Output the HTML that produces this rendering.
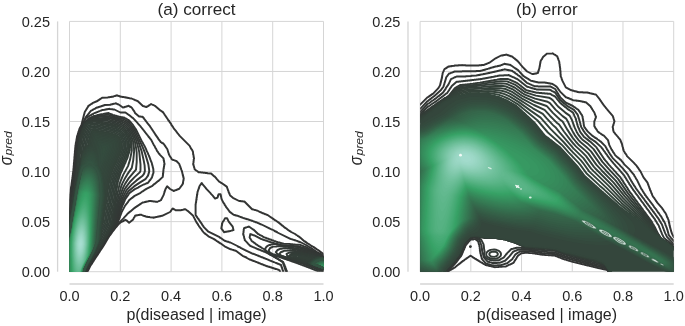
<!DOCTYPE html>
<html><head><meta charset="utf-8"><style>
html,body{margin:0;padding:0;background:#fff;width:685px;height:326px;overflow:hidden}
svg{display:block;will-change:transform}
</style></head><body>
<svg width="685" height="326" viewBox="0 0 685 326" font-family='"Liberation Sans", sans-serif' font-size="14.5" fill="#262626">
<defs><clipPath id="clipL"><rect x="69.5" y="21.4" width="254.0" height="250.29999999999998"/></clipPath><clipPath id="clipR"><rect x="420.1" y="21.4" width="253.60000000000002" height="250.29999999999998"/></clipPath></defs>
<rect width="685" height="326" fill="#fff"/>
<line x1="69.50" y1="21.40" x2="69.50" y2="271.70" stroke="#d5d5d5" stroke-width="1"/>
<line x1="120.30" y1="21.40" x2="120.30" y2="271.70" stroke="#d5d5d5" stroke-width="1"/>
<line x1="171.10" y1="21.40" x2="171.10" y2="271.70" stroke="#d5d5d5" stroke-width="1"/>
<line x1="221.90" y1="21.40" x2="221.90" y2="271.70" stroke="#d5d5d5" stroke-width="1"/>
<line x1="272.70" y1="21.40" x2="272.70" y2="271.70" stroke="#d5d5d5" stroke-width="1"/>
<line x1="323.50" y1="21.40" x2="323.50" y2="271.70" stroke="#d5d5d5" stroke-width="1"/>
<line x1="69.50" y1="271.70" x2="323.50" y2="271.70" stroke="#d5d5d5" stroke-width="1"/>
<line x1="69.50" y1="221.64" x2="323.50" y2="221.64" stroke="#d5d5d5" stroke-width="1"/>
<line x1="69.50" y1="171.58" x2="323.50" y2="171.58" stroke="#d5d5d5" stroke-width="1"/>
<line x1="69.50" y1="121.52" x2="323.50" y2="121.52" stroke="#d5d5d5" stroke-width="1"/>
<line x1="69.50" y1="71.46" x2="323.50" y2="71.46" stroke="#d5d5d5" stroke-width="1"/>
<line x1="69.50" y1="21.40" x2="323.50" y2="21.40" stroke="#d5d5d5" stroke-width="1"/>
<line x1="420.10" y1="21.40" x2="420.10" y2="271.70" stroke="#d5d5d5" stroke-width="1"/>
<line x1="470.82" y1="21.40" x2="470.82" y2="271.70" stroke="#d5d5d5" stroke-width="1"/>
<line x1="521.54" y1="21.40" x2="521.54" y2="271.70" stroke="#d5d5d5" stroke-width="1"/>
<line x1="572.26" y1="21.40" x2="572.26" y2="271.70" stroke="#d5d5d5" stroke-width="1"/>
<line x1="622.98" y1="21.40" x2="622.98" y2="271.70" stroke="#d5d5d5" stroke-width="1"/>
<line x1="673.70" y1="21.40" x2="673.70" y2="271.70" stroke="#d5d5d5" stroke-width="1"/>
<line x1="420.10" y1="271.70" x2="673.70" y2="271.70" stroke="#d5d5d5" stroke-width="1"/>
<line x1="420.10" y1="221.64" x2="673.70" y2="221.64" stroke="#d5d5d5" stroke-width="1"/>
<line x1="420.10" y1="171.58" x2="673.70" y2="171.58" stroke="#d5d5d5" stroke-width="1"/>
<line x1="420.10" y1="121.52" x2="673.70" y2="121.52" stroke="#d5d5d5" stroke-width="1"/>
<line x1="420.10" y1="71.46" x2="673.70" y2="71.46" stroke="#d5d5d5" stroke-width="1"/>
<line x1="420.10" y1="21.40" x2="673.70" y2="21.40" stroke="#d5d5d5" stroke-width="1"/>
<g clip-path="url(#clipL)"><g fill="none" stroke-width="1.95" stroke-linejoin="round"><path d="M335.1,285.3L285.1,285.3 284.7,284.6 284.7,284.1 284.2,283.4 283.7,281.4 283.2,280.6 282.9,279.4 282.4,278.6 281.9,276.6 281.4,275.9 280.9,273.9 280.4,273.1 280.2,271.9 279.7,271.1 279.7,270.6 279.4,270.1 278.9,270.0 278.6,269.8 278.1,269.8 277.9,269.5 277.4,269.5 276.4,269.0 275.6,269.0 275.4,268.8 274.9,268.8 274.6,268.5 273.4,268.3 273.1,268.0 271.9,267.8 271.6,267.5 271.1,267.5 270.9,267.3 269.6,267.0 269.4,266.8 268.6,266.8 267.6,266.3 267.1,266.3 266.1,265.8 265.6,265.8 264.9,265.3 264.4,265.3 263.6,264.8 263.1,264.8 262.4,264.3 261.9,264.3 259.9,263.3 259.4,263.3 258.6,262.8 257.4,262.5 256.6,262.0 256.1,262.0 255.4,261.5 254.9,261.5 254.1,261.0 253.6,261.0 252.1,260.3 251.6,260.3 250.9,259.8 250.4,259.8 246.9,258.0 246.4,257.5 242.6,255.8 235.9,250.8 235.4,250.8 235.1,250.5 233.9,250.3 233.6,250.0 232.9,250.0 231.9,249.5 231.4,249.5 231.1,249.3 230.6,249.3 224.6,246.3 220.4,243.3 220.1,243.3 219.6,242.8 219.4,242.8 218.9,242.3 218.6,242.3 218.1,241.8 217.9,241.8 217.4,241.3 216.4,240.8 215.1,239.8 214.9,239.8 214.4,239.3 214.1,239.3 213.6,238.8 208.4,236.3 205.6,234.0 205.4,234.0 204.4,233.0 204.1,233.0 202.0,230.4 201.5,229.4 200.0,227.6 200.0,227.4 199.2,226.6 198.7,225.6 198.2,225.1 198.0,224.4 196.5,222.4 192.9,215.4 187.6,210.7 187.4,210.7 185.4,209.2 184.4,209.2 184.1,209.5 183.4,209.5 183.1,209.7 181.4,210.0 181.1,210.2 175.6,210.2 174.6,209.5 173.4,209.0 172.9,208.5 172.5,208.6 172.5,208.9 171.7,209.6 171.2,210.6 170.1,212.0 162.6,215.7 161.6,215.7 161.4,216.0 160.6,216.0 160.4,216.2 159.4,216.2 159.1,216.5 158.1,216.5 157.9,216.7 157.1,216.7 156.9,217.0 155.9,217.0 155.6,217.2 154.9,217.2 154.6,217.5 153.6,217.5 153.4,217.7 153.1,217.5 149.9,217.2 149.6,217.0 147.9,217.0 147.6,216.7 146.1,216.7 144.6,216.0 143.4,215.7 143.1,215.5 142.6,215.5 141.1,214.7 139.4,214.7 139.1,215.0 138.1,215.0 137.9,215.3 136.6,215.3 136.4,215.5 135.4,215.5 135.0,215.9 134.5,217.1 134.0,217.6 133.2,219.4 129.1,222.8 126.4,220.3 125.4,219.8 123.9,220.6 123.4,221.1 121.6,221.8 119.6,223.3 119.4,223.4 116.9,226.1 116.9,226.4 115.4,227.9 115.4,228.1 114.4,229.1 114.4,229.4 112.1,232.1 111.6,233.1 110.9,233.9 110.9,234.1 109.4,235.9 108.6,237.4 108.1,237.9 107.8,238.6 107.4,239.1 107.1,239.9 106.6,240.4 106.1,241.6 105.6,242.1 105.3,242.9 104.9,243.4 104.6,244.1 104.1,244.6 103.8,245.4 103.4,245.9 103.3,246.1 102.9,246.6 102.8,246.9 100.4,250.4 100.3,250.6 99.9,251.1 99.6,251.9 99.1,252.4 99.1,252.6 98.6,253.1 98.6,253.4 98.1,253.9 98.1,254.1 95.6,257.6 95.6,257.9 95.1,258.4 94.8,259.1 94.4,259.6 93.8,260.6 92.4,262.6 92.1,263.4 90.6,265.4 87.6,271.6 87.6,272.4 87.4,272.6 87.3,273.4 87.1,273.6 87.1,274.4 86.9,274.6 86.8,275.4 86.6,275.6 86.6,276.4 86.4,276.6 86.3,277.4 86.1,277.6 86.1,278.4 85.9,278.6 85.8,279.4 85.6,279.6 85.6,280.4 85.4,280.6 85.3,281.4 85.1,281.6 85.1,282.4 84.9,282.6 84.8,283.4 84.6,283.6 84.6,284.4 84.4,284.6 84.3,285.1 83.9,285.4 60.1,285.4 59.9,285.1 59.9,283.1 59.6,282.9 59.6,278.6 59.4,278.4 59.4,274.4 59.1,274.1 59.1,269.9 58.9,269.6 58.9,265.6 58.6,265.4 58.6,261.1 58.4,260.9 58.4,256.9 58.2,256.6 58.1,252.4 57.9,252.1 57.9,249.9 58.4,248.9 58.4,248.1 58.6,247.9 58.9,246.6 59.1,246.4 59.2,245.6 59.4,245.4 59.4,244.9 59.9,243.9 59.9,243.1 60.1,242.9 60.2,242.4 60.6,241.4 60.7,240.6 60.9,240.4 61.2,239.1 61.4,238.9 61.4,238.1 61.6,237.9 61.9,236.6 62.1,236.4 62.2,235.6 62.4,235.4 62.7,234.1 62.9,233.9 62.9,233.1 63.1,232.9 63.2,232.4 63.6,231.4 63.7,230.6 63.9,230.4 63.9,229.6 64.1,229.4 64.4,226.6 64.6,226.4 64.7,225.4 64.9,225.1 64.9,223.9 65.1,223.6 65.2,222.4 65.4,222.1 65.4,220.9 65.6,220.6 65.7,219.6 65.9,219.4 65.9,218.1 66.1,217.9 66.2,216.6 66.4,216.4 66.4,215.4 66.6,215.1 66.7,213.9 66.9,213.6 66.9,212.4 67.1,212.1 67.2,210.9 67.4,210.6 67.4,209.6 67.6,209.4 67.7,208.1 67.9,207.9 67.9,206.6 68.1,206.4 68.2,205.1 68.4,204.9 68.4,203.6 68.6,203.4 68.7,202.1 68.9,201.9 68.9,200.6 69.1,200.4 69.2,199.1 69.4,198.9 69.7,196.1 69.9,195.9 69.9,194.4 70.1,194.1 70.2,192.9 70.4,192.6 70.7,189.4 70.9,189.1 70.9,187.9 71.1,187.6 71.2,186.1 71.4,185.9 71.7,182.6 71.9,182.4 71.9,180.9 72.1,180.6 72.2,179.1 72.4,178.9 72.4,177.4 72.6,177.1 72.7,175.4 72.9,175.1 72.9,173.4 73.1,173.1 73.2,171.4 73.4,171.1 73.4,168.9 73.6,168.6 73.7,165.9 73.9,165.6 73.9,162.9 74.1,162.6 74.2,159.9 74.4,159.6 74.4,156.9 74.6,156.6 74.7,153.9 74.9,153.6 74.9,150.9 75.1,150.6 75.2,147.9 75.4,147.6 75.4,145.6 75.6,145.4 75.9,142.6 76.1,142.4 76.2,141.4 76.4,141.1 76.4,139.9 76.6,139.6 76.7,138.4 76.9,138.1 76.9,136.9 77.1,136.6 77.2,135.9 77.4,135.6 77.4,135.1 77.6,134.9 78.2,132.9 78.4,132.6 78.4,131.9 78.6,131.6 78.7,131.1 78.9,130.9 79.4,128.9 81.6,124.6 81.7,123.9 81.9,123.6 81.9,122.9 82.2,122.6 82.2,121.9 82.4,121.6 82.4,120.9 82.7,120.6 82.7,119.9 82.9,119.6 82.9,118.9 83.2,118.6 83.2,117.9 83.4,117.6 83.4,116.9 83.7,116.6 83.7,115.9 83.9,115.6 83.9,114.9 84.2,114.6 84.2,113.9 84.5,113.6 84.5,112.9 84.7,112.6 84.7,112.1 85.2,111.1 85.7,110.6 86.0,109.9 86.5,109.4 86.7,108.6 87.2,108.1 87.5,107.4 88.0,106.9 88.2,106.1 91.6,103.7 91.9,103.7 92.4,103.2 97.4,101.0 97.9,100.5 98.1,100.5 98.6,100.0 98.9,100.0 99.4,99.5 99.6,99.5 100.1,99.0 100.4,99.0 102.1,97.7 107.9,97.5 108.1,97.2 109.6,97.2 109.9,97.0 111.1,97.0 111.4,96.7 112.9,96.7 113.1,96.5 113.6,96.5 114.6,96.0 115.1,96.0 115.4,95.7 115.9,95.7 116.1,95.5 116.6,95.5 116.9,95.3 117.1,95.5 117.6,95.5 117.9,95.8 119.1,96.0 119.4,96.3 119.9,96.3 120.1,96.5 120.6,96.5 120.9,96.8 122.1,96.8 122.4,97.0 123.9,97.0 124.1,97.3 125.4,97.3 125.6,97.5 126.6,97.5 126.9,97.8 127.9,97.8 128.1,98.0 129.1,98.0 129.4,98.2 131.6,98.5 133.6,99.5 134.1,99.5 135.4,100.3 135.9,100.3 136.6,100.8 137.1,100.8 137.6,101.0 142.9,106.0 144.1,106.3 144.4,106.5 144.9,106.5 145.1,106.8 145.6,106.8 145.9,107.0 146.6,107.0 147.1,106.5 148.6,105.8 149.1,105.3 149.4,105.3 151.1,104.0 152.9,105.0 153.4,105.0 154.9,105.8 160.4,110.5 160.6,110.5 163.2,112.4 163.2,112.6 163.7,113.1 163.7,113.4 164.2,113.9 164.7,114.9 165.4,115.6 165.4,115.9 165.9,116.4 165.9,116.6 166.4,117.1 166.4,117.4 166.9,117.9 166.9,118.1 167.4,118.6 167.9,119.6 168.4,120.1 168.4,120.4 169.2,121.1 169.2,121.4 171.2,124.1 171.4,124.9 172.9,126.9 173.7,128.4 176.5,131.6 176.5,131.9 177.2,132.6 177.2,132.9 178.2,133.9 178.2,134.1 179.2,135.1 179.2,135.4 189.7,145.9 190.9,148.4 192.2,150.1 192.7,151.1 192.7,151.6 193.0,151.9 193.2,154.6 193.5,154.9 193.5,156.1 193.7,156.4 193.7,157.6 194.0,157.9 194.0,159.1 193.7,159.4 193.7,161.1 193.5,161.4 193.5,163.1 193.2,163.4 193.2,164.4 193.5,164.6 193.5,165.4 193.7,165.6 193.7,166.1 194.0,166.4 194.0,167.1 194.5,168.1 194.5,168.9 195.1,169.8 195.4,169.8 196.1,170.5 197.1,171.0 198.6,172.3 200.6,172.3 200.9,172.5 202.9,172.5 203.1,172.8 205.1,172.8 205.4,173.0 207.1,173.0 207.4,173.3 211.1,173.5 214.1,176.3 214.4,176.3 216.2,178.1 216.2,178.4 219.4,181.8 219.6,181.8 220.9,182.8 221.6,183.0 226.7,186.6 227.0,187.1 227.0,187.6 227.5,188.4 227.5,188.9 228.0,189.9 228.0,190.4 228.5,191.1 228.7,192.4 229.5,193.6 229.5,194.1 230.2,195.6 232.9,197.8 239.1,201.0 240.6,201.0 240.9,201.3 242.6,201.3 242.9,201.5 244.4,201.5 252.1,209.3 252.6,209.3 252.9,209.5 253.6,209.5 254.6,210.0 255.4,210.0 256.4,210.5 257.1,210.5 260.6,212.3 261.1,212.3 262.9,213.3 263.4,213.3 264.1,213.8 264.6,213.8 265.4,214.3 265.9,214.3 266.6,214.8 267.1,214.8 267.6,215.0 271.1,217.5 271.4,217.5 272.6,218.5 272.9,218.5 273.6,219.3 273.9,219.3 275.1,220.3 275.4,220.3 278.1,222.3 278.4,222.3 279.4,223.3 279.6,223.3 280.6,224.3 280.9,224.3 282.1,225.5 282.4,225.5 284.6,227.5 284.9,227.5 285.6,228.2 286.6,228.7 288.4,230.2 288.6,230.2 289.9,231.2 290.6,231.5 291.1,232.0 295.1,234.0 296.4,235.0 297.4,235.5 298.1,236.2 299.1,236.7 299.6,237.2 299.9,237.2 304.6,241.4 304.9,241.4 306.9,242.9 307.1,242.9 308.4,243.9 309.1,244.2 311.9,246.2 312.6,246.4 313.1,246.9 313.4,246.9 316.9,249.4 317.9,249.9 318.4,250.4 319.4,250.9 319.9,251.4 320.1,251.4 320.9,252.2 321.1,252.2 323.6,254.2 324.1,254.2 325.1,254.7 325.6,254.7 325.9,254.9 326.4,254.9 326.6,255.2 328.6,255.7 329.4,256.2 329.9,256.2 330.1,256.4 330.6,256.4 330.9,256.7 331.4,256.7 331.6,256.9 332.1,256.9 332.4,257.2 332.9,257.2 333.1,257.4 333.6,257.4 334.6,257.9 335.1,257.9 335.3,258.1 335.3,259.1 335.3,284.1 335.3,285.1 335.1,285.3Z" stroke="#333433"/><path d="M60.1,285.3L59.9,285.1 59.7,274.6 59.5,274.1 59.5,267.6 59.3,267.4 59.2,260.9 59.0,260.4 59.0,253.6 58.8,253.4 58.8,249.9 59.2,248.9 59.3,248.1 60.0,246.4 60.0,245.6 60.7,243.9 60.8,243.1 61.5,241.4 61.5,240.6 62.2,238.9 62.3,238.1 63.0,236.4 63.0,235.6 63.7,233.9 63.8,233.1 64.5,231.4 64.5,230.6 64.7,230.4 64.8,229.6 65.0,229.4 65.3,226.6 65.5,226.4 65.5,225.4 65.7,225.1 65.8,223.9 66.0,223.6 66.0,222.4 66.2,222.1 66.3,220.9 66.5,220.6 66.5,219.6 66.7,219.4 67.0,216.6 67.2,216.4 67.3,215.4 67.5,215.1 67.5,213.9 67.7,213.6 68.0,210.9 68.2,210.6 68.3,209.6 68.5,209.4 68.5,208.1 68.7,207.9 68.8,206.6 69.0,206.4 69.0,205.1 69.2,204.9 69.3,203.6 69.5,203.4 69.5,202.1 69.7,201.9 69.8,200.6 70.0,200.4 70.0,199.1 70.2,198.9 70.3,197.6 70.5,197.4 70.5,196.1 70.7,195.9 70.8,194.4 71.0,194.1 71.0,192.9 71.2,192.6 71.5,189.4 71.7,189.1 71.8,187.9 72.0,187.6 72.3,184.4 72.5,184.1 72.5,182.6 72.7,182.4 72.8,180.9 73.0,180.6 73.0,179.1 73.2,178.9 73.3,177.4 73.5,177.1 73.5,175.4 73.7,175.1 74.0,171.4 74.2,171.1 74.3,168.9 74.5,168.6 74.5,165.9 74.7,165.6 74.8,162.9 75.0,162.6 75.0,159.9 75.2,159.6 75.3,156.9 75.5,156.6 75.5,153.9 75.7,153.6 75.8,150.9 76.0,150.6 76.0,147.9 76.2,147.6 76.3,145.6 76.5,145.4 76.8,142.6 77.0,142.4 77.0,141.4 77.2,141.1 77.5,138.4 77.7,138.1 77.8,136.9 78.0,136.6 78.0,135.9 78.2,135.6 78.3,135.1 79.2,132.6 79.3,131.9 79.5,131.6 80.3,128.9 82.5,124.4 82.9,124.2 83.2,123.6 83.2,123.1 84.4,120.6 84.4,120.1 85.1,118.9 85.2,118.4 86.0,116.9 86.7,116.1 86.7,115.9 88.0,114.6 88.0,114.4 89.2,113.1 89.2,112.9 91.1,110.7 92.4,110.2 92.9,109.7 95.1,108.7 95.6,108.2 97.1,107.5 97.6,107.5 97.9,107.2 98.4,107.2 98.6,107.0 99.9,106.7 100.1,106.5 101.4,106.2 101.6,106.0 102.1,106.0 102.4,105.7 102.9,105.7 103.1,105.5 103.6,105.5 103.9,105.2 104.4,105.2 104.6,105.0 110.4,104.7 110.6,104.5 111.4,104.5 111.6,104.2 112.4,104.2 112.6,104.0 113.4,104.0 113.6,103.7 115.4,103.5 115.6,103.2 117.4,104.2 117.9,104.2 119.4,105.0 122.9,107.5 123.4,107.5 123.6,107.2 124.4,107.2 124.6,107.0 126.6,106.5 126.9,106.2 127.6,106.2 128.6,105.7 129.6,106.5 130.9,107.0 132.0,107.9 132.8,109.4 134.3,111.4 135.0,112.9 139.1,116.5 140.6,116.5 140.9,116.7 142.6,116.7 143.0,117.1 143.0,117.4 143.8,118.1 143.8,118.4 146.0,121.1 146.0,121.4 147.0,122.4 147.0,122.6 150.1,126.4 150.1,126.6 150.6,127.1 150.6,127.4 151.1,127.9 151.1,128.1 151.6,128.6 151.6,128.9 152.1,129.4 152.1,129.6 152.6,130.1 152.6,130.4 153.1,130.9 153.1,131.1 153.6,131.6 153.6,131.9 154.1,132.4 154.1,132.6 154.6,133.1 154.6,133.4 155.1,133.9 155.1,134.1 158.1,138.4 158.1,138.6 160.3,141.4 160.3,141.6 160.9,142.2 161.6,142.5 162.1,143.0 163.4,143.5 165.3,146.1 165.3,146.4 166.0,147.1 166.0,147.4 166.5,147.9 166.5,148.1 167.0,148.6 167.5,149.6 167.8,150.9 168.0,151.1 168.1,151.9 168.3,152.1 168.3,152.6 168.8,153.6 168.8,154.1 169.8,156.1 170.3,156.6 170.6,157.4 171.1,157.9 171.6,159.1 171.9,159.4 172.4,159.4 173.1,160.0 173.6,160.0 174.6,160.5 175.1,160.5 175.9,161.0 176.4,161.0 179.2,163.9 179.5,164.4 179.5,164.9 180.2,166.4 180.2,166.9 180.5,167.1 180.5,167.6 181.0,168.4 181.2,169.6 182.0,171.1 182.0,171.9 182.2,172.1 182.5,173.9 182.7,174.1 182.7,174.9 183.0,175.1 183.0,175.9 183.2,176.1 183.2,176.9 183.5,177.1 183.5,177.9 183.7,178.1 183.7,179.1 183.5,179.4 183.5,180.6 183.2,180.9 183.2,181.9 183.0,182.1 183.0,183.4 182.7,183.6 182.7,184.1 179.1,189.0 178.6,189.0 177.1,189.7 176.6,189.8 176.4,190.0 175.1,190.3 173.6,191.0 172.6,190.3 170.1,189.0 167.1,186.3 165.3,189.4 165.3,189.9 164.8,190.9 164.8,191.4 164.5,191.6 164.5,192.4 164.3,192.6 164.0,193.9 163.8,194.1 163.8,194.6 160.9,200.2 159.4,201.0 158.9,201.0 157.1,202.0 156.9,201.7 155.4,201.7 155.1,201.5 153.4,201.5 153.1,201.3 151.6,201.3 151.4,201.0 148.9,201.0 148.6,201.3 146.9,201.5 146.6,201.8 145.6,201.8 145.4,202.0 144.6,202.0 144.4,202.3 142.6,202.5 140.9,203.8 140.6,203.8 140.1,204.3 139.9,204.3 139.4,204.8 139.1,204.8 138.6,205.2 138.4,205.2 137.9,205.7 137.6,205.7 137.1,206.2 136.9,206.2 136.4,206.7 136.1,206.7 135.6,207.2 135.4,207.2 134.6,208.0 134.4,208.0 130.4,211.5 130.1,211.5 129.1,212.5 128.9,212.5 126.7,214.6 126.7,214.9 124.0,217.6 124.0,217.9 118.0,223.9 118.0,224.1 116.2,225.9 116.2,226.1 113.8,228.9 113.8,229.1 111.5,231.9 111.0,232.9 108.8,235.6 108.0,237.1 106.3,239.6 106.0,240.4 105.5,240.9 105.3,241.6 103.5,244.1 103.3,244.9 99.3,250.6 99.0,251.4 94.5,257.9 94.2,258.6 93.8,259.1 93.7,259.4 91.8,262.1 91.5,262.9 90.0,264.9 87.0,271.1 87.0,271.9 86.8,272.1 86.7,272.9 86.5,273.1 86.5,273.9 86.3,274.1 86.2,274.9 86.0,275.1 86.0,275.9 85.8,276.1 85.7,276.9 85.5,277.1 85.5,277.9 85.3,278.1 85.2,278.9 85.0,279.1 85.0,279.9 84.8,280.1 84.7,280.9 84.5,281.1 84.5,281.9 84.3,282.1 84.2,282.9 84.0,283.1 84.0,283.9 83.6,284.7 60.4,285.1 60.1,285.3ZM333.1,283.2L287.1,283.2 286.8,282.6 286.2,280.6 285.8,279.6 285.7,279.1 285.5,278.9 285.5,278.4 285.3,278.1 284.7,276.1 284.5,275.9 284.5,275.4 284.2,275.1 284.2,274.6 284.0,274.4 284.0,273.6 283.7,273.4 283.7,272.9 283.2,271.9 283.0,270.6 282.7,270.4 282.5,269.1 282.2,268.9 282.2,268.4 282.0,268.1 282.0,267.6 281.7,267.4 281.7,266.9 281.5,266.6 281.5,266.1 281.2,265.9 281.2,265.4 280.9,264.8 280.4,264.8 279.6,264.3 279.1,264.3 278.4,263.8 277.9,263.8 277.1,263.3 275.9,263.0 273.9,262.0 273.4,262.0 272.6,261.5 272.1,261.5 271.4,261.0 270.9,261.0 269.6,260.3 269.1,260.3 267.9,259.5 267.4,259.5 266.6,259.0 266.1,259.0 264.9,258.3 264.4,258.3 263.6,257.8 263.1,257.8 262.4,257.3 261.9,257.3 259.9,256.3 259.4,256.3 258.6,255.8 257.4,255.5 256.6,255.0 256.1,255.0 255.4,254.5 254.9,254.5 254.1,254.0 252.9,253.8 250.9,252.8 250.4,252.7 246.6,250.8 246.1,250.7 241.1,248.2 240.6,247.7 237.9,246.5 237.4,246.0 230.4,242.5 229.1,242.2 228.1,241.7 227.4,241.7 227.1,241.5 226.6,241.5 226.4,241.2 225.9,241.2 225.6,241.0 224.6,240.7 220.4,237.7 220.1,237.7 219.6,237.2 208.4,231.7 203.6,226.9 203.6,226.6 202.1,224.6 201.8,223.9 199.8,221.1 199.8,220.9 199.1,220.1 198.6,219.1 197.8,218.4 197.8,218.1 197.1,217.4 197.1,217.1 195.6,215.1 195.6,204.4 195.8,204.1 195.8,202.9 196.1,202.6 196.1,201.1 196.3,200.9 196.3,199.6 196.6,199.4 196.5,197.9 196.8,197.6 196.8,196.4 197.0,196.1 197.0,194.6 197.3,194.4 197.3,193.1 197.5,192.9 197.5,191.9 198.0,190.9 198.0,190.4 198.3,190.1 198.3,189.6 198.5,189.4 198.6,188.9 198.8,188.6 198.8,188.1 199.1,187.9 199.1,187.4 199.3,187.1 199.3,186.6 199.8,185.6 200.8,184.4 200.8,184.1 201.3,183.6 201.3,183.4 201.6,183.1 202.2,183.6 202.2,183.9 205.9,188.1 205.9,188.4 210.7,193.4 210.7,193.6 213.0,195.9 213.0,196.1 215.1,198.5 215.6,198.5 216.4,198.0 216.9,198.0 217.5,197.6 217.8,197.1 217.8,196.6 218.0,196.4 218.0,195.6 218.3,195.4 218.3,194.9 218.6,194.3 220.6,194.3 220.7,195.1 220.9,195.4 220.9,196.6 221.2,196.9 221.2,198.1 221.5,198.4 221.5,198.9 223.2,202.4 224.5,204.1 224.7,204.9 225.7,206.1 226.0,206.9 228.0,209.4 228.0,209.6 228.8,210.4 228.8,210.6 229.5,211.4 229.5,211.6 233.6,214.7 234.9,215.0 235.1,215.2 235.6,215.2 235.9,215.5 236.6,215.5 236.9,215.7 237.4,215.7 238.4,216.2 238.9,216.2 239.1,216.5 239.6,216.5 240.4,217.0 241.6,217.2 241.9,217.5 242.4,217.5 243.1,218.0 244.4,218.2 244.6,218.5 245.1,218.5 245.4,218.7 246.1,218.7 246.4,219.0 246.9,219.0 247.1,219.2 247.6,219.2 248.6,219.7 249.4,219.7 249.6,220.0 250.9,220.2 251.6,220.7 252.1,220.7 253.6,221.5 254.9,221.7 255.6,222.2 256.1,222.2 258.1,223.2 258.6,223.2 259.9,224.0 260.4,224.0 261.1,224.5 261.6,224.5 268.9,228.2 269.4,228.3 271.6,229.5 272.1,229.5 274.1,230.5 274.6,231.0 276.9,232.0 277.4,232.5 289.9,238.7 290.4,238.7 290.6,239.0 291.1,239.0 292.1,239.5 292.9,239.5 293.9,240.0 295.9,240.5 296.9,241.0 297.4,241.0 298.1,241.5 300.1,242.0 306.1,245.0 306.6,245.5 307.4,245.7 309.1,247.0 309.9,247.2 310.4,247.7 311.1,248.0 317.6,252.5 318.9,253.0 319.4,253.5 321.6,254.5 322.1,255.0 323.6,255.7 324.9,256.0 325.6,256.5 327.6,257.0 328.4,257.5 330.4,258.0 330.6,258.2 331.1,258.3 332.6,259.0 333.1,259.0 333.2,260.1 333.1,283.2Z" stroke="#333534"/><path d="M60.1,285.3L59.9,285.1 59.5,249.9 60.0,248.9 60.0,248.1 60.7,246.4 60.8,245.6 61.5,243.9 61.5,243.1 62.2,241.4 62.3,240.6 63.0,238.9 63.0,238.1 63.7,236.4 63.8,235.6 64.5,233.9 64.5,233.1 65.2,231.4 65.3,230.6 65.5,230.4 65.5,229.6 65.7,229.4 66.0,226.6 66.2,226.4 66.3,225.4 66.5,225.1 66.5,223.9 66.7,223.6 67.0,220.9 67.2,220.6 67.3,219.6 67.5,219.4 67.8,216.6 68.0,216.4 68.0,215.4 68.2,215.1 68.3,213.9 68.5,213.6 68.8,210.9 69.0,210.6 69.0,209.6 69.2,209.4 69.3,208.1 69.5,207.9 69.8,205.1 70.0,204.9 70.0,203.6 70.2,203.4 70.3,202.1 70.5,201.9 70.5,200.6 70.7,200.4 70.8,199.1 71.0,198.9 71.0,197.6 71.2,197.4 71.3,196.1 71.5,195.9 71.5,194.4 71.7,194.1 71.8,192.9 72.0,192.6 72.3,189.4 72.5,189.1 72.5,187.9 72.7,187.6 73.0,184.4 73.2,184.1 73.3,182.6 73.5,182.4 73.5,180.9 73.7,180.6 73.8,179.1 74.0,178.9 74.0,177.4 74.2,177.1 74.3,175.4 74.5,175.1 74.5,173.4 74.7,173.1 74.8,171.4 75.0,171.1 75.0,168.9 75.2,168.6 75.3,165.9 75.5,165.6 75.5,162.9 75.7,162.6 75.8,159.9 76.0,159.6 76.0,156.9 76.2,156.6 76.3,153.9 76.5,153.6 76.5,150.9 76.7,150.6 76.8,147.9 77.0,147.6 77.0,145.6 77.2,145.4 77.5,142.6 77.7,142.4 77.8,141.4 78.0,141.1 78.0,139.9 78.2,139.6 78.5,136.9 78.7,136.6 78.8,135.9 79.0,135.6 79.0,135.1 80.0,132.6 80.0,131.9 80.2,131.6 81.0,128.9 83.3,124.6 83.1,123.9 83.8,122.6 83.8,122.1 84.3,121.4 84.3,120.9 85.1,119.6 85.1,119.1 85.6,118.1 86.4,117.8 86.9,117.3 88.6,116.5 89.1,116.0 90.9,115.2 91.4,114.7 93.1,114.0 93.6,113.5 94.6,113.0 95.1,113.0 95.9,112.5 96.4,112.5 97.1,112.0 97.6,112.0 98.4,111.5 98.9,111.5 100.9,110.5 101.4,110.5 102.1,110.0 104.9,109.7 105.1,109.5 106.1,109.5 106.4,109.2 107.6,109.2 107.9,109.0 109.1,109.0 109.4,108.8 109.6,109.0 112.6,109.3 112.9,109.5 114.4,109.5 120.4,112.5 125.4,112.5 128.9,115.0 129.1,115.0 132.4,117.7 132.6,117.7 137.5,122.9 137.5,123.1 140.8,126.6 140.8,126.9 141.8,127.9 141.8,128.1 142.8,129.1 142.8,129.4 143.8,130.4 143.8,130.6 144.8,131.6 144.8,131.9 145.7,132.9 145.7,133.1 146.7,134.1 146.7,134.4 147.7,135.4 147.7,135.6 148.7,136.6 148.7,136.9 149.5,137.6 149.5,137.9 151.2,139.9 154.0,145.4 154.5,145.9 155.5,148.1 156.0,148.6 157.0,150.9 158.2,152.4 158.7,153.4 159.5,154.1 159.5,154.4 163.5,158.4 163.5,158.9 163.7,159.1 163.7,160.4 164.0,160.6 164.0,161.6 164.2,161.9 164.2,163.1 164.5,163.4 164.5,164.4 164.2,164.6 164.2,165.9 164.0,166.1 164.0,167.1 163.8,167.4 163.8,168.6 163.5,168.9 163.5,170.4 163.3,170.6 163.3,172.9 163.0,173.1 163.0,175.4 162.8,175.6 162.8,176.9 158.4,181.0 158.1,181.0 154.9,183.8 154.6,183.8 152.4,185.8 146.4,188.8 145.9,189.3 145.6,189.3 144.4,190.3 144.1,190.3 142.9,191.3 142.6,191.3 140.6,192.8 134.6,195.8 133.6,196.8 133.4,196.8 132.4,197.8 132.1,197.8 128.8,200.6 128.8,200.9 128.1,201.6 128.1,201.9 125.1,205.6 121.3,212.9 121.3,213.4 120.8,214.1 120.8,214.6 120.1,216.1 119.8,217.4 119.3,218.1 119.0,219.4 118.6,220.1 118.3,221.4 117.5,222.9 117.0,223.4 117.0,223.6 116.0,224.9 116.0,225.1 113.5,228.6 113.5,228.9 112.7,229.6 112.0,230.9 111.2,231.6 110.7,232.6 108.5,235.4 107.7,236.9 106.0,239.4 105.7,240.1 105.2,240.6 105.0,241.4 103.2,243.9 103.0,244.6 102.0,245.9 101.5,246.9 100.8,247.6 97.7,252.4 97.0,253.1 97.0,253.4 94.0,257.6 93.8,258.4 91.3,261.9 91.0,262.6 89.5,264.6 86.5,270.9 86.5,271.6 86.3,271.9 86.3,272.6 86.0,272.9 86.0,273.6 85.8,273.9 85.8,274.6 85.5,274.9 85.5,275.6 85.3,275.9 85.3,276.6 85.0,276.9 85.0,277.6 84.8,277.9 84.8,278.6 84.5,278.9 84.5,279.6 84.3,279.9 84.3,280.6 84.0,280.9 84.0,281.6 83.8,281.9 83.8,282.6 83.5,282.9 83.3,284.4 68.1,284.8 65.9,285.1 60.4,285.1 60.1,285.3ZM224.1,232.2L221.3,228.4 221.3,227.9 221.6,227.6 221.6,226.4 221.8,226.1 221.8,225.1 222.1,224.9 222.0,223.6 222.3,223.4 222.3,222.9 222.8,221.9 223.8,220.6 224.8,218.6 225.1,218.3 227.1,218.3 228.7,221.6 232.7,226.6 233.5,230.1 232.6,230.2 232.4,230.5 231.6,230.5 230.6,231.0 229.9,231.0 229.6,231.2 228.4,231.2 228.1,231.5 227.1,231.4 226.9,231.7 225.6,231.7 225.4,231.9 224.4,231.9 224.1,232.2ZM331.1,281.3L289.1,281.3 288.7,280.6 288.5,279.4 288.2,279.1 288.2,278.4 288.0,278.1 288.0,277.6 287.7,277.4 287.2,275.4 286.7,274.4 286.7,273.6 286.4,273.4 285.9,271.4 285.7,271.1 285.4,269.9 285.2,269.6 285.2,268.9 284.9,268.6 284.9,268.1 284.7,267.9 284.7,267.4 284.4,267.1 283.9,265.1 283.7,264.9 283.7,264.1 283.4,263.9 283.4,263.4 283.1,263.1 283.1,262.6 282.9,262.1 281.9,261.6 281.4,261.1 280.6,260.9 280.1,260.4 279.4,260.1 278.1,259.1 277.4,258.9 276.9,258.4 276.1,258.1 275.6,257.6 274.1,256.9 273.6,256.4 269.9,254.6 269.4,254.1 264.9,251.8 264.4,251.8 263.6,251.3 263.1,251.3 262.4,250.8 261.9,250.8 261.1,250.3 260.6,250.3 259.9,249.8 259.4,249.8 258.6,249.3 258.1,249.3 256.1,248.3 255.6,248.3 254.4,247.5 253.9,247.5 252.6,246.8 252.1,246.8 251.4,246.3 250.4,246.0 247.7,243.4 247.7,243.1 245.0,240.4 244.7,239.9 244.7,239.1 244.2,238.1 244.0,236.4 243.5,235.4 243.5,234.6 243.2,234.4 243.2,233.4 243.5,233.1 243.5,231.4 243.7,231.1 243.7,229.4 244.0,229.1 244.0,228.1 244.6,228.0 244.9,227.7 245.4,227.7 245.6,227.5 246.4,227.5 247.4,227.0 247.9,227.0 248.1,226.8 248.6,226.8 248.9,226.5 253.1,229.5 253.4,229.5 258.4,234.2 259.6,234.7 260.1,235.2 262.4,236.2 262.9,236.7 264.4,237.4 265.6,237.7 266.4,238.2 268.4,238.7 269.1,239.2 271.1,239.7 271.9,240.2 273.1,240.4 273.9,240.9 275.1,241.2 276.6,241.9 277.4,241.9 277.6,242.2 279.4,242.4 280.4,242.9 281.1,242.9 281.4,243.2 282.1,243.2 282.4,243.4 283.1,243.4 283.4,243.7 290.1,243.9 290.4,244.2 292.6,244.2 292.9,244.4 295.1,244.5 295.4,244.7 300.1,244.7 300.9,245.2 301.4,245.2 302.1,245.7 302.6,245.7 303.4,246.2 303.9,246.2 304.6,246.7 305.1,246.7 308.6,248.5 309.1,249.0 312.4,250.5 312.9,250.9 314.1,251.5 314.6,251.9 317.1,253.2 317.6,253.6 324.6,257.1 325.1,257.2 327.4,258.4 327.9,258.4 329.6,259.4 330.1,259.4 330.4,259.7 331.1,260.0 331.3,260.6 331.3,280.4 331.1,281.3Z" stroke="#333634"/><path d="M60.1,285.3L59.9,285.1 59.9,272.9 59.9,267.9 60.2,267.4 60.2,249.9 60.7,248.9 60.7,248.1 61.2,247.1 61.2,246.6 61.4,246.4 61.4,245.6 61.9,244.6 61.9,244.1 62.2,243.9 62.2,243.1 62.7,242.1 62.7,241.6 62.9,241.4 62.9,240.6 63.4,239.6 63.4,239.1 63.7,238.9 63.7,238.1 64.2,237.1 64.2,236.6 64.4,236.4 64.4,235.6 64.9,234.6 64.9,234.1 65.2,233.9 65.2,233.1 65.7,232.1 65.7,231.6 65.9,231.4 65.9,230.6 66.2,230.4 66.2,229.6 66.4,229.4 66.7,226.6 66.9,226.4 66.9,225.4 67.2,225.1 67.2,223.9 67.4,223.6 67.4,222.4 67.7,222.1 67.7,220.9 67.9,220.6 67.9,219.6 68.2,219.4 68.4,216.6 68.7,216.4 68.7,215.4 68.9,215.1 68.9,213.9 69.2,213.6 69.4,210.9 69.7,210.6 69.7,209.6 69.9,209.4 69.9,208.1 70.2,207.9 70.2,206.6 70.4,206.4 70.4,205.1 70.7,204.9 70.7,203.6 70.9,203.4 70.9,202.1 71.2,201.9 71.2,200.6 71.4,200.4 71.4,199.1 71.7,198.9 71.7,197.6 71.9,197.4 71.9,196.1 72.2,195.9 72.2,194.4 72.4,194.1 72.4,192.9 72.7,192.6 72.9,189.4 73.2,189.1 73.2,187.9 73.4,187.6 73.4,186.1 73.7,185.9 73.7,184.4 73.9,184.1 73.9,182.6 74.2,182.4 74.2,180.9 74.4,180.6 74.7,177.4 74.9,177.1 74.9,175.4 75.2,175.1 75.2,173.4 75.4,173.1 75.4,171.4 75.7,171.1 75.7,168.9 75.9,168.6 75.9,165.9 76.2,165.6 76.2,162.9 76.4,162.6 76.4,159.9 76.7,159.6 76.7,156.9 76.9,156.6 76.9,153.9 77.2,153.6 77.2,150.9 77.4,150.6 77.4,147.9 77.7,147.6 77.7,145.6 77.9,145.4 77.9,144.1 78.2,143.9 78.2,142.6 78.4,142.4 78.4,141.4 78.7,141.1 78.7,139.9 78.9,139.6 78.9,138.4 79.2,138.1 79.2,136.9 79.4,136.6 79.4,135.9 79.9,134.9 79.9,134.4 80.2,134.1 80.2,133.6 80.4,133.4 80.4,132.9 80.7,132.6 80.7,131.9 81.2,130.9 81.2,130.4 81.4,130.1 81.4,129.6 81.7,129.4 81.7,128.9 83.9,124.6 83.9,124.3 83.4,124.1 88.1,118.9 94.1,115.9 95.9,115.7 96.1,115.4 96.9,115.4 97.9,114.9 98.6,114.9 98.9,114.7 99.6,114.7 99.9,114.4 100.6,114.4 100.9,114.2 103.6,113.9 103.9,113.7 104.9,113.7 105.1,113.4 106.4,113.4 106.6,113.2 107.9,113.2 108.1,112.9 110.1,113.9 110.6,113.9 111.4,114.4 111.9,114.4 112.6,114.9 113.1,114.9 113.4,115.2 114.1,115.2 115.1,115.7 115.9,115.7 116.9,116.2 117.6,116.2 118.6,116.7 119.4,116.7 119.6,116.9 120.9,116.9 121.1,117.2 122.6,117.2 122.9,117.4 124.1,117.4 125.1,118.2 125.9,118.4 126.4,118.9 127.1,119.2 127.6,119.7 128.4,119.9 128.9,120.4 129.1,120.4 133.3,125.4 133.8,126.4 134.3,126.9 134.6,127.6 136.1,129.6 142.1,141.9 142.6,142.4 143.6,144.6 144.1,145.1 146.3,149.6 146.3,150.1 148.1,153.6 148.1,154.1 149.1,155.9 149.1,156.4 149.6,157.1 149.6,157.6 150.1,158.4 150.3,159.6 150.8,160.4 150.8,160.9 151.3,161.6 151.3,162.1 151.8,162.9 152.1,164.6 152.3,164.9 152.3,165.6 152.6,165.9 152.6,166.6 152.8,166.9 152.8,167.6 153.1,167.9 153.1,168.6 153.3,168.9 153.5,172.6 153.3,172.9 153.3,173.4 152.8,174.4 152.8,174.9 152.5,175.1 152.5,175.9 152.3,176.1 152.0,177.4 151.3,178.4 151.3,178.6 150.3,179.6 150.3,179.9 149.5,180.6 149.5,180.9 147.9,182.8 146.9,183.3 146.4,183.3 144.1,184.5 143.6,184.5 139.1,186.8 138.6,187.3 135.4,188.8 134.1,189.8 133.9,189.8 133.1,190.5 132.9,190.6 131.6,191.6 131.4,191.6 130.6,192.3 129.6,192.8 129.1,193.4 129.1,193.6 128.6,194.1 128.6,194.4 125.6,198.6 124.6,200.6 124.6,201.1 123.8,202.4 123.8,202.9 123.0,204.1 123.0,204.6 122.3,205.9 122.0,207.1 121.5,207.9 121.5,208.4 121.3,208.6 120.8,210.6 120.3,211.4 119.8,213.4 119.5,213.6 119.5,214.1 119.3,214.4 119.3,214.9 119.0,215.1 119.0,215.9 118.8,216.1 118.5,217.4 118.3,217.6 118.0,218.9 117.8,219.1 117.8,219.9 117.5,220.1 117.3,221.4 116.5,222.9 115.3,224.6 115.0,225.4 114.5,225.9 114.3,226.6 113.8,227.1 113.5,227.9 109.8,232.6 109.8,232.9 109.1,233.6 109.1,233.9 108.3,234.6 108.3,234.9 107.6,235.6 107.3,236.4 106.8,236.9 106.6,237.6 105.3,239.4 104.8,240.6 103.6,242.4 103.3,243.1 102.8,243.6 102.6,244.4 102.1,244.9 101.1,246.6 98.6,250.1 98.3,250.9 93.8,257.4 93.6,258.1 93.1,258.6 93.1,258.9 91.1,261.6 90.8,262.4 89.3,264.4 86.6,269.9 83.1,284.1 82.9,284.3 77.4,284.3 77.1,284.5 71.6,284.6 71.4,284.8 66.1,284.9 65.9,285.0 60.4,285.1 60.1,285.3ZM330.1,280.2L290.1,280.1 289.9,279.6 289.9,279.1 289.4,278.4 289.1,277.1 288.6,276.4 288.4,275.1 287.9,274.4 287.6,273.1 287.1,272.4 286.9,271.1 286.4,270.4 286.1,269.1 285.6,268.4 285.4,267.1 284.9,266.4 284.6,265.1 284.1,264.1 283.6,263.9 283.6,263.4 283.4,263.1 283.4,262.6 283.1,262.1 281.4,260.9 280.6,260.6 280.1,260.1 279.4,259.9 278.1,258.9 276.1,257.9 274.9,256.9 274.1,256.7 273.6,256.2 269.9,254.4 267.9,252.8 263.9,249.0 261.9,248.0 261.4,247.5 260.6,247.2 260.1,246.7 258.9,246.2 257.6,245.2 256.6,244.7 254.9,243.2 253.9,242.7 253.1,241.9 252.1,241.4 251.6,240.9 251.3,240.1 250.8,239.6 250.6,238.9 250.1,238.4 249.6,237.4 250.3,234.1 251.1,234.3 251.4,234.6 251.9,234.6 252.1,234.8 252.6,234.8 252.9,235.1 253.4,235.1 253.6,235.3 254.1,235.3 254.4,235.6 254.9,235.6 261.4,239.1 261.9,239.1 263.4,239.8 263.9,239.8 264.1,240.1 264.6,240.1 265.6,240.5 266.1,240.5 266.9,241.0 267.4,241.0 267.6,241.3 268.1,241.3 268.4,241.5 268.9,241.5 269.1,241.8 269.6,241.8 269.9,242.0 270.4,242.0 271.4,242.5 272.1,242.5 272.4,242.7 272.9,242.7 273.1,243.0 273.6,243.0 273.9,243.2 274.4,243.2 275.4,243.7 277.1,243.9 277.4,244.1 278.1,244.1 278.4,244.4 279.1,244.4 279.4,244.6 280.1,244.6 280.4,244.9 282.1,245.1 282.4,245.4 286.1,245.4 286.4,245.6 290.1,245.7 290.4,245.9 294.1,245.9 294.4,246.2 298.1,246.2 298.4,246.5 299.9,246.7 300.1,247.0 300.9,247.0 301.9,247.5 302.6,247.5 303.6,248.0 304.4,248.0 305.4,248.5 306.1,248.5 306.9,249.0 307.4,249.0 308.1,249.5 308.6,249.5 309.9,250.2 310.4,250.3 311.1,250.8 311.6,250.8 324.4,257.2 326.6,258.0 327.4,258.5 327.9,258.5 329.6,259.5 330.1,259.5 330.4,260.6 330.4,267.9 330.3,276.6 330.1,280.2Z" stroke="#333735"/><path d="M60.1,285.3L60.0,285.1 60.0,267.9 60.3,267.6 60.3,267.1 60.4,249.9 60.8,248.9 60.9,248.1 61.6,246.4 61.6,245.6 62.3,243.9 62.4,243.1 63.1,241.4 63.1,240.6 63.8,238.9 63.9,238.1 64.6,236.4 64.6,235.6 65.3,233.9 65.4,233.1 66.1,231.4 66.1,230.6 66.3,230.4 66.4,229.6 66.6,229.4 66.9,226.6 67.1,226.4 67.1,225.4 67.3,225.1 67.4,223.9 67.6,223.6 67.6,222.4 67.8,222.1 67.9,220.9 68.1,220.6 68.1,219.6 68.3,219.4 68.6,216.6 68.8,216.4 68.9,215.4 69.1,215.1 69.1,213.9 69.3,213.6 69.6,210.9 69.8,210.6 69.9,209.6 70.1,209.4 70.1,208.1 70.3,207.9 70.4,206.6 70.6,206.4 70.6,205.1 70.8,204.9 70.9,203.6 71.1,203.4 71.1,202.1 71.3,201.9 71.4,200.6 71.6,200.4 71.9,197.6 72.1,197.4 72.1,196.1 72.3,195.9 72.4,194.4 72.6,194.1 72.6,192.9 72.8,192.6 73.1,189.4 73.3,189.1 73.4,187.9 73.6,187.6 73.6,186.1 73.8,185.9 73.9,184.4 74.1,184.1 74.4,180.9 74.6,180.6 74.6,179.1 74.8,178.9 74.9,177.4 75.1,177.1 75.1,175.4 75.3,175.1 75.6,171.4 75.8,171.1 75.9,168.9 76.1,168.6 76.1,165.9 76.3,165.6 76.4,162.9 76.6,162.6 76.6,159.9 76.8,159.6 76.9,156.9 77.1,156.6 77.1,153.9 77.3,153.6 77.4,150.9 77.6,150.6 77.6,147.9 77.8,147.6 77.9,145.6 78.1,145.4 78.1,144.1 78.3,143.9 78.4,142.6 78.6,142.4 78.6,141.4 78.8,141.1 78.9,139.9 79.1,139.6 79.1,138.4 79.3,138.1 79.4,136.9 79.6,136.6 79.6,135.9 80.3,134.1 80.4,133.6 80.6,133.4 80.6,132.9 80.8,132.6 80.9,131.9 81.6,130.1 81.6,129.6 81.8,129.4 81.9,128.9 83.3,126.1 83.7,124.9 84.0,124.6 83.9,124.2 83.6,124.1 87.5,120.1 88.4,119.4 94.4,116.8 101.4,115.4 107.9,114.7 112.1,116.2 118.4,118.0 123.6,119.0 128.4,121.8 132.5,126.9 135.0,130.6 142.2,146.1 143.9,150.1 145.4,154.4 148.3,164.1 149.2,170.1 149.2,171.6 148.0,175.6 145.4,179.2 140.9,181.9 134.1,186.4 128.4,191.3 127.5,192.4 124.4,197.9 123.4,200.1 121.3,205.4 119.4,211.1 116.6,221.1 114.6,225.1 113.0,227.9 108.9,233.6 108.9,233.9 107.5,235.6 107.2,236.4 106.7,236.9 106.4,237.6 105.2,239.4 104.7,240.6 103.5,242.4 103.2,243.1 102.7,243.6 102.4,244.4 98.4,250.1 98.2,250.9 93.7,257.4 93.4,258.1 90.9,261.6 90.7,262.4 90.2,262.9 89.7,263.9 89.2,264.4 86.4,269.9 82.9,284.1 77.4,284.3 77.1,284.5 71.6,284.5 71.1,284.7 66.1,284.8 65.9,285.0 60.4,285.0 60.1,285.3ZM330.1,276.7L328.9,276.3 328.4,275.8 327.1,275.3 326.6,274.8 324.9,274.1 324.4,273.6 323.4,273.1 322.9,273.1 322.1,272.6 320.1,272.1 318.6,271.3 318.1,271.3 316.1,270.3 315.6,270.3 314.4,269.6 313.9,269.6 313.1,269.1 312.6,269.1 311.9,268.6 311.4,268.6 310.6,268.1 309.4,267.8 307.9,267.1 307.4,267.1 306.6,266.6 305.4,266.3 304.6,265.9 303.4,265.6 302.6,265.1 301.4,264.9 300.6,264.4 299.4,264.1 298.6,263.6 297.4,263.3 296.6,262.9 296.1,262.8 295.9,262.6 295.4,262.6 295.1,262.3 294.6,262.3 293.6,261.8 293.1,261.8 292.9,261.6 292.4,261.6 291.6,261.1 291.1,261.1 290.9,260.8 290.4,260.8 290.1,260.6 289.6,260.6 289.4,260.3 288.9,260.3 288.6,260.1 288.1,260.1 287.9,259.8 287.4,259.8 286.4,259.3 284.4,258.8 283.6,258.3 283.1,258.3 282.9,258.1 282.4,258.1 282.1,257.8 281.6,257.8 281.4,257.6 280.9,257.6 280.6,257.3 280.1,257.3 279.1,256.8 278.4,256.8 277.4,256.3 276.6,256.3 275.6,255.8 274.9,255.8 273.9,255.3 273.1,255.2 272.4,254.7 271.9,254.7 270.1,253.7 269.6,253.7 267.9,252.6 265.9,250.6 265.1,249.1 265.5,248.1 266.0,247.6 266.3,246.9 266.6,246.5 266.9,246.5 267.4,246.0 268.1,245.7 269.1,245.0 269.9,245.0 270.1,244.8 270.9,244.8 271.1,244.5 272.9,244.3 273.1,244.0 277.1,244.1 277.4,244.4 278.1,244.4 278.4,244.6 279.1,244.6 279.4,244.8 280.1,244.8 280.4,245.1 282.1,245.3 282.4,245.6 290.1,245.8 290.4,246.1 292.6,246.1 292.9,246.3 293.9,246.3 294.1,246.6 294.9,246.6 295.1,246.8 297.1,247.0 298.1,247.5 298.9,247.5 299.9,248.0 300.6,248.0 301.6,248.5 302.4,248.5 303.4,249.0 304.1,249.0 304.4,249.3 305.6,249.5 306.6,250.0 307.1,250.0 308.6,250.7 309.1,250.8 309.4,251.0 309.9,251.0 310.1,251.3 312.1,251.8 312.9,252.3 313.4,252.3 314.1,252.8 314.6,252.8 317.1,254.0 317.6,254.0 324.4,257.3 324.9,257.3 327.4,258.6 327.9,258.6 329.6,259.6 330.2,259.6 330.4,261.6 330.4,272.1 330.1,276.7Z" stroke="#333735"/><path d="M60.1,285.3L60.0,282.9 60.2,268.1 60.4,267.1 60.6,250.1 66.8,229.4 72.6,195.9 75.3,177.1 75.9,171.6 76.1,170.6 76.1,169.1 76.4,168.1 76.4,166.1 76.6,165.1 76.6,163.1 76.9,162.1 76.9,160.1 77.1,159.1 77.1,157.1 77.4,156.1 77.4,154.1 77.6,153.1 77.6,151.1 77.9,150.1 78.1,145.9 79.1,141.1 79.6,137.1 82.1,129.1 83.6,126.1 83.6,125.4 84.1,124.6 84.2,123.9 85.4,122.7 87.9,120.4 88.6,119.9 94.6,117.6 101.6,116.6 107.6,116.2 117.9,119.3 123.1,120.5 127.2,122.9 130.8,126.9 133.8,131.4 138.0,140.6 141.6,151.1 143.8,160.9 144.6,165.4 144.9,170.6 144.8,171.4 144.1,173.6 142.6,175.8 136.5,180.4 132.4,183.9 127.1,189.5 126.0,191.1 123.2,196.9 122.2,199.4 119.6,207.1 117.4,214.6 115.8,220.9 114.1,224.9 112.6,227.6 107.4,235.5 102.2,244.4 93.6,257.1 93.1,258.1 89.1,264.1 86.0,270.6 82.8,283.9 82.1,284.1 78.6,284.2 77.4,284.2 77.1,284.4 71.6,284.5 70.9,284.7 67.6,284.7 65.9,284.9 60.4,285.0 60.1,285.3ZM330.1,275.4L329.4,275.2 328.9,274.8 328.1,274.5 327.6,274.0 326.9,273.7 326.4,273.3 325.6,273.0 325.1,272.5 324.4,272.3 323.4,271.5 322.9,271.5 322.1,271.0 320.1,270.5 319.4,270.0 318.1,269.7 316.1,268.8 315.6,268.8 314.4,268.0 313.9,268.0 311.9,267.0 311.4,267.0 310.6,266.5 309.4,266.3 308.6,265.8 307.4,265.5 306.6,265.0 305.4,264.8 304.6,264.3 304.1,264.3 303.1,263.8 302.6,263.8 302.4,263.5 300.4,263.0 299.6,262.5 297.6,262.0 297.4,261.8 296.1,261.5 294.4,260.8 293.6,260.7 293.4,260.5 292.9,260.5 292.6,260.3 290.6,259.7 290.4,259.5 289.6,259.5 287.9,258.8 287.4,258.7 287.1,258.5 286.6,258.5 286.4,258.3 285.6,258.2 285.4,258.0 284.1,257.7 283.9,257.5 283.4,257.5 283.1,257.3 282.6,257.2 282.4,257.0 281.6,257.0 281.4,256.7 279.4,256.2 279.1,256.0 278.6,256.0 278.4,255.7 277.9,255.7 277.6,255.5 277.1,255.5 276.9,255.2 276.1,255.2 275.9,255.0 275.4,254.9 274.4,254.4 273.1,254.2 272.4,253.7 271.9,253.7 271.1,253.2 270.1,252.9 268.6,250.6 270.1,248.0 273.1,246.6 276.4,246.5 276.6,246.3 279.9,246.3 280.1,246.1 280.4,246.3 282.9,246.3 283.1,246.5 288.1,246.8 288.4,247.0 289.4,247.0 289.6,247.2 290.9,247.3 291.1,247.5 293.4,247.7 293.6,248.0 296.1,248.2 296.4,248.5 297.1,248.5 297.4,248.7 298.1,248.8 298.4,249.0 299.1,249.0 299.4,249.2 300.1,249.2 300.4,249.5 302.1,249.7 302.4,250.0 304.1,250.3 304.4,250.5 304.9,250.5 305.9,251.0 306.6,251.0 306.9,251.2 307.4,251.3 307.6,251.5 308.1,251.5 309.9,252.2 310.6,252.3 310.9,252.5 311.4,252.5 312.4,253.0 312.9,253.0 313.9,253.5 314.4,253.5 314.6,253.7 318.1,254.8 322.1,256.8 322.6,256.8 324.4,257.7 324.9,257.8 325.6,258.2 326.1,258.3 327.4,259.0 327.9,259.0 329.1,259.7 330.1,260.0 330.4,261.6 330.4,267.9 330.4,272.1 330.1,275.4Z" stroke="#333835"/><path d="M60.1,285.2L60.0,282.9 60.2,272.9 60.3,268.1 60.6,267.4 60.9,250.1 66.5,231.6 67.1,229.1 72.9,195.4 75.6,176.6 76.6,168.1 76.6,166.4 76.9,165.1 76.9,163.4 77.1,162.1 77.1,160.4 77.4,159.1 77.4,157.4 77.6,156.1 77.6,154.4 77.9,153.1 77.9,151.4 78.1,150.1 78.4,145.9 80.1,136.4 82.4,129.1 83.9,125.9 83.9,124.9 84.2,124.6 84.5,123.9 85.6,122.9 88.9,120.4 94.6,118.4 98.9,118.1 107.6,117.8 122.6,122.0 126.1,123.9 127.2,124.9 129.5,127.6 132.5,131.9 136.3,140.6 138.5,148.6 139.3,152.4 140.5,164.4 140.5,169.1 140.4,170.9 140.2,171.6 139.7,172.4 134.3,177.4 130.6,181.2 127.3,185.4 125.5,187.9 124.5,189.6 121.6,196.6 121.0,198.6 118.5,206.9 116.5,214.4 115.1,220.6 113.7,224.6 112.2,227.4 107.3,235.4 102.1,244.2 93.4,257.1 93.1,257.9 88.9,264.1 85.9,270.4 82.5,283.9 81.9,284.1 78.6,284.1 76.9,284.3 71.6,284.4 70.9,284.6 60.4,285.0 60.1,285.2ZM330.1,274.4L329.1,273.8 328.4,273.5 327.1,272.5 326.4,272.2 325.9,271.8 325.1,271.5 323.9,270.5 322.9,270.3 322.1,269.8 320.1,269.3 319.4,268.8 317.4,268.3 316.6,267.8 315.4,267.5 314.6,267.0 314.1,267.0 312.6,266.3 311.4,266.0 310.6,265.5 309.4,265.3 308.6,264.8 307.4,264.5 306.4,264.0 305.9,264.0 304.9,263.5 304.4,263.5 303.6,263.0 300.9,262.3 299.9,261.8 299.4,261.8 299.1,261.5 298.6,261.5 298.4,261.3 297.9,261.3 297.6,261.0 297.1,261.0 296.9,260.8 296.4,260.8 295.6,260.3 291.1,258.8 288.6,258.3 287.6,257.8 286.9,257.8 285.9,257.3 285.1,257.3 282.9,256.5 282.1,256.1 280.1,255.5 277.6,254.2 275.8,252.1 277.6,250.0 280.1,248.8 281.6,248.8 281.9,248.5 283.1,248.5 283.4,248.3 284.9,248.3 285.1,248.0 285.4,248.3 287.4,248.3 287.6,248.5 289.9,248.5 290.1,248.8 292.1,248.8 292.4,249.0 293.4,249.0 293.6,249.3 294.9,249.3 295.1,249.5 296.1,249.5 296.4,249.8 297.4,249.8 297.6,250.0 300.1,250.3 300.4,250.5 301.9,250.8 302.1,251.0 302.9,251.0 303.9,251.5 304.6,251.5 305.6,252.0 306.4,252.0 307.4,252.5 308.1,252.5 309.9,253.2 310.6,253.3 310.9,253.5 312.9,254.0 313.9,254.5 314.6,254.5 315.6,255.0 316.9,255.3 317.6,255.7 319.6,256.3 320.4,256.7 322.4,257.3 324.4,258.2 324.9,258.3 325.6,258.7 326.1,258.8 327.4,259.5 327.9,259.5 329.1,260.2 330.1,260.5 330.4,261.6 330.4,267.9 330.4,272.1 330.1,274.4Z" stroke="#333936"/><path d="M60.1,285.2L60.2,277.9 60.3,277.4 60.4,268.1 60.7,267.4 61.1,250.4 67.3,229.1 73.1,195.6 75.8,176.9 76.9,168.1 76.9,166.4 77.1,165.1 77.1,163.4 77.4,162.1 77.4,160.4 77.6,159.1 77.6,157.4 77.9,156.1 77.9,154.4 78.1,153.1 78.1,151.4 78.4,150.1 78.6,146.1 80.5,135.6 82.5,129.4 84.2,125.9 83.9,125.1 84.6,124.1 87.9,121.5 89.4,120.8 94.6,119.3 102.1,119.2 107.5,119.4 119.4,122.6 122.1,123.5 125.1,125.1 126.1,125.9 130.4,131.3 131.8,133.6 134.8,141.1 136.1,148.1 136.7,152.4 136.7,162.1 136.0,169.6 128.6,178.4 125.2,183.6 123.1,187.6 120.7,194.4 119.5,198.4 115.9,212.9 114.3,220.6 113.1,224.6 108.2,233.6 102.0,244.1 93.2,257.1 92.9,257.9 88.7,264.1 85.7,270.4 82.4,283.7 81.9,283.9 78.6,283.9 74.6,284.3 71.6,284.3 70.9,284.6 60.4,285.0 60.1,285.2ZM330.1,273.5L328.4,272.5 327.1,271.5 326.4,271.3 325.9,270.8 325.1,270.5 323.4,269.3 321.4,268.8 321.1,268.5 320.6,268.5 319.6,268.0 319.1,268.0 318.4,267.5 316.4,267.0 316.1,266.8 315.6,266.8 315.4,266.5 313.4,266.0 313.1,265.8 311.1,265.2 310.9,265.0 310.4,265.0 309.6,264.5 307.6,264.0 307.4,263.8 306.9,263.7 306.6,263.5 306.1,263.5 305.9,263.3 305.4,263.2 305.1,263.0 304.6,263.0 304.4,262.8 303.6,262.7 300.4,261.5 299.6,261.5 299.4,261.2 298.1,261.0 297.9,260.7 297.4,260.7 296.4,260.2 295.6,260.2 289.1,258.0 288.4,257.9 287.4,257.4 286.6,257.4 285.6,256.9 284.9,256.9 283.1,256.2 282.6,256.1 282.4,255.9 281.9,255.9 281.6,255.7 281.1,255.6 279.3,253.9 281.1,252.0 282.1,251.8 282.9,251.3 283.4,251.3 284.1,250.8 289.9,250.5 290.1,250.3 290.4,250.5 292.1,250.5 292.4,250.7 294.1,250.7 294.4,251.0 296.1,251.0 296.4,251.2 298.1,251.2 298.4,251.5 299.4,251.5 299.6,251.7 300.4,251.7 300.6,252.0 301.6,252.0 301.9,252.2 302.6,252.2 302.9,252.5 304.9,252.7 305.1,253.0 306.1,253.0 307.1,253.5 308.6,253.7 308.9,254.0 310.1,254.2 311.1,254.7 311.6,254.7 311.9,254.9 312.6,255.0 312.9,255.2 314.1,255.4 315.1,255.9 315.9,256.0 316.9,256.4 317.6,256.5 318.6,256.9 319.4,256.9 320.4,257.4 321.1,257.5 322.1,257.9 323.6,258.2 324.4,258.7 324.9,258.7 325.6,259.2 326.1,259.2 327.4,259.9 327.9,260.0 329.1,260.7 330.1,261.0 330.4,261.6 330.4,267.9 330.4,272.1 330.2,272.4 330.1,273.5Z" stroke="#333a36"/><path d="M60.1,285.2L60.4,272.9 60.6,272.4 60.6,268.1 60.8,267.4 60.8,262.9 61.0,262.4 61.0,257.9 61.2,257.4 61.2,252.9 61.4,252.4 61.4,249.9 67.6,229.1 73.4,195.6 76.1,176.9 76.1,175.9 76.9,170.9 76.9,169.4 77.1,168.4 77.1,166.4 77.4,165.4 77.4,163.4 77.6,162.4 77.6,160.4 77.9,159.4 77.9,157.4 78.1,156.4 78.1,154.4 78.4,153.4 78.4,151.4 78.6,150.4 78.6,148.4 78.9,147.4 78.9,145.6 80.8,135.6 82.9,128.9 84.7,125.4 84.1,125.4 84.0,125.1 84.1,124.9 84.4,125.0 84.7,124.4 85.4,123.7 87.9,121.9 89.4,121.3 94.4,120.1 100.6,120.4 107.4,120.9 111.9,121.9 119.4,124.1 121.6,124.9 124.9,126.8 127.2,129.4 130.1,133.4 133.2,141.6 134.0,148.1 134.1,151.6 133.2,160.6 131.8,167.9 127.3,174.4 125.5,177.4 122.5,183.1 120.9,187.4 118.6,196.1 114.1,217.1 113.6,220.6 112.6,224.6 107.9,233.6 101.9,244.0 93.1,256.9 88.5,264.1 85.5,270.4 82.2,283.6 81.9,283.8 78.4,283.8 78.1,284.0 74.9,284.1 74.6,284.3 71.6,284.3 70.9,284.5 67.6,284.5 67.4,284.7 63.9,284.8 63.6,284.9 60.4,284.9 60.1,285.2ZM329.9,272.6L329.1,272.3 323.6,268.8 318.6,266.9 304.6,262.1 292.6,258.5 291.1,258.2 288.1,256.6 287.2,255.6 286.7,254.6 286.6,253.9 288.1,253.1 289.9,252.5 291.4,252.2 295.1,252.0 299.9,252.6 309.1,254.5 318.6,257.3 319.1,257.3 320.4,257.8 323.6,258.5 329.6,261.0 330.3,261.6 330.4,272.1 329.9,272.6Z" stroke="#333b37"/><path d="M60.1,285.2L60.3,277.9 60.5,277.6 60.5,272.9 60.7,272.6 60.7,267.9 61.0,267.6 61.0,262.9 61.2,262.6 61.2,257.9 61.4,257.6 61.4,252.9 61.6,252.6 61.7,249.9 62.1,248.9 62.2,248.1 62.9,246.4 62.9,245.6 63.6,243.9 63.7,243.1 64.4,241.4 64.4,240.6 65.1,238.9 65.2,238.1 65.9,236.4 65.9,235.6 66.6,233.9 66.7,233.1 67.4,231.4 67.4,230.6 67.9,229.4 68.2,226.6 68.4,226.4 68.4,225.4 68.6,225.1 68.7,223.9 68.9,223.6 68.9,222.4 69.1,222.1 69.2,220.9 69.4,220.6 69.4,219.6 69.6,219.4 69.9,216.6 70.1,216.4 70.2,215.4 70.4,215.1 70.4,213.9 70.6,213.6 70.9,210.9 71.1,210.6 71.2,209.6 71.4,209.4 71.4,208.1 71.6,207.9 71.7,206.6 71.9,206.4 71.9,205.1 72.1,204.9 72.2,203.6 72.4,203.4 72.4,202.1 72.6,201.9 72.7,200.6 72.9,200.4 72.9,199.1 73.1,198.9 73.2,197.6 73.4,197.4 73.4,196.1 73.6,195.9 73.7,194.4 73.9,194.1 73.9,192.9 74.1,192.6 74.4,189.4 74.6,189.1 74.7,187.9 74.9,187.6 74.9,186.1 75.1,185.9 75.2,184.4 75.4,184.1 75.4,182.6 75.6,182.4 75.7,180.9 75.9,180.6 76.2,177.4 76.4,177.1 76.4,175.4 76.6,175.1 76.7,173.4 76.9,173.1 76.9,171.4 77.1,171.1 77.2,168.9 77.4,168.6 77.4,165.9 77.6,165.6 77.7,162.9 77.9,162.6 77.9,159.9 78.1,159.6 78.2,156.9 78.4,156.6 78.4,153.9 78.6,153.6 78.7,150.9 78.9,150.6 78.9,147.9 79.1,147.6 79.2,145.6 79.4,145.4 79.7,142.6 79.9,142.4 79.9,141.4 80.1,141.1 80.2,139.9 80.4,139.6 80.7,136.9 80.9,136.6 80.9,135.9 81.1,135.6 81.2,135.1 81.4,134.9 81.4,134.4 82.1,132.6 82.2,131.9 82.4,131.6 83.2,128.9 85.4,124.6 85.2,124.4 85.6,123.9 88.1,122.3 94.1,120.9 107.1,122.4 111.4,123.3 118.6,125.3 121.4,126.5 124.1,128.1 128.9,134.0 131.6,141.6 131.8,143.9 131.7,144.9 131.8,150.6 130.1,159.4 128.0,166.1 123.2,174.9 120.7,180.9 119.6,183.9 117.5,193.9 116.7,199.1 116.1,201.1 115.1,207.4 113.2,216.9 112.9,220.4 112.6,221.1 112.4,222.9 112.0,224.6 106.5,235.9 105.3,237.6 105.0,238.4 104.5,238.9 104.0,240.1 103.5,240.6 103.3,241.4 102.8,241.9 101.8,243.9 100.3,245.9 100.3,246.1 99.6,246.9 96.5,251.6 95.8,252.4 95.8,252.6 93.3,256.1 93.3,256.4 92.8,256.9 92.6,257.6 90.1,261.1 89.8,261.9 88.3,263.9 85.3,270.1 85.3,270.9 85.1,271.1 85.1,271.9 84.8,272.1 84.8,272.9 84.6,273.1 84.6,273.9 84.3,274.1 84.3,274.9 84.1,275.1 84.1,275.9 83.8,276.1 83.8,276.9 83.6,277.1 83.6,277.9 83.3,278.1 83.3,278.9 83.1,279.1 83.1,279.9 82.8,280.1 82.8,280.9 82.6,281.1 82.6,281.9 82.3,282.1 82.3,282.9 82.1,283.1 82.0,283.6 78.4,283.7 78.1,284.0 74.9,284.0 74.6,284.2 71.4,284.2 70.9,284.5 67.6,284.5 67.4,284.7 63.9,284.7 63.6,284.9 60.4,284.9 60.1,285.2ZM85.1,124.8L84.7,124.6 84.9,124.4 85.4,124.6 85.1,124.8ZM84.6,125.0L84.5,124.9 84.6,124.7 84.8,124.9 84.6,125.0ZM84.1,125.3L84.1,125.0 84.3,125.1 84.1,125.3ZM330.1,272.4L329.4,272.1 326.6,270.1 325.9,269.9 323.9,268.4 322.9,267.9 322.4,267.9 321.6,267.4 321.1,267.4 319.1,266.4 318.6,266.4 317.9,265.9 317.4,265.9 317.1,265.6 316.6,265.6 316.4,265.4 315.9,265.4 315.6,265.1 314.4,264.9 313.6,264.4 313.1,264.4 312.9,264.1 312.4,264.1 312.1,263.9 311.6,263.9 311.4,263.6 310.1,263.4 309.9,263.1 308.6,262.9 308.4,262.6 307.6,262.5 307.4,262.2 306.9,262.2 306.6,262.0 306.1,262.0 305.9,261.7 305.4,261.7 304.4,261.2 303.6,261.2 303.4,261.0 302.9,261.0 302.6,260.7 301.4,260.5 301.1,260.2 300.4,260.2 299.4,259.7 298.6,259.7 298.4,259.5 296.9,259.2 295.9,258.7 295.1,258.7 294.9,258.5 293.1,258.2 292.9,258.0 291.1,257.7 289.0,255.9 291.1,254.0 291.9,254.0 292.1,253.7 293.9,253.5 294.1,253.2 294.9,253.2 295.1,253.0 295.4,253.2 297.4,253.2 297.6,253.5 299.9,253.5 300.1,253.7 302.1,253.8 302.4,254.0 303.4,254.0 303.6,254.3 304.9,254.3 305.1,254.5 307.4,254.8 307.6,255.0 308.9,255.0 309.1,255.3 310.1,255.3 310.4,255.5 312.1,255.8 312.4,256.0 313.1,256.0 313.4,256.3 314.1,256.3 314.4,256.5 315.1,256.6 315.4,256.8 317.1,256.9 317.4,257.2 318.1,257.2 318.4,257.4 319.1,257.4 320.1,257.9 321.9,258.1 322.9,258.6 323.6,258.6 325.6,259.6 326.1,259.6 327.4,260.4 327.9,260.4 330.3,261.6 330.4,272.1 330.1,272.4Z" stroke="#333c37"/><path d="M60.1,285.1L60.1,282.9 60.4,282.6 60.4,277.9 60.6,277.6 60.6,272.9 60.9,272.6 60.9,267.9 61.1,267.6 61.1,262.9 61.3,262.6 61.3,257.9 61.6,257.6 61.6,252.9 61.8,252.6 61.8,249.9 62.3,248.9 62.3,248.1 62.6,247.9 62.6,247.4 63.1,246.4 63.1,245.6 63.3,245.4 63.3,244.9 63.8,243.9 63.8,243.1 64.1,242.9 64.1,242.4 64.6,241.4 64.6,240.6 64.8,240.4 64.8,239.9 65.3,238.9 65.3,238.1 65.6,237.9 65.6,237.4 66.1,236.4 66.1,235.6 66.3,235.4 66.3,234.9 66.8,233.9 66.8,233.1 67.1,232.9 67.1,232.4 67.6,231.4 67.6,230.6 67.8,230.4 67.8,229.6 68.1,229.4 68.3,226.6 68.6,226.4 68.6,225.4 68.8,225.1 68.8,223.9 69.1,223.6 69.1,222.4 69.3,222.1 69.3,220.9 69.6,220.6 69.6,219.6 69.8,219.4 70.1,216.6 70.3,216.4 70.3,215.4 70.6,215.1 70.6,213.9 70.8,213.6 71.1,210.9 71.3,210.6 71.3,209.6 71.6,209.4 71.6,208.1 71.8,207.9 71.8,206.6 72.1,206.4 72.1,205.1 72.3,204.9 72.3,203.6 72.6,203.4 72.6,202.1 72.8,201.9 73.1,199.1 73.3,198.9 73.3,197.6 73.6,197.4 73.6,196.1 73.8,195.9 73.8,194.4 74.1,194.1 74.1,192.9 74.3,192.6 74.6,189.4 74.8,189.1 74.8,187.9 75.1,187.6 75.1,186.1 75.3,185.9 75.3,184.4 75.6,184.1 75.6,182.6 75.8,182.4 75.8,180.9 76.1,180.6 76.3,177.4 76.6,177.1 76.6,175.4 76.8,175.1 76.8,173.4 77.1,173.1 77.1,171.4 77.3,171.1 77.3,168.9 77.6,168.6 77.6,165.9 77.8,165.6 77.8,162.9 78.1,162.6 78.1,159.9 78.3,159.6 78.3,156.9 78.6,156.6 78.6,153.9 78.8,153.6 78.8,150.9 79.1,150.6 79.1,147.9 79.3,147.6 79.3,145.6 79.6,145.4 79.8,142.6 80.1,142.4 80.1,141.4 80.3,141.1 80.3,139.9 80.6,139.6 80.6,138.4 80.8,138.1 80.8,136.9 81.1,136.6 81.1,135.9 81.3,135.6 81.3,135.1 81.6,134.9 81.6,134.4 81.8,134.1 81.8,133.6 82.3,132.6 82.3,131.9 82.6,131.6 82.6,131.1 82.8,130.9 83.3,128.9 85.6,124.6 85.3,124.4 85.6,124.1 86.4,123.8 88.1,122.6 90.9,122.3 91.1,122.1 92.4,122.0 92.6,121.8 93.9,121.8 94.1,121.5 94.4,121.8 95.6,121.8 95.9,122.0 97.1,122.0 97.4,122.3 98.6,122.3 98.9,122.5 100.1,122.5 100.4,122.8 101.4,122.8 101.6,123.0 102.9,123.0 103.1,123.3 104.1,123.3 104.4,123.5 105.6,123.5 105.9,123.7 106.9,123.7 107.1,124.0 108.4,124.0 108.6,124.2 109.6,124.3 109.9,124.5 111.1,124.5 112.1,125.0 112.9,125.0 113.9,125.5 114.6,125.5 114.9,125.8 115.4,125.8 115.6,126.0 116.4,126.0 117.4,126.5 118.1,126.5 123.1,129.0 127.7,134.6 128.0,135.1 128.0,135.6 128.2,135.9 128.3,136.4 128.5,136.6 128.5,137.1 128.8,137.4 128.8,137.9 129.0,138.1 129.0,138.6 129.3,138.9 129.3,139.4 129.5,139.6 129.5,140.1 129.8,140.4 129.8,140.9 130.0,141.1 130.0,141.6 130.3,141.9 130.3,143.9 130.0,144.1 130.0,147.9 129.8,148.1 129.8,150.4 129.3,151.4 129.3,151.9 129.0,152.1 129.0,152.9 128.8,153.1 128.8,153.6 128.5,153.9 128.5,154.4 128.0,155.4 128.0,155.9 127.8,156.1 127.8,156.9 127.3,157.9 127.3,158.4 126.3,160.1 126.3,160.6 125.6,161.9 125.6,162.4 124.6,164.1 124.6,164.6 123.8,165.9 123.8,166.4 122.8,168.1 122.8,168.6 122.1,169.9 122.0,170.4 120.3,173.9 120.3,174.4 120.0,174.6 120.0,175.1 119.5,176.1 119.5,176.9 119.3,177.1 119.3,177.6 119.0,177.9 119.0,178.4 118.8,178.6 118.8,179.1 118.3,180.1 118.3,180.9 117.8,181.9 117.8,182.9 117.5,183.1 117.5,184.4 117.3,184.6 117.3,185.9 117.0,186.1 117.0,187.6 116.8,187.9 116.8,189.1 116.5,189.4 116.5,190.9 116.3,191.1 116.3,192.9 116.0,193.1 116.0,194.9 115.8,195.1 115.7,196.9 115.5,197.1 115.5,198.9 115.2,199.1 115.2,200.4 115.0,200.6 115.0,202.1 114.7,202.4 114.7,203.9 114.5,204.1 114.5,205.4 114.2,205.6 114.2,207.1 114.0,207.4 114.0,208.6 113.7,208.9 113.7,210.1 113.5,210.4 113.5,211.6 113.2,211.9 113.2,213.1 113.0,213.4 113.0,214.6 112.7,214.9 112.7,216.1 112.5,216.4 112.5,218.1 112.2,218.4 112.2,220.4 112.0,220.6 111.9,222.9 111.7,223.1 111.7,224.4 109.7,228.4 109.7,228.9 107.9,232.4 107.9,232.9 106.4,235.9 105.9,236.4 105.6,237.1 104.4,238.9 103.9,240.1 103.4,240.6 103.1,241.4 101.9,243.1 101.6,243.9 100.2,245.9 100.1,246.1 99.4,246.9 99.4,247.1 98.9,247.6 98.9,247.9 98.4,248.4 98.4,248.6 97.9,249.1 97.9,249.4 97.4,249.9 97.4,250.1 96.9,250.6 96.4,251.6 95.7,252.4 95.7,252.6 92.7,256.9 92.4,257.6 89.9,261.1 89.7,261.9 88.2,263.9 85.2,270.1 85.2,270.9 84.9,271.1 84.9,271.9 84.7,272.1 84.7,272.9 84.4,273.1 84.4,273.9 84.2,274.1 84.2,274.9 83.9,275.1 83.9,275.9 83.7,276.1 83.7,276.9 83.4,277.1 83.4,277.9 83.2,278.1 83.2,278.9 82.9,279.1 82.9,279.9 82.7,280.1 82.7,280.9 82.4,281.1 82.4,281.9 82.2,282.1 82.2,282.9 81.9,283.1 81.9,283.6 78.4,283.6 78.1,283.9 74.9,283.9 74.6,284.1 71.1,284.1 70.9,284.4 67.6,284.4 67.4,284.6 63.9,284.6 63.6,284.9 60.4,284.9 60.1,285.1ZM85.1,124.7L84.9,124.6 85.1,124.7ZM330.1,272.4L329.4,272.1 326.6,270.1 325.9,269.9 323.9,268.4 322.9,267.9 322.4,267.9 320.4,266.9 319.9,266.9 319.1,266.4 318.6,266.4 317.9,265.9 317.4,265.9 317.1,265.6 316.6,265.6 316.4,265.4 315.9,265.4 315.6,265.1 314.4,264.9 313.6,264.4 313.1,264.4 312.9,264.1 312.4,264.1 312.1,263.9 310.9,263.6 310.6,263.3 310.1,263.3 309.9,263.1 309.4,263.1 309.1,262.8 308.6,262.8 308.4,262.5 307.8,262.4 308.4,261.6 296.1,257.9 291.6,256.9 290.3,255.9 291.6,254.9 294.6,254.1 299.4,254.4 300.1,254.6 301.6,254.6 307.4,255.8 309.6,256.1 314.9,257.5 317.1,257.0 317.4,257.2 318.1,257.2 318.4,257.4 319.1,257.4 319.4,257.7 319.9,257.7 320.1,257.9 321.9,258.2 322.9,258.6 323.6,258.6 325.6,259.6 326.1,259.6 327.4,260.4 327.9,260.4 330.3,261.6 330.4,272.1 330.1,272.4Z" stroke="#333d37"/><path d="M74.4,283.7L71.1,283.6 70.4,283.7 67.6,283.4 63.9,283.4 62.9,283.7 61.3,283.6 61.6,282.6 61.6,278.6 61.8,277.6 61.8,273.6 62.1,272.6 62.1,268.6 62.3,267.6 62.3,263.6 62.6,262.6 62.6,258.6 62.8,257.6 62.8,253.6 63.1,252.6 63.1,250.4 64.9,244.6 65.2,242.9 65.6,241.8 66.2,238.6 66.9,236.9 66.9,236.1 67.4,234.9 68.4,230.1 68.6,229.9 68.7,228.6 68.9,228.4 68.9,227.1 69.4,225.4 69.9,221.4 70.4,219.6 70.7,217.1 71.2,215.4 71.7,211.4 72.2,209.6 72.7,205.6 72.9,205.4 72.9,204.1 73.1,203.9 73.2,202.6 73.4,202.4 73.5,201.1 73.7,200.9 73.7,199.6 73.9,199.4 74.0,198.1 74.2,197.9 74.2,196.6 74.4,196.4 75.0,191.6 75.6,189.3 75.7,188.4 75.9,187.9 76.2,184.9 76.4,184.6 76.5,183.1 76.9,181.1 77.1,180.9 77.1,179.6 77.4,179.3 77.4,177.9 77.6,177.6 77.7,176.4 78.0,175.4 78.1,174.1 78.5,171.4 78.6,169.6 78.8,168.9 78.8,166.6 79.1,165.6 79.1,163.6 79.3,162.6 79.3,160.6 79.6,159.6 79.6,157.6 79.8,156.9 79.8,154.6 80.0,153.9 80.1,151.6 80.3,150.9 80.6,146.4 81.5,141.4 82.1,137.4 84.6,129.4 86.7,125.1 88.6,123.8 93.4,123.1 94.9,123.1 110.6,125.8 117.6,127.8 122.4,130.2 125.9,134.4 126.7,135.6 128.9,142.4 128.4,149.9 125.9,157.9 119.0,173.4 116.5,181.6 115.0,190.9 114.9,192.1 114.7,192.9 114.7,194.1 114.5,194.9 114.4,196.1 113.4,203.4 111.2,216.1 110.4,223.9 105.3,235.1 100.5,243.1 95.4,250.6 94.3,252.9 93.9,253.4 93.0,255.1 92.1,256.5 91.8,257.4 87.9,263.8 85.1,269.9 85.0,270.6 84.8,270.9 84.8,271.6 84.6,271.9 84.5,272.6 84.3,272.9 84.3,273.6 84.1,273.9 83.3,277.6 81.6,283.1 81.4,283.3 78.1,283.3 77.9,283.6 74.4,283.7ZM330.1,272.4L329.4,272.1 326.6,270.1 325.9,269.9 323.9,268.4 322.9,267.9 322.4,267.9 320.4,266.9 319.9,266.9 317.9,265.9 317.4,265.9 317.1,265.6 316.6,265.6 316.4,265.4 315.9,265.4 315.6,265.1 314.4,264.9 313.6,264.4 313.1,264.4 312.9,264.1 312.4,264.1 312.1,263.8 311.6,263.8 311.4,263.6 310.9,263.6 310.6,263.3 310.1,263.3 309.9,263.1 308.6,262.7 308.2,262.4 309.4,261.1 309.1,260.8 301.6,258.4 292.1,255.9 294.9,255.1 299.1,255.4 299.9,255.6 301.4,255.6 307.4,256.9 308.1,256.9 313.9,258.3 317.1,257.2 318.1,257.3 318.4,257.5 319.9,257.7 320.1,257.9 321.9,258.2 322.9,258.7 323.6,258.7 325.6,259.6 326.1,259.6 327.4,260.4 327.9,260.4 329.1,261.1 329.6,261.1 330.3,261.6 330.3,272.1 330.1,272.4Z" stroke="#333e38"/><path d="M77.9,283.5L74.9,283.4 74.1,283.6 69.4,283.5 66.4,283.2 62.9,282.1 62.5,278.9 62.7,277.9 62.5,273.9 62.7,272.9 62.8,268.9 63.0,267.9 63.0,263.9 63.2,262.9 63.2,258.6 63.4,257.9 63.5,253.6 63.7,252.9 63.7,250.6 65.8,241.1 68.8,229.6 70.0,221.4 70.5,219.6 70.8,217.1 71.2,215.4 71.8,211.4 72.3,209.6 74.6,195.9 75.5,189.9 76.0,187.9 76.0,186.6 76.3,186.1 79.7,166.9 80.1,165.8 80.4,163.6 80.6,163.4 82.0,146.6 83.7,136.9 85.9,129.9 87.8,126.1 89.1,125.2 93.6,124.5 94.6,124.5 110.1,127.2 117.4,129.3 121.4,131.3 125.3,136.1 127.3,142.1 127.5,142.9 127.3,143.9 127.3,146.9 127.0,147.9 127.0,149.4 124.6,157.4 117.7,172.9 115.1,181.1 113.6,190.6 112.0,202.9 109.8,215.9 109.3,220.4 109.3,221.9 108.9,223.6 104.2,234.1 98.6,243.4 95.2,250.9 91.7,257.4 89.6,260.7 89.2,261.6 87.9,263.6 85.3,269.1 83.4,276.6 81.5,283.1 78.1,283.3 77.9,283.5ZM330.1,272.4L329.4,272.1 326.6,270.1 325.9,269.9 323.9,268.4 322.9,267.9 322.4,267.9 320.4,266.9 319.9,266.9 319.1,266.4 318.6,266.4 317.9,265.9 317.4,265.9 317.1,265.6 316.6,265.6 316.4,265.4 315.9,265.4 315.6,265.1 314.4,264.9 313.6,264.3 313.1,264.3 312.9,264.1 312.4,264.1 312.1,263.8 311.6,263.8 311.4,263.6 310.9,263.6 310.6,263.3 310.1,263.3 309.9,263.0 308.6,262.7 308.6,262.4 310.7,260.4 310.6,260.2 298.9,256.6 298.9,256.4 299.9,256.6 301.1,256.6 307.9,257.9 312.6,259.0 316.6,257.5 318.1,257.3 318.4,257.5 319.9,257.7 320.1,258.0 320.9,257.9 321.1,258.2 321.9,258.2 322.9,258.7 323.6,258.7 324.4,259.2 324.9,259.2 327.4,260.4 327.9,260.4 329.1,261.1 329.6,261.1 330.1,261.4 330.3,261.6 330.4,267.9 330.3,272.1 330.1,272.4Z" stroke="#333f38"/><path d="M77.6,283.4L74.9,283.4 74.1,283.6 71.1,283.4 70.4,283.5 66.6,283.1 63.1,281.9 62.7,278.9 62.7,273.9 62.9,272.6 63.8,250.6 66.5,238.6 68.9,229.6 70.1,221.4 74.7,196.1 74.7,194.9 75.2,192.9 75.5,189.9 76.1,187.9 76.2,186.6 76.4,186.1 78.5,174.1 79.9,166.9 80.8,163.4 81.1,160.9 81.9,157.1 82.7,152.4 83.1,151.1 83.4,146.9 85.1,137.1 87.3,130.4 88.9,127.1 89.6,126.7 94.4,125.9 109.9,128.7 116.9,130.7 120.4,132.4 123.9,136.6 126.0,142.6 125.6,149.1 123.2,156.9 116.4,172.4 113.7,180.9 112.4,188.9 110.6,202.6 108.4,215.9 107.6,223.1 103.9,231.5 100.4,237.8 98.2,243.9 95.1,250.9 91.2,258.1 87.8,263.6 85.2,269.1 82.8,278.6 81.4,283.1 78.4,283.2 77.6,283.4ZM330.1,272.4L329.4,272.1 326.6,270.1 325.9,269.9 323.9,268.4 322.9,267.9 322.4,267.9 320.4,266.9 319.9,266.9 319.1,266.4 318.6,266.4 317.9,265.9 317.4,265.9 317.1,265.6 316.6,265.6 316.4,265.4 315.9,265.4 315.6,265.1 314.4,264.8 313.6,264.3 313.1,264.3 312.9,264.1 311.6,263.8 311.4,263.6 310.9,263.6 310.6,263.3 310.1,263.3 309.9,263.0 309.4,263.0 309.1,262.7 308.7,262.6 310.2,261.1 312.1,259.7 315.1,258.3 317.9,257.4 319.1,257.5 320.1,258.0 320.9,258.0 321.1,258.2 321.9,258.2 322.9,258.7 323.6,258.7 325.6,259.7 326.1,259.7 327.4,260.4 327.9,260.4 329.1,261.2 329.6,261.2 330.3,261.6 330.3,272.1 330.1,272.4Z" stroke="#333f39"/><path d="M74.4,283.4L71.1,283.3 70.4,283.4 66.6,283.0 63.4,281.9 63.2,281.6 62.8,278.9 62.8,273.9 63.2,267.6 63.7,253.9 63.9,250.6 64.8,246.4 68.9,229.6 70.2,221.4 70.6,219.6 70.9,217.1 71.4,215.4 72.0,211.4 72.4,209.6 74.7,196.1 74.8,194.9 75.2,192.9 75.6,189.9 76.1,187.9 78.6,174.1 80.1,166.9 81.0,163.4 81.2,160.9 83.1,152.1 83.8,149.1 85.0,146.6 86.6,137.4 88.6,130.9 90.1,128.0 94.1,127.3 109.9,130.1 116.4,132.0 119.4,133.5 122.5,137.1 124.5,142.9 124.1,149.1 121.9,156.4 115.0,171.9 112.3,180.6 111.0,188.6 109.2,202.4 107.0,215.6 106.1,222.9 102.6,230.9 101.1,233.6 100.8,235.9 99.3,240.6 96.1,248.4 91.6,257.2 87.8,263.6 85.1,269.2 83.0,277.6 81.6,282.6 81.1,283.1 74.4,283.4ZM330.1,272.4L329.4,272.1 326.6,270.1 325.9,269.9 323.9,268.4 322.9,267.9 322.4,267.9 320.4,266.9 319.9,266.9 317.9,265.9 317.4,265.9 317.1,265.6 316.6,265.6 316.4,265.4 315.9,265.4 315.6,265.1 314.4,264.8 313.6,264.3 313.1,264.3 312.9,264.1 312.4,264.1 312.1,263.8 310.9,263.5 310.6,263.3 309.4,262.9 309.0,262.6 310.9,260.9 312.9,259.6 315.4,258.4 318.1,257.5 319.1,257.6 320.1,258.0 321.9,258.2 322.9,258.7 323.6,258.7 325.6,259.7 326.1,259.7 327.4,260.4 327.9,260.4 329.1,261.2 329.6,261.2 330.3,261.6 330.3,272.1 330.1,272.4Z" stroke="#334039"/><path d="M74.4,283.4L70.9,283.2 70.4,283.4 66.6,282.9 64.6,282.3 63.3,281.6 62.9,278.9 62.9,273.9 63.1,272.6 64.0,250.9 66.1,241.1 69.0,229.6 70.3,221.4 70.7,219.6 71.0,217.1 71.5,215.4 72.0,211.4 72.5,209.6 74.8,196.1 74.9,194.9 75.7,189.9 76.2,187.9 78.7,174.1 80.2,166.9 81.1,163.4 81.4,160.9 83.3,152.1 83.9,149.8 86.4,146.1 87.9,137.9 90.0,131.4 91.0,129.4 94.1,128.8 109.4,131.5 115.9,133.4 118.4,134.6 119.0,135.1 121.3,137.9 123.1,143.1 123.0,146.1 122.7,148.9 120.5,155.9 113.7,171.4 110.9,180.1 109.6,188.4 107.7,202.4 105.6,215.4 104.8,222.4 101.4,230.0 100.6,235.9 98.7,241.9 94.9,250.9 91.6,257.1 87.7,263.6 85.1,269.1 83.0,277.6 81.5,282.6 81.1,283.0 74.4,283.4ZM330.1,272.4L329.4,272.1 326.6,270.1 325.9,269.9 323.9,268.4 322.9,267.9 322.4,267.9 320.4,266.9 319.9,266.9 317.9,265.9 317.4,265.9 317.1,265.6 316.6,265.6 316.4,265.3 315.9,265.3 315.6,265.1 314.4,264.8 313.6,264.3 313.1,264.3 312.9,264.1 312.4,264.1 312.1,263.8 310.9,263.5 310.6,263.2 309.4,262.9 309.4,262.6 311.1,261.0 313.1,259.7 315.6,258.5 318.5,257.6 319.1,257.6 320.1,258.0 321.9,258.2 322.9,258.7 323.6,258.7 325.6,259.7 326.1,259.7 327.4,260.4 327.9,260.4 329.1,261.2 329.6,261.2 330.3,261.6 330.3,272.1 330.1,272.4Z" stroke="#34413a"/><path d="M74.1,283.4L71.1,283.2 70.4,283.3 66.6,282.8 64.4,282.0 63.5,281.6 63.4,281.4 63.0,278.9 63.0,273.9 63.2,272.9 64.1,250.9 66.1,241.4 69.1,229.6 70.3,221.4 70.8,219.6 71.1,217.1 71.5,215.4 72.1,211.4 72.5,209.6 74.9,196.1 75.5,191.6 76.3,187.9 78.8,174.1 80.3,166.9 81.3,163.4 81.5,161.1 83.5,152.1 83.9,150.9 85.0,149.1 88.1,145.4 89.3,138.1 91.3,131.9 92.1,130.6 94.1,130.3 109.1,132.9 115.4,134.7 117.6,135.8 120.0,138.6 121.6,143.1 121.5,146.1 121.3,148.6 119.2,155.4 112.3,170.9 109.5,179.9 108.1,188.1 106.3,202.1 104.1,215.1 103.5,221.1 103.4,221.9 101.4,226.6 100.3,236.1 98.6,241.9 94.8,250.9 91.5,257.1 87.7,263.6 85.1,269.1 83.0,277.6 81.4,282.6 81.1,283.0 78.4,283.0 77.6,283.3 74.9,283.2 74.1,283.4ZM330.1,272.3L329.4,272.1 326.6,270.1 325.9,269.9 325.4,269.4 325.1,269.4 324.6,268.9 324.4,268.9 323.9,268.4 322.9,267.9 322.4,267.9 320.4,266.9 319.9,266.9 319.1,266.4 318.6,266.4 317.9,265.8 317.4,265.8 317.1,265.6 316.6,265.6 316.4,265.3 315.9,265.3 315.6,265.1 314.4,264.8 313.6,264.3 313.1,264.3 312.9,264.1 312.4,264.0 312.1,263.8 311.6,263.8 311.4,263.5 310.9,263.5 310.6,263.2 309.5,262.9 311.1,261.3 313.4,259.8 316.1,258.5 319.1,257.6 320.1,258.0 321.9,258.2 322.9,258.7 323.6,258.7 325.6,259.7 326.1,259.7 327.4,260.4 327.9,260.4 329.1,261.2 329.6,261.2 330.3,261.6 330.3,272.1 330.1,272.3Z" stroke="#34423a"/></g><path d="M74.1,283.4L71.1,283.2 70.4,283.3 66.6,282.8 64.4,282.0 63.5,281.6 63.4,281.4 63.0,278.9 63.0,273.9 63.2,272.9 64.1,250.9 66.1,241.4 69.1,229.6 70.3,221.4 70.8,219.6 71.1,217.1 71.5,215.4 72.1,211.4 72.5,209.6 74.9,196.1 75.5,191.6 76.3,187.9 78.8,174.1 80.3,166.9 81.3,163.4 81.5,161.1 83.5,152.1 83.9,150.9 85.0,149.1 88.1,145.4 89.3,138.1 91.3,131.9 92.1,130.6 94.1,130.3 109.1,132.9 115.4,134.7 117.6,135.8 120.0,138.6 121.6,143.1 121.5,146.1 121.3,148.6 119.2,155.4 112.3,170.9 109.5,179.9 108.1,188.1 106.3,202.1 104.1,215.1 103.5,221.1 103.4,221.9 101.4,226.6 100.3,236.1 98.6,241.9 94.8,250.9 91.5,257.1 87.7,263.6 85.1,269.1 83.0,277.6 81.4,282.6 81.1,283.0 78.4,283.0 77.6,283.3 74.9,283.2 74.1,283.4ZM330.1,272.3L329.4,272.1 326.6,270.1 325.9,269.9 325.4,269.4 325.1,269.4 324.6,268.9 324.4,268.9 323.9,268.4 322.9,267.9 322.4,267.9 320.4,266.9 319.9,266.9 319.1,266.4 318.6,266.4 317.9,265.8 317.4,265.8 317.1,265.6 316.6,265.6 316.4,265.3 315.9,265.3 315.6,265.1 314.4,264.8 313.6,264.3 313.1,264.3 312.9,264.1 312.4,264.0 312.1,263.8 311.6,263.8 311.4,263.5 310.9,263.5 310.6,263.2 309.5,262.9 311.1,261.3 313.4,259.8 316.1,258.5 319.1,257.6 320.1,258.0 321.9,258.2 322.9,258.7 323.6,258.7 325.6,259.7 326.1,259.7 327.4,260.4 327.9,260.4 329.1,261.2 329.6,261.2 330.3,261.6 330.3,272.1 330.1,272.3Z" fill="#34423a" fill-rule="evenodd"/><path d="M77.6,283.1L74.9,283.1 74.1,283.3 70.9,283.0 70.1,283.1 66.4,282.4 64.3,281.6 63.7,281.1 63.3,278.9 63.3,273.9 64.4,250.9 66.3,241.4 69.2,229.6 70.5,221.4 72.7,209.6 76.0,190.1 79.1,174.4 80.7,166.9 81.7,163.6 82.0,161.1 83.4,155.1 85.4,151.7 87.6,148.9 89.9,147.1 92.3,146.1 93.4,139.4 94.8,134.9 95.1,134.8 108.1,137.1 113.1,138.5 114.9,139.2 116.4,141.1 117.2,143.6 117.3,145.6 117.0,147.6 115.2,153.6 108.3,169.4 106.1,176.4 105.0,180.6 104.1,186.2 104.1,196.9 99.5,237.6 99.2,238.9 97.3,244.4 94.7,250.6 91.4,257.1 87.6,263.5 85.0,269.1 82.8,277.6 81.4,282.4 81.1,282.8 78.4,282.9 77.6,283.1ZM330.1,272.3L329.4,272.1 326.6,270.1 325.9,269.9 325.4,269.4 325.1,269.4 324.6,268.9 324.4,268.9 323.9,268.4 322.9,267.9 322.4,267.9 320.4,266.8 319.9,266.8 319.1,266.3 318.6,266.3 317.9,265.8 317.4,265.8 317.1,265.6 316.6,265.6 316.4,265.3 315.9,265.3 315.6,265.1 314.4,264.8 313.6,264.3 313.1,264.3 312.9,264.0 312.4,264.0 312.1,263.8 311.6,263.7 311.4,263.5 310.9,263.4 310.6,263.2 310.1,263.1 311.9,261.4 314.1,260.0 316.9,258.8 319.9,258.0 320.9,258.1 321.1,258.3 321.9,258.3 322.9,258.7 323.6,258.7 325.6,259.7 326.1,259.7 327.4,260.4 327.9,260.4 329.1,261.2 329.6,261.2 330.3,261.6 330.3,272.1 330.1,272.3Z" fill="#34453b" fill-rule="evenodd"/><path d="M77.9,282.9L74.6,282.9 74.1,283.1 70.9,282.8 70.1,282.9 66.4,282.2 64.4,281.3 63.9,280.9 63.6,278.9 63.6,273.9 64.6,250.9 66.5,241.4 69.4,229.6 70.6,221.6 75.2,196.1 75.8,191.9 77.8,181.6 80.4,169.9 82.1,163.6 82.4,161.1 83.1,158.5 84.9,155.5 86.6,153.0 88.4,151.2 90.1,150.0 91.6,149.5 93.1,149.6 94.4,150.3 95.9,152.0 96.0,151.9 96.4,147.4 97.9,139.6 107.4,141.3 112.1,142.7 112.6,143.1 113.0,144.4 112.8,146.9 111.2,152.1 104.5,167.4 102.1,174.7 103.1,183.4 103.5,195.9 98.9,238.9 97.1,244.1 94.5,250.4 91.3,256.9 87.6,263.4 84.8,269.1 82.8,277.4 81.3,282.4 80.9,282.7 77.9,282.9ZM330.1,272.3L329.4,272.1 326.6,270.1 325.9,269.8 325.4,269.3 325.1,269.3 324.6,268.8 324.4,268.8 323.9,268.3 322.9,267.8 322.4,267.8 320.4,266.8 319.9,266.8 317.9,265.8 317.4,265.8 317.1,265.6 316.6,265.6 316.4,265.3 315.9,265.3 315.6,265.1 314.4,264.8 313.6,264.3 313.1,264.3 312.9,264.0 312.4,264.0 312.1,263.7 310.9,263.4 310.8,263.1 312.8,261.4 315.1,260.0 317.9,258.9 320.9,258.2 321.9,258.3 322.9,258.8 323.6,258.8 325.6,259.7 326.1,259.7 327.4,260.5 327.9,260.5 329.1,261.2 329.6,261.2 330.3,261.6 330.3,272.1 330.1,272.3Z" fill="#34473c" fill-rule="evenodd"/><path d="M77.6,282.9L74.9,282.8 73.9,282.9 70.9,282.6 70.1,282.7 66.4,281.9 64.2,280.9 63.9,279.1 63.8,274.6 64.8,250.9 66.7,241.4 69.5,229.6 70.8,221.6 75.4,196.1 76.0,191.9 78.1,181.6 80.7,169.9 82.5,163.9 82.9,161.2 86.4,156.2 88.4,154.1 90.4,152.9 92.1,152.7 93.1,153.1 93.9,153.6 95.1,155.1 96.3,157.6 98.0,163.4 98.1,166.1 98.9,167.4 100.3,150.9 101.2,144.9 101.4,144.6 106.4,145.5 108.5,146.1 108.3,147.1 107.2,150.6 100.6,165.6 99.5,168.6 101.0,173.6 101.9,179.1 102.5,185.4 102.8,195.4 98.2,240.1 96.9,244.0 94.3,250.4 91.1,256.9 87.4,263.4 84.7,269.1 82.7,277.4 81.1,282.4 80.9,282.6 78.4,282.7 77.6,282.9ZM330.1,272.3L329.4,272.1 326.6,270.1 325.9,269.8 325.4,269.3 325.1,269.3 324.6,268.8 324.4,268.8 323.9,268.3 322.9,267.8 322.4,267.8 320.4,266.8 319.9,266.8 317.9,265.8 317.4,265.8 317.1,265.6 316.6,265.6 316.4,265.3 315.9,265.3 315.6,265.0 314.4,264.8 313.6,264.3 313.1,264.2 312.9,264.0 312.4,264.0 312.1,263.7 311.6,263.7 311.3,263.4 313.2,261.6 315.6,260.2 318.6,259.1 321.9,258.4 322.6,258.6 322.9,258.8 323.6,258.8 325.6,259.8 326.1,259.8 327.4,260.5 327.9,260.5 329.1,261.2 329.6,261.2 330.3,261.6 330.3,272.1 330.1,272.3Z" fill="#344a3e" fill-rule="evenodd"/><path d="M77.6,282.7L74.6,282.7 73.9,282.8 70.1,282.5 66.4,281.6 64.4,280.6 64.1,279.1 64.0,274.1 65.0,250.9 66.9,241.4 69.7,229.9 70.9,221.6 73.2,209.6 76.5,190.1 79.4,176.4 81.8,167.1 82.6,164.6 83.2,164.1 83.8,162.1 84.8,160.6 88.6,156.8 90.1,156.0 91.4,155.9 92.6,156.3 93.9,157.5 94.7,158.9 96.4,162.6 96.8,164.1 96.8,165.9 98.8,169.4 100.2,173.9 101.1,178.6 101.7,184.1 102.2,196.1 97.8,240.4 96.7,243.9 94.1,250.3 91.0,256.9 87.3,263.4 84.6,269.1 82.6,277.4 81.0,282.4 77.6,282.7ZM330.1,272.3L329.4,272.1 326.6,270.1 325.9,269.8 325.4,269.3 325.1,269.3 324.6,268.8 324.4,268.8 323.9,268.3 322.9,267.8 322.4,267.8 320.4,266.8 319.9,266.8 319.1,266.3 318.6,266.3 317.9,265.8 317.4,265.8 317.1,265.6 316.6,265.5 316.4,265.3 315.1,265.0 313.6,264.2 313.1,264.2 312.9,263.9 311.7,263.6 313.6,261.9 315.9,260.5 318.6,259.5 321.9,258.8 323.6,258.9 325.6,259.8 326.1,259.8 327.4,260.5 327.9,260.5 329.1,261.2 329.6,261.2 330.2,261.6 330.3,272.1 330.1,272.3Z" fill="#344d3f" fill-rule="evenodd"/><path d="M77.4,282.6L74.6,282.5 73.9,282.7 69.9,282.3 66.4,281.4 64.6,280.4 64.4,279.1 64.2,274.1 65.2,250.9 67.1,241.4 69.8,229.9 71.1,221.6 73.9,206.6 76.4,191.9 79.7,176.4 81.2,170.1 82.6,165.8 84.6,164.4 85.2,162.6 86.1,161.4 87.1,160.5 89.1,159.5 90.1,159.1 90.9,159.1 91.6,159.3 92.4,159.8 94.5,162.1 95.2,163.9 95.3,165.6 97.1,168.1 98.5,170.9 99.4,173.6 100.1,176.9 101.1,184.9 101.6,196.1 97.3,241.4 94.0,250.1 90.9,256.7 87.3,263.1 84.6,268.9 82.5,277.4 80.9,282.2 80.6,282.4 78.1,282.4 77.4,282.6ZM330.1,272.3L329.4,272.1 326.6,270.1 325.9,269.8 325.4,269.3 325.1,269.3 324.6,268.8 324.4,268.8 323.9,268.3 322.9,267.8 322.4,267.8 320.4,266.8 319.9,266.8 317.9,265.8 317.4,265.8 317.1,265.5 316.6,265.5 316.4,265.3 315.9,265.3 315.6,265.0 314.4,264.7 313.6,264.2 312.4,263.9 312.3,263.6 314.1,262.0 316.4,260.7 318.9,259.8 321.9,259.1 323.6,259.0 324.4,259.3 324.9,259.3 325.6,259.8 326.1,259.8 327.4,260.5 327.9,260.5 329.1,261.3 329.6,261.3 330.2,261.6 330.3,271.4 330.3,272.1 330.1,272.3Z" fill="#344f40" fill-rule="evenodd"/><path d="M77.6,282.5L73.9,282.5 69.9,282.1 66.1,281.0 64.7,280.1 64.4,274.1 65.4,250.9 67.3,240.9 69.9,229.9 71.2,221.6 74.3,205.1 76.5,191.9 79.0,180.1 81.5,170.1 82.4,167.3 82.6,167.0 84.4,165.6 86.4,164.5 87.0,163.1 88.0,162.1 89.1,161.6 90.4,161.5 91.6,161.9 92.8,162.9 93.4,164.1 93.5,165.4 95.9,167.9 97.7,171.1 98.7,173.9 99.5,177.1 100.2,181.1 100.6,185.4 101.1,196.1 96.8,242.1 94.5,248.4 92.6,252.9 90.8,256.6 87.2,263.1 84.5,268.9 82.4,277.4 80.8,282.1 77.6,282.5ZM330.1,272.3L329.4,272.0 326.6,270.1 325.9,269.8 325.4,269.3 325.1,269.3 324.6,268.8 324.4,268.8 323.9,268.3 322.9,267.8 322.4,267.8 320.4,266.8 319.9,266.8 319.1,266.3 318.6,266.3 317.9,265.8 317.4,265.8 317.1,265.5 316.6,265.5 316.4,265.3 315.1,265.0 314.9,264.7 314.4,264.7 313.6,264.2 313.1,264.2 312.6,263.9 314.2,262.4 316.4,261.1 318.9,260.1 321.6,259.5 324.1,259.2 324.9,259.4 327.4,260.5 327.9,260.5 329.1,261.3 329.6,261.3 330.2,261.6 330.3,270.9 330.3,272.1 330.1,272.3Z" fill="#345241" fill-rule="evenodd"/><path d="M77.4,282.4L74.6,282.3 73.9,282.4 69.9,281.9 66.1,280.8 65.0,280.1 64.9,279.9 64.6,274.1 65.6,251.1 67.3,241.6 70.1,229.9 71.4,221.6 74.4,205.4 76.7,192.1 79.3,180.1 81.8,170.1 82.4,168.4 84.9,166.4 87.4,165.3 89.9,165.2 91.9,165.7 93.7,166.9 95.4,168.6 96.8,170.9 97.9,173.6 98.8,177.1 99.6,181.1 100.1,185.9 100.6,195.9 96.4,242.9 94.1,249.1 92.1,253.6 90.3,257.4 87.1,263.1 84.4,268.9 82.3,277.4 80.6,282.1 78.1,282.2 77.4,282.4ZM330.1,272.3L329.4,272.0 326.6,270.1 325.9,269.8 325.4,269.3 325.1,269.3 324.6,268.8 324.4,268.8 323.9,268.3 322.9,267.8 322.4,267.8 320.4,266.8 319.9,266.8 317.9,265.8 317.4,265.8 317.1,265.5 316.6,265.5 316.4,265.3 315.9,265.2 315.6,265.0 314.4,264.7 313.6,264.2 313.1,264.1 313.1,263.9 314.8,262.4 316.9,261.2 319.4,260.3 322.1,259.7 324.4,259.5 325.4,259.6 327.4,260.6 327.9,260.6 329.1,261.3 330.1,261.5 330.3,267.9 330.3,272.1 330.1,272.3Z" fill="#345543" fill-rule="evenodd"/><path d="M77.9,282.1L77.4,282.3 74.6,282.1 73.9,282.3 69.9,281.8 66.1,280.5 65.1,279.9 64.8,274.1 65.7,251.1 67.5,241.6 70.2,229.9 71.5,221.6 75.1,202.4 76.8,192.1 79.1,181.9 81.4,172.6 82.4,169.6 84.1,168.0 85.4,167.1 86.9,166.5 88.4,166.2 89.6,166.2 91.6,166.7 93.4,167.8 95.0,169.6 96.4,171.9 97.5,174.6 98.4,178.1 99.1,182.1 99.6,186.6 100.2,195.9 96.0,243.1 94.3,248.1 92.4,252.6 90.1,257.4 87.0,263.1 84.3,268.9 82.1,277.4 80.6,281.9 80.4,282.0 77.9,282.1ZM330.1,272.3L329.4,272.0 326.6,270.1 325.9,269.8 325.4,269.3 325.1,269.3 324.6,268.8 324.4,268.8 323.9,268.3 322.9,267.8 322.4,267.8 321.6,267.3 321.1,267.3 320.4,266.8 319.9,266.8 319.1,266.3 318.6,266.3 317.9,265.8 317.4,265.8 317.1,265.5 316.6,265.5 316.4,265.2 315.9,265.2 315.6,265.0 314.4,264.7 313.4,264.1 314.9,262.8 316.9,261.5 319.1,260.7 321.6,260.1 324.1,259.8 326.1,259.9 329.1,261.3 329.6,261.3 330.2,261.6 330.3,269.9 330.1,272.3Z" fill="#345744" fill-rule="evenodd"/><path d="M77.4,282.2L73.6,282.1 69.9,281.6 66.1,280.3 65.5,279.9 65.4,279.6 65.2,278.9 65.0,274.4 65.9,251.1 67.6,241.6 70.3,229.9 71.7,221.6 75.3,202.4 77.0,192.1 79.3,181.9 81.6,172.6 82.1,171.0 83.5,169.6 84.9,168.5 87.1,167.4 88.4,167.2 89.6,167.2 91.6,167.8 93.6,169.3 95.2,171.4 96.7,174.4 97.7,177.9 98.5,181.9 99.7,193.9 99.7,196.1 95.6,243.9 93.8,248.9 92.2,252.6 89.6,258.1 86.9,263.1 84.2,268.9 82.0,277.4 80.4,281.9 77.4,282.2ZM330.1,272.3L329.4,272.0 326.6,270.0 325.9,269.8 325.4,269.3 325.1,269.3 324.6,268.8 324.4,268.8 323.9,268.3 322.9,267.8 322.4,267.8 320.4,266.8 319.9,266.8 317.9,265.8 317.4,265.7 317.1,265.5 316.6,265.5 316.4,265.2 315.9,265.2 315.6,265.0 314.4,264.7 313.9,264.4 313.9,264.2 315.3,262.9 317.1,261.8 319.4,260.9 321.9,260.3 324.4,260.1 326.6,260.1 329.1,261.3 330.1,261.6 330.3,267.9 330.1,272.3Z" fill="#345a45" fill-rule="evenodd"/><path d="M77.9,281.9L77.4,282.0 73.6,282.0 69.9,281.4 66.1,280.0 65.8,279.6 65.3,278.1 65.1,274.4 66.1,251.1 67.8,241.6 70.4,229.9 71.7,221.9 75.4,202.4 77.1,192.1 81.3,174.6 82.1,172.1 84.4,169.9 86.9,168.5 88.1,168.2 89.4,168.2 91.4,168.8 93.4,170.3 94.9,172.4 96.2,175.1 97.2,178.4 98.0,182.4 99.2,193.9 99.2,196.1 95.3,244.1 93.7,248.9 91.7,253.4 90.0,257.1 86.9,262.9 84.1,268.9 82.0,277.1 80.7,281.1 80.1,281.8 77.9,281.9ZM330.1,272.2L329.4,272.0 326.6,270.0 325.9,269.8 325.4,269.3 325.1,269.3 324.6,268.8 324.4,268.8 323.9,268.3 322.9,267.8 322.4,267.8 321.6,267.3 321.1,267.3 320.4,266.8 319.9,266.8 319.1,266.3 318.6,266.3 317.9,265.7 317.4,265.7 317.1,265.5 315.9,265.2 315.6,264.9 314.4,264.6 314.1,264.4 315.5,263.1 317.4,262.0 319.4,261.2 321.6,260.6 324.4,260.3 327.1,260.4 327.4,260.6 327.9,260.6 329.1,261.3 330.1,261.6 330.3,267.9 330.1,272.2Z" fill="#355d46" fill-rule="evenodd"/><path d="M77.4,281.9L73.6,281.9 69.9,281.3 66.3,279.9 66.0,279.4 65.4,276.9 65.3,274.6 66.2,251.1 67.9,241.6 70.6,229.9 71.9,221.9 75.8,200.9 77.3,192.1 81.5,174.6 81.9,173.6 82.6,172.7 85.1,170.4 87.4,169.4 89.4,169.3 91.4,169.9 93.1,171.3 94.6,173.4 95.9,176.1 96.9,179.4 97.6,183.1 98.8,194.1 98.8,196.1 95.0,244.6 93.5,248.9 91.6,253.4 89.9,257.1 86.8,262.9 84.1,268.7 81.9,277.1 80.5,281.1 80.1,281.7 77.4,281.9ZM330.1,272.2L329.4,272.0 326.6,270.0 325.9,269.8 325.4,269.3 325.1,269.3 324.6,268.8 324.4,268.8 323.9,268.3 322.9,267.8 322.4,267.8 320.4,266.8 319.9,266.8 317.9,265.7 317.4,265.7 317.1,265.5 316.6,265.5 316.4,265.2 315.9,265.2 315.6,264.9 314.4,264.6 315.7,263.4 317.2,262.4 319.1,261.5 321.1,261.0 323.4,260.6 325.9,260.6 328.4,260.9 329.1,261.4 329.6,261.4 330.1,261.6 330.2,261.9 330.3,268.9 330.1,272.2Z" fill="#355f47" fill-rule="evenodd"/><path d="M79.1,281.6L77.1,281.8 73.1,281.7 69.6,281.1 66.5,279.6 65.8,277.4 65.5,274.9 66.3,251.1 68.0,241.6 70.7,229.9 72.0,221.9 75.7,202.4 77.4,192.1 81.2,176.6 81.6,175.0 82.9,173.4 84.4,172.0 85.6,171.1 86.9,170.6 88.1,170.3 89.1,170.3 90.9,170.8 92.6,172.1 94.1,174.1 95.4,176.6 96.4,179.8 97.1,183.4 98.4,194.1 98.4,195.9 94.7,244.9 93.5,248.6 91.1,254.1 89.4,257.9 86.7,262.9 84.1,268.6 81.8,277.1 80.4,281.1 80.1,281.6 79.1,281.6ZM330.1,272.2L329.4,272.0 326.6,270.0 325.9,269.8 325.4,269.3 325.1,269.3 324.6,268.8 324.4,268.8 323.9,268.3 322.9,267.8 322.4,267.8 321.6,267.3 321.1,267.3 320.4,266.8 319.9,266.8 319.1,266.2 318.6,266.2 317.9,265.7 316.6,265.4 316.4,265.2 315.9,265.2 314.8,264.6 316.1,263.4 317.6,262.5 319.6,261.6 321.6,261.1 323.9,260.8 326.1,260.8 328.4,261.1 330.1,261.6 330.3,267.9 330.1,272.2Z" fill="#356249" fill-rule="evenodd"/><path d="M77.6,281.6L73.6,281.6 69.9,281.0 67.1,279.8 66.8,279.6 66.6,279.1 66.1,277.1 65.9,274.9 66.5,251.1 68.2,241.6 70.8,229.9 72.1,221.9 75.8,202.4 77.6,192.1 81.4,176.6 83.1,174.2 85.1,172.5 87.1,171.5 89.1,171.3 90.9,171.9 92.4,173.1 93.9,175.1 95.1,177.6 95.9,180.4 96.7,183.9 98.0,194.1 98.0,195.9 94.4,245.6 93.0,249.4 90.1,256.1 86.6,262.9 84.0,268.6 81.7,277.1 80.3,281.1 79.9,281.5 77.6,281.6ZM330.1,272.2L329.4,272.0 326.6,270.0 325.9,269.8 325.4,269.3 325.1,269.3 324.6,268.8 324.4,268.8 323.9,268.3 322.9,267.8 322.4,267.8 321.6,267.3 321.1,267.3 320.4,266.8 319.9,266.7 317.9,265.7 317.4,265.7 317.1,265.4 316.6,265.4 316.4,265.2 315.9,265.2 315.1,264.8 316.3,263.6 317.9,262.6 319.6,261.9 321.6,261.4 323.6,261.1 325.9,261.1 328.1,261.3 330.1,261.8 330.2,267.9 330.1,272.2Z" fill="#35654a" fill-rule="evenodd"/><path d="M79.9,281.4L77.1,281.6 73.6,281.5 69.6,280.8 67.2,279.6 66.4,277.4 66.2,274.9 66.6,251.1 68.2,241.9 70.9,230.0 72.2,221.9 75.7,203.9 77.7,192.1 81.0,178.6 81.4,177.5 82.1,176.5 84.6,173.8 86.9,172.6 88.9,172.4 90.6,172.9 92.1,174.1 93.5,175.9 94.6,178.2 95.6,181.1 96.3,184.4 97.6,194.1 97.6,195.9 94.3,243.6 94.1,246.1 92.9,249.4 90.0,256.1 86.5,262.9 83.9,268.6 81.3,278.1 80.2,281.1 79.9,281.4ZM330.1,272.2L329.4,272.0 326.6,270.0 325.9,269.8 325.4,269.3 325.1,269.3 324.6,268.8 324.4,268.8 323.9,268.3 322.9,267.8 322.4,267.8 321.6,267.3 321.1,267.3 320.4,266.7 319.9,266.7 319.1,266.2 318.6,266.2 317.9,265.7 317.4,265.7 317.1,265.4 316.6,265.4 316.4,265.2 315.9,265.1 315.4,264.9 316.6,263.8 318.1,262.8 319.9,262.1 321.9,261.5 323.9,261.3 326.1,261.3 328.1,261.5 330.1,262.1 330.1,272.2Z" fill="#35674b" fill-rule="evenodd"/><path d="M77.6,281.4L73.6,281.4 69.6,280.6 67.5,279.6 67.1,278.6 66.6,276.9 66.5,274.9 66.9,250.4 68.3,241.9 71.0,230.1 72.3,221.9 77.9,192.1 80.7,180.4 81.1,179.0 81.6,178.2 83.0,176.4 84.4,175.1 86.6,173.7 87.9,173.4 88.9,173.4 90.4,173.9 91.9,175.0 93.1,176.7 94.3,179.1 95.1,181.6 95.9,184.9 97.2,194.4 93.8,246.4 92.8,249.4 89.9,256.1 86.4,262.9 83.8,268.6 81.5,277.1 80.0,281.1 79.9,281.3 77.6,281.4ZM330.1,272.2L329.4,272.0 326.6,270.0 325.9,269.8 323.9,268.3 322.9,267.8 322.4,267.8 321.6,267.3 321.1,267.2 320.4,266.7 319.9,266.7 319.1,266.2 318.6,266.2 317.9,265.7 317.4,265.7 317.1,265.4 315.9,265.1 315.9,264.9 317.1,263.7 318.6,262.9 320.4,262.2 322.1,261.7 324.1,261.5 326.1,261.5 328.1,261.8 330.1,262.3 330.1,272.2Z" fill="#356a4c" fill-rule="evenodd"/><path d="M77.4,281.4L73.6,281.3 69.6,280.5 67.8,279.6 67.3,278.4 66.9,276.6 66.8,274.9 67.1,249.4 68.4,241.9 71.1,230.1 72.4,221.9 77.9,192.4 80.9,180.5 82.6,177.9 84.6,175.8 86.6,174.7 88.6,174.4 90.1,174.9 91.6,176.0 92.9,177.7 93.9,179.7 94.7,182.1 95.4,185.1 96.9,194.4 93.5,246.9 92.8,249.1 89.8,256.1 86.4,262.7 83.7,268.6 81.4,277.1 79.9,281.1 77.4,281.4ZM330.1,272.2L329.4,271.9 326.6,270.0 325.9,269.7 325.4,269.3 325.1,269.3 324.6,268.8 324.4,268.8 323.9,268.3 322.9,267.8 322.4,267.7 320.4,266.7 319.9,266.7 319.1,266.2 318.6,266.2 317.9,265.7 317.4,265.7 317.1,265.4 316.0,265.1 317.1,264.1 318.6,263.1 320.4,262.4 322.1,262.0 324.1,261.7 326.1,261.7 328.1,262.0 330.1,262.6 330.1,272.2Z" fill="#356d4e" fill-rule="evenodd"/><path d="M78.9,281.1L77.1,281.3 73.6,281.2 72.4,280.9 69.6,280.3 68.4,279.8 68.1,279.6 67.7,278.6 67.2,276.9 67.0,274.9 67.4,248.6 68.6,241.9 71.2,230.1 72.5,221.9 78.1,192.4 80.6,182.1 82.1,179.6 84.4,177.0 86.4,175.8 88.4,175.4 89.9,175.8 91.1,176.7 92.4,178.3 93.5,180.4 94.4,182.9 95.1,185.6 96.5,194.4 94.1,236.4 93.3,247.1 92.6,249.1 89.8,255.9 86.3,262.6 83.6,268.6 81.3,277.1 80.2,280.1 79.9,280.9 79.6,281.1 78.9,281.1ZM330.1,272.2L329.4,271.9 326.6,270.0 325.9,269.7 323.9,268.2 322.9,267.7 322.4,267.7 321.6,267.2 321.1,267.2 320.4,266.7 319.9,266.7 319.1,266.2 318.6,266.2 317.9,265.7 316.6,265.4 316.4,265.1 317.5,264.1 318.9,263.3 320.6,262.6 322.4,262.2 324.4,261.9 326.4,262.0 328.4,262.3 330.1,262.8 330.1,272.2Z" fill="#356f4f" fill-rule="evenodd"/><path d="M77.4,281.2L73.6,281.1 69.6,280.2 68.4,279.6 67.8,277.9 67.3,274.9 67.6,247.9 68.8,241.4 71.3,230.1 72.6,221.9 78.2,192.4 80.3,183.9 80.6,182.9 81.6,181.3 84.1,178.3 85.4,177.3 86.4,176.8 87.4,176.5 88.4,176.5 89.6,176.8 90.9,177.7 92.1,179.2 93.1,181.2 94.6,185.9 96.1,194.4 93.8,236.4 93.0,247.6 89.7,255.9 86.2,262.6 83.5,268.6 81.2,277.1 79.8,280.9 77.4,281.2ZM330.1,272.2L329.4,271.9 326.6,270.0 325.9,269.7 325.4,269.2 325.1,269.2 324.6,268.7 324.4,268.7 323.9,268.2 322.9,267.7 322.4,267.7 320.4,266.7 319.9,266.7 319.1,266.2 318.6,266.2 317.9,265.7 316.6,265.4 317.7,264.4 319.1,263.4 320.9,262.7 322.6,262.3 324.6,262.2 326.6,262.2 328.4,262.5 330.1,263.1 330.1,272.2Z" fill="#357250" fill-rule="evenodd"/><path d="M79.6,280.9L77.1,281.1 72.6,280.8 69.6,280.0 68.7,279.6 68.2,278.4 67.8,276.6 67.6,274.9 67.9,246.9 69.3,239.4 71.4,230.1 72.7,221.9 78.3,192.4 80.4,184.3 82.4,181.2 84.4,179.0 86.4,177.8 88.1,177.5 89.4,177.8 90.6,178.7 91.8,180.1 92.8,181.9 94.2,186.4 95.7,194.4 93.7,234.6 93.0,245.4 92.7,248.4 91.3,251.9 89.6,255.9 86.1,262.6 83.4,268.6 81.1,277.1 79.6,280.9ZM330.1,272.1L329.4,271.9 326.6,270.0 325.9,269.7 323.9,268.2 322.9,267.7 322.4,267.7 321.6,267.2 321.1,267.2 320.4,266.7 319.9,266.7 319.1,266.2 318.6,266.2 317.9,265.7 317.4,265.6 317.0,265.4 318.1,264.4 319.4,263.6 321.1,262.9 322.9,262.5 324.6,262.4 326.6,262.5 328.4,262.8 330.1,263.4 330.1,272.1Z" fill="#357551" fill-rule="evenodd"/><path d="M77.9,280.9L77.1,281.0 73.4,280.8 69.6,279.9 69.0,279.6 68.3,277.6 67.9,274.6 68.1,246.1 69.4,239.4 71.5,230.1 72.8,221.9 78.5,192.4 80.1,185.8 82.1,182.5 84.1,180.2 86.1,178.8 87.1,178.5 88.1,178.5 89.4,178.9 90.4,179.6 91.4,180.9 92.4,182.6 93.9,186.9 95.4,194.4 93.4,235.1 92.5,248.4 89.5,255.9 86.1,262.6 83.4,268.4 81.3,276.1 80.0,279.9 79.6,280.7 79.4,280.8 77.9,280.9ZM330.1,272.1L329.4,271.9 326.6,270.0 325.9,269.7 323.9,268.2 322.9,267.7 322.4,267.7 321.6,267.2 321.1,267.2 320.4,266.7 319.9,266.7 319.1,266.2 318.6,266.2 317.9,265.6 317.4,265.6 317.4,265.4 318.6,264.4 319.9,263.6 321.4,263.1 323.1,262.7 324.9,262.6 326.9,262.7 328.6,263.1 330.1,263.6 330.1,272.1Z" fill="#357752" fill-rule="evenodd"/><path d="M77.1,280.9L73.4,280.7 69.4,279.6 68.4,277.1 68.1,274.6 68.1,254.1 68.4,245.4 69.5,239.4 71.6,230.1 72.9,221.9 78.6,192.4 79.9,187.4 81.7,184.1 83.9,181.4 85.9,179.9 86.9,179.6 87.9,179.5 89.1,179.9 90.1,180.6 91.1,181.7 92.1,183.5 93.5,187.4 95.0,194.4 93.2,234.9 92.3,248.6 89.5,255.6 86.0,262.6 83.3,268.4 81.0,276.9 79.9,279.9 79.4,280.7 77.1,280.9ZM329.9,272.1L328.1,270.9 327.9,270.9 327.4,270.4 327.1,270.5 326.6,270.0 325.9,269.7 323.9,268.2 317.6,265.6 318.6,264.7 319.9,263.9 321.4,263.3 323.1,262.9 324.9,262.8 326.9,262.9 328.6,263.3 330.1,263.9 330.1,271.6 330.1,272.1 329.9,272.1Z" fill="#367a54" fill-rule="evenodd"/><path d="M79.4,280.6L76.9,280.8 73.4,280.6 71.9,280.2 69.6,279.5 68.8,277.6 68.4,274.6 68.4,253.9 68.6,244.4 71.6,230.1 73.0,221.9 78.7,192.4 79.6,189.1 79.9,188.2 81.3,185.6 83.6,182.6 84.9,181.5 85.9,180.9 86.9,180.6 87.9,180.6 88.9,180.9 89.9,181.5 90.9,182.7 91.7,184.1 93.0,187.6 94.6,194.4 93.1,233.1 92.4,245.4 91.9,249.4 89.4,255.7 85.9,262.6 83.3,268.4 80.9,276.9 79.4,280.6ZM329.9,271.9L329.4,271.9 326.6,270.0 325.9,269.7 324.6,268.7 324.4,268.7 323.9,268.2 322.9,267.7 322.4,267.7 321.6,267.2 321.1,267.2 320.4,266.7 319.9,266.7 319.1,266.2 318.6,266.1 318.0,265.6 319.1,264.6 320.4,263.9 321.9,263.4 323.6,263.1 325.4,263.0 327.1,263.2 328.6,263.6 330.1,264.2 330.1,271.8 329.9,271.9Z" fill="#367d55" fill-rule="evenodd"/><path d="M77.6,280.6L76.9,280.7 73.4,280.5 70.1,279.6 69.6,279.0 68.9,277.1 68.6,274.6 68.6,254.4 68.8,244.4 69.7,239.4 71.7,230.1 73.9,217.9 79.3,190.6 81.1,186.9 83.4,183.8 84.6,182.7 85.6,182.0 86.6,181.6 87.6,181.6 88.6,181.8 89.6,182.5 90.6,183.6 91.4,184.9 92.7,188.1 94.0,193.1 94.2,194.6 92.8,234.6 91.8,249.4 89.3,255.6 85.9,262.4 83.2,268.4 80.8,276.9 79.7,279.9 79.4,280.5 79.1,280.6 77.6,280.6ZM329.4,271.9L326.6,269.9 325.9,269.7 324.6,268.7 324.4,268.7 323.9,268.2 318.2,265.9 319.1,265.0 320.4,264.2 321.9,263.7 323.4,263.4 325.1,263.2 326.9,263.4 328.4,263.7 329.9,264.4 330.1,264.6 330.1,271.5 329.4,271.9Z" fill="#367f56" fill-rule="evenodd"/><path d="M77.1,280.6L73.4,280.4 70.4,279.5 69.9,278.9 69.2,276.9 68.9,274.9 68.8,257.9 69.0,243.6 71.8,230.1 74.0,217.9 79.4,190.7 82.1,186.3 83.9,184.3 85.9,182.9 87.6,182.6 88.6,182.9 89.6,183.6 91.1,185.7 92.4,188.9 93.6,193.1 93.9,194.6 92.6,234.4 91.6,249.6 89.2,255.6 85.8,262.4 83.1,268.4 80.7,276.9 79.6,279.9 79.1,280.5 77.1,280.6ZM329.1,271.6L327.4,270.4 327.1,270.4 326.6,269.9 325.9,269.7 323.9,268.2 322.9,267.7 322.4,267.7 321.6,267.2 321.1,267.2 320.4,266.7 319.9,266.7 319.1,266.1 318.6,266.1 318.6,265.9 319.4,265.1 320.6,264.4 322.1,263.8 323.6,263.5 326.9,263.6 328.4,264.0 329.8,264.6 330.1,264.8 330.1,271.2 329.1,271.6Z" fill="#368257" fill-rule="evenodd"/><path d="M78.9,280.4L76.9,280.5 73.4,280.3 71.4,279.7 70.4,279.4 69.5,277.1 69.2,274.9 69.0,258.9 69.2,243.1 71.9,230.3 74.1,217.9 79.4,191.3 82.4,186.9 83.9,185.2 85.6,184.0 87.4,183.6 88.4,183.9 89.1,184.4 89.9,185.1 90.7,186.4 91.6,188.3 93.1,192.6 93.5,194.6 92.5,231.1 91.8,245.4 91.3,250.1 91.1,250.9 89.1,255.6 85.7,262.4 83.0,268.4 80.3,277.9 79.5,279.9 79.1,280.4 78.9,280.4ZM329.1,271.4L328.6,271.4 326.6,269.9 325.9,269.7 323.9,268.2 318.8,266.1 319.6,265.3 320.7,264.6 322.1,264.1 323.6,263.8 326.6,263.8 329.4,264.7 330.1,265.1 330.1,270.9 329.1,271.4Z" fill="#368559" fill-rule="evenodd"/><path d="M77.4,280.4L73.4,280.2 70.7,279.4 69.6,276.6 69.4,274.9 69.2,255.9 69.4,242.1 71.9,230.4 74.2,217.9 79.1,192.8 80.1,190.9 83.6,186.4 85.6,184.9 86.6,184.6 87.4,184.6 88.9,185.3 90.4,187.1 92.7,192.6 93.1,194.6 92.2,233.4 91.8,242.9 91.1,250.1 89.0,255.6 85.7,262.4 82.9,268.4 80.6,276.9 79.4,279.8 79.1,280.2 77.4,280.4ZM328.6,271.4L326.6,269.9 325.9,269.7 324.6,268.7 324.4,268.7 323.9,268.2 322.9,267.7 322.4,267.7 321.6,267.2 321.1,267.2 320.4,266.7 319.9,266.6 319.2,266.1 320.0,265.4 321.1,264.7 323.9,264.0 326.9,264.1 329.4,265.0 330.1,265.5 330.1,270.5 328.6,271.4Z" fill="#36875a" fill-rule="evenodd"/><path d="M78.9,280.2L76.9,280.4 73.4,280.1 71.0,279.4 70.4,278.1 69.9,276.6 69.7,274.9 69.4,255.4 69.4,246.9 69.7,241.4 72.0,230.4 74.3,217.9 78.4,197.4 79.4,193.1 80.5,191.1 83.6,187.3 85.4,186.0 86.4,185.7 87.1,185.6 88.6,186.2 90.1,188.0 92.2,192.6 92.7,194.6 92.1,229.4 91.4,245.4 90.9,250.9 88.6,256.4 85.6,262.4 82.9,268.3 80.5,276.9 79.2,279.9 78.9,280.2ZM328.4,271.1L326.6,269.9 325.9,269.7 323.9,268.2 319.4,266.4 320.2,265.6 321.4,264.9 323.9,264.2 326.6,264.3 329.1,265.1 330.1,265.9 330.1,270.1 329.1,270.8 328.4,271.1Z" fill="#368a5b" fill-rule="evenodd"/><path d="M78.1,280.1L76.9,280.3 73.4,280.0 71.3,279.4 70.5,277.9 70.1,276.4 69.9,274.9 69.6,254.1 69.7,245.4 69.9,240.6 72.1,230.4 74.3,217.9 77.9,200.6 79.9,193.1 80.9,191.3 83.9,188.0 85.4,187.0 86.9,186.6 88.4,187.2 89.6,188.5 91.8,192.6 92.3,194.6 91.9,230.1 91.6,239.9 91.0,247.6 90.5,251.6 88.5,256.4 82.9,268.1 80.7,275.9 79.6,278.9 78.9,280.1 78.1,280.1ZM328.4,270.9L327.9,270.9 326.6,269.9 325.9,269.7 324.6,268.7 324.4,268.7 323.9,268.2 322.9,267.7 322.4,267.7 321.6,267.2 321.1,267.2 320.4,266.6 319.9,266.6 319.9,266.4 321.6,265.1 323.9,264.5 326.4,264.5 328.6,265.2 330.1,266.4 330.1,269.6 329.3,270.4 328.4,270.9Z" fill="#368d5c" fill-rule="evenodd"/><path d="M77.1,280.2L73.4,279.9 71.6,279.4 70.8,277.9 70.3,276.1 69.7,253.1 69.9,243.4 70.2,239.6 72.2,230.4 73.6,222.1 77.1,204.9 80.3,193.4 81.3,191.4 83.9,188.9 85.4,187.9 86.9,187.7 88.1,188.1 89.4,189.4 91.3,192.6 91.8,194.6 91.9,209.9 91.7,231.1 91.3,241.9 90.6,250.1 90.4,251.6 88.9,255.4 82.7,268.4 80.6,275.9 79.5,278.9 78.9,280.0 77.1,280.2ZM328.1,270.7L327.9,270.8 326.6,269.9 325.9,269.7 323.9,268.2 320.1,266.6 320.9,265.9 321.7,265.4 323.9,264.7 326.1,264.7 328.4,265.4 329.4,266.1 330.1,267.1 330.1,268.9 329.4,269.9 328.1,270.7Z" fill="#368f5d" fill-rule="evenodd"/><path d="M78.9,279.9L76.4,280.1 73.4,279.8 71.9,279.4 71.1,277.9 70.6,276.4 70.4,274.9 70.0,255.9 70.2,242.1 70.8,236.9 72.3,230.4 73.7,222.1 76.6,207.9 80.6,193.6 81.3,192.1 82.4,190.9 84.9,189.1 85.9,188.7 86.6,188.7 87.9,189.1 88.9,190.0 90.7,192.4 91.1,193.4 91.4,194.6 91.6,206.6 91.6,225.1 91.4,236.1 90.9,245.1 90.1,252.1 88.4,256.1 82.7,268.1 80.2,276.9 78.9,279.9ZM327.9,270.5L327.6,270.6 327.1,270.4 326.6,269.9 325.9,269.7 324.6,268.7 324.4,268.7 323.9,268.2 322.9,267.7 322.4,267.7 321.6,267.1 321.1,267.1 320.6,266.9 320.6,266.6 321.9,265.6 323.9,265.0 326.1,265.0 328.1,265.6 329.4,266.6 329.8,267.4 329.9,268.1 329.4,269.4 327.9,270.5Z" fill="#36925f" fill-rule="evenodd"/><path d="M77.9,279.9L76.4,280.0 73.4,279.7 72.3,279.4 71.4,277.9 70.8,276.1 70.1,253.6 70.2,243.6 70.6,239.9 70.9,236.9 72.4,230.4 73.8,222.1 76.4,209.6 81.1,193.6 81.9,192.2 82.9,191.1 85.4,189.8 86.6,189.7 87.9,190.2 89.8,191.9 90.5,193.1 90.9,194.6 91.3,207.9 91.3,227.1 91.1,238.9 90.5,247.9 89.9,252.4 88.4,256.1 82.6,268.1 80.4,275.9 79.4,278.6 78.9,279.8 77.9,279.9ZM327.1,270.4L326.6,269.9 325.9,269.6 324.6,268.7 324.4,268.7 323.9,268.2 322.9,267.6 322.4,267.6 321.6,267.1 321.1,267.1 320.9,266.9 322.1,265.9 323.9,265.3 325.9,265.3 327.9,265.9 329.1,267.0 329.4,267.6 329.4,268.4 328.6,269.6 327.1,270.4Z" fill="#379560" fill-rule="evenodd"/><path d="M77.1,279.9L72.6,279.4 71.6,277.8 71.0,275.9 70.3,252.1 70.4,243.4 70.9,238.4 71.1,236.3 72.4,230.4 73.9,222.1 75.9,212.3 81.6,193.8 82.4,192.4 83.6,191.3 85.1,190.7 86.6,190.7 88.1,191.2 89.3,192.1 90.1,193.4 90.4,194.9 90.9,208.4 91.1,227.6 90.8,240.1 90.1,249.6 89.6,252.9 88.3,256.1 82.5,268.1 80.3,275.9 79.3,278.6 78.6,279.8 77.1,279.9ZM326.9,270.1L325.9,269.6 325.4,269.1 325.1,269.1 323.9,268.1 321.3,267.1 322.4,266.2 323.9,265.6 325.9,265.6 327.6,266.1 328.7,267.1 328.9,267.6 328.9,268.4 328.3,269.4 326.9,270.1Z" fill="#379761" fill-rule="evenodd"/><path d="M78.6,279.7L76.9,279.8 72.9,279.4 71.9,277.9 71.4,276.1 70.5,255.9 70.5,248.1 70.7,242.1 71.4,235.6 72.5,230.4 74.5,219.4 75.6,214.2 77.4,208.3 82.4,193.4 83.1,192.4 84.1,191.6 85.1,191.3 86.4,191.2 88.2,191.9 88.9,192.5 89.4,193.4 89.8,194.6 90.1,198.9 90.6,207.4 90.9,220.6 90.8,234.6 90.4,245.1 89.5,253.1 87.8,256.9 82.4,268.1 80.0,276.6 78.6,279.7ZM326.4,269.9L324.6,268.6 324.4,268.6 323.9,268.1 322.9,267.6 322.4,267.6 321.9,267.4 321.9,267.2 322.9,266.3 324.4,265.9 325.9,265.9 327.4,266.5 328.2,267.4 328.3,268.4 327.6,269.4 326.4,269.9Z" fill="#379a62" fill-rule="evenodd"/><path d="M77.9,279.6L76.9,279.8 73.3,279.4 72.2,277.9 71.6,275.9 70.7,254.6 70.7,246.1 71.0,240.9 71.7,234.6 74.0,222.1 75.1,216.9 76.9,210.9 80.1,201.1 83.0,193.6 83.6,192.8 84.4,192.2 85.1,191.9 86.1,191.8 87.1,192.0 87.9,192.5 88.5,193.1 89.0,193.9 89.9,202.4 90.5,214.6 90.7,227.9 90.5,238.6 90.0,247.1 89.4,253.1 87.8,256.9 82.4,268.1 80.1,275.9 79.1,278.6 78.6,279.6 77.9,279.6ZM325.9,269.6L323.9,268.1 322.9,267.6 322.4,267.6 322.4,267.4 323.3,266.6 324.6,266.3 325.9,266.4 327.1,266.9 327.7,267.6 327.7,268.4 327.1,269.1 325.9,269.6Z" fill="#379d64" fill-rule="evenodd"/><path d="M77.1,279.6L75.4,279.5 73.4,279.1 72.4,277.5 71.8,275.6 70.8,253.4 70.9,243.6 71.3,239.6 72.0,233.9 74.1,222.1 74.9,218.6 76.9,211.9 80.4,201.7 83.6,194.1 84.6,193.0 85.4,192.7 86.1,192.6 87.5,193.1 88.3,194.4 89.2,199.9 89.8,206.9 90.4,220.4 90.5,230.9 90.3,240.9 89.7,248.6 89.0,253.9 82.3,268.1 79.4,277.6 78.6,279.4 77.1,279.6ZM325.6,269.1L325.1,269.1 323.9,268.1 323.1,267.9 323.2,267.6 323.7,267.1 324.4,266.9 325.4,266.8 326.3,267.1 326.8,267.6 326.9,268.3 326.4,268.9 325.6,269.1Z" fill="#379f65" fill-rule="evenodd"/><path d="M78.4,279.4L76.9,279.6 73.8,279.1 72.7,277.6 72.1,275.9 71.1,255.9 71.0,247.9 71.2,241.9 72.0,234.6 73.1,227.9 75.0,218.9 76.4,214.4 79.4,205.6 82.1,198.8 83.4,196.4 84.9,194.2 85.4,193.8 86.1,193.7 86.6,193.9 87.1,194.5 88.2,197.9 88.9,201.9 89.5,208.1 90.2,220.4 90.3,228.1 90.2,237.1 89.9,245.1 88.9,253.9 82.2,268.1 79.7,276.6 78.9,278.6 78.4,279.4Z" fill="#37a266" fill-rule="evenodd"/><path d="M77.9,279.4L76.6,279.5 74.2,279.1 73.0,277.6 72.3,275.6 71.2,255.6 71.2,247.4 71.4,241.6 72.2,234.4 73.4,227.5 75.3,218.9 76.4,215.3 79.1,207.3 81.9,200.7 83.9,197.3 84.9,196.4 85.6,196.1 86.4,196.4 86.9,197.0 87.9,199.6 88.7,203.9 89.3,210.4 89.9,220.4 90.1,230.1 90.0,239.1 89.6,246.6 88.7,253.9 88.4,254.9 82.1,268.1 79.3,277.6 78.4,279.3 77.9,279.4Z" fill="#3aa369" fill-rule="evenodd"/><path d="M77.1,279.4L74.6,279.1 73.2,277.4 72.6,275.4 71.8,263.4 71.4,254.6 71.4,245.6 71.7,240.4 72.5,233.6 73.6,227.2 75.5,218.9 76.6,215.4 79.1,208.3 81.6,202.6 83.6,199.3 84.6,198.3 85.4,198.1 86.1,198.4 86.6,199.0 87.6,201.5 88.5,206.1 89.2,212.9 89.7,220.4 89.9,232.1 89.8,240.9 89.3,247.9 88.5,254.1 88.2,255.1 82.1,267.9 79.9,275.6 78.7,278.6 78.4,279.2 77.1,279.4Z" fill="#3da56b" fill-rule="evenodd"/><path d="M78.1,279.2L76.9,279.3 75.1,279.1 73.7,277.6 72.9,275.6 71.7,257.1 71.5,249.6 71.6,242.9 72.3,236.6 73.2,230.6 74.4,224.6 75.8,218.6 78.4,211.3 81.1,204.8 82.4,202.5 83.4,201.1 84.4,200.2 85.1,200.0 85.9,200.3 86.4,200.9 87.4,203.3 88.2,207.1 88.9,213.0 89.4,220.4 89.7,229.6 89.7,237.6 89.4,245.1 88.2,255.1 82.1,267.9 79.4,276.6 78.6,278.6 78.1,279.2Z" fill="#3fa66e" fill-rule="evenodd"/><path d="M77.9,279.1L75.9,279.2 75.1,278.8 73.9,277.3 73.2,275.4 71.8,257.1 71.7,249.6 71.8,242.9 72.5,236.4 73.4,230.4 74.6,224.5 76.1,218.6 78.6,211.5 81.1,206.0 83.1,202.8 84.1,202.0 84.9,201.8 85.6,202.0 86.1,202.6 87.1,204.9 87.9,208.6 88.7,214.4 89.2,220.4 89.5,230.1 89.5,237.9 89.2,245.1 88.0,255.1 82.0,267.9 79.4,276.6 78.4,278.9 77.9,279.1Z" fill="#42a870" fill-rule="evenodd"/><path d="M77.1,279.1L76.3,279.1 74.9,278.1 73.9,276.7 73.4,275.1 72.5,264.6 72.0,255.9 71.8,247.1 72.1,241.1 72.8,235.1 73.7,229.6 74.9,224.3 76.4,218.6 78.6,212.5 80.9,207.6 82.9,204.5 83.9,203.6 84.6,203.4 85.4,203.7 85.9,204.2 86.9,206.6 87.9,210.9 88.6,217.0 89.1,224.1 89.4,233.1 89.3,240.9 88.9,247.1 87.7,255.9 81.9,267.9 78.9,277.6 78.1,279.0 77.1,279.1Z" fill="#45a973" fill-rule="evenodd"/><path d="M78.1,278.9L76.6,278.9 75.4,278.2 74.3,276.9 73.8,275.4 72.9,266.4 72.2,257.6 72.0,249.9 72.1,242.9 72.8,236.4 73.8,230.4 75.1,224.4 76.6,218.6 78.9,212.7 81.1,208.2 82.1,206.7 83.1,205.5 83.9,205.1 84.6,205.0 85.4,205.4 85.9,206.0 86.8,208.4 87.6,211.9 88.4,217.4 88.9,223.7 89.2,231.6 89.2,238.6 88.9,245.1 87.6,255.9 81.8,267.9 79.2,276.6 78.1,278.9Z" fill="#48ab76" fill-rule="evenodd"/><path d="M78.1,278.7L77.9,278.9 76.9,278.6 75.6,277.9 74.6,276.6 74.1,275.1 73.1,266.6 72.5,258.1 72.2,250.4 72.2,243.1 73.0,236.6 73.9,230.6 75.2,224.9 76.8,218.9 79.1,213.1 81.1,209.2 82.9,207.0 83.6,206.5 84.4,206.4 85.1,206.8 85.6,207.4 86.6,209.7 87.6,213.9 88.4,219.9 89.0,232.9 88.8,244.9 87.3,256.1 81.8,267.9 79.4,275.6 78.1,278.7Z" fill="#4aac78" fill-rule="evenodd"/><path d="M78.1,278.5L76.9,278.2 75.6,277.4 74.9,276.4 74.4,275.1 73.4,266.8 72.7,258.4 72.3,250.6 72.4,243.1 73.1,236.6 74.1,230.6 75.4,224.9 77.1,218.9 79.1,213.9 80.9,210.6 82.6,208.4 83.4,207.9 84.1,207.8 84.9,208.1 85.4,208.7 86.4,210.8 87.3,214.6 88.1,219.9 88.8,232.6 88.8,238.9 88.6,244.9 87.9,250.9 87.1,256.6 81.7,267.9 79.3,275.6 78.1,278.5Z" fill="#4dae7b" fill-rule="evenodd"/><path d="M78.1,278.1L76.6,277.7 75.4,276.5 74.9,275.4 74.4,272.4 73.4,264.9 72.8,257.4 72.5,250.1 72.6,243.1 73.3,236.6 74.4,230.4 75.6,224.8 77.3,219.1 79.1,214.8 80.9,211.6 82.4,209.8 83.1,209.3 83.9,209.1 84.6,209.4 85.1,209.9 86.1,211.8 87.0,215.1 87.8,219.9 88.4,226.4 88.6,232.6 88.7,238.9 88.4,244.9 87.7,251.1 86.8,256.9 81.6,267.9 79.0,276.4 78.1,278.1Z" fill="#50af7e" fill-rule="evenodd"/><path d="M78.1,277.7L76.6,277.2 75.5,275.9 74.4,270.4 73.5,263.6 72.9,256.6 72.7,249.6 72.7,243.1 73.5,236.6 74.5,230.4 75.9,224.7 77.6,219.1 79.4,215.1 80.9,212.5 82.4,210.8 83.6,210.3 84.4,210.5 84.9,211.0 85.9,212.8 86.7,215.6 87.5,219.9 88.1,226.1 88.4,232.4 88.5,238.6 88.3,244.9 87.5,251.4 86.6,257.4 81.5,267.9 78.9,276.4 78.4,277.6 78.1,277.7Z" fill="#53b180" fill-rule="evenodd"/><path d="M78.4,277.2L77.6,277.1 76.9,276.8 75.9,275.6 74.5,269.1 73.6,262.6 73.1,256.1 72.8,249.4 72.9,243.1 73.6,236.9 74.6,231.1 75.9,225.5 77.4,220.6 78.9,216.9 80.6,213.8 82.1,212.1 82.9,211.6 83.6,211.5 84.6,212.0 85.6,213.7 86.4,216.1 87.3,220.1 87.9,226.1 88.3,232.4 88.3,238.6 88.1,244.9 87.4,251.4 86.3,257.6 81.5,267.9 79.1,275.4 78.4,277.2Z" fill="#55b283" fill-rule="evenodd"/><path d="M78.6,276.5L78.1,276.6 77.4,276.4 76.4,275.4 75.4,272.1 74.6,268.2 73.8,262.4 73.3,255.9 73.0,249.4 73.0,243.1 73.7,237.1 74.7,231.6 75.9,226.4 77.4,221.4 78.4,218.7 80.4,215.0 81.9,213.2 82.6,212.7 83.4,212.6 84.4,213.0 85.4,214.5 86.1,216.6 87.0,220.1 87.6,225.9 88.1,232.4 88.2,238.6 88.0,244.9 87.1,251.9 86.0,258.1 81.4,267.9 78.6,276.5Z" fill="#58b485" fill-rule="evenodd"/><path d="M78.6,275.8L77.9,275.8 77.4,275.5 76.4,273.7 75.4,270.6 74.6,266.5 73.9,260.9 73.4,254.9 73.2,248.9 73.2,243.1 73.9,237.4 74.8,231.9 76.0,226.9 77.4,222.2 78.6,218.9 80.4,215.8 81.9,214.2 82.6,213.7 83.4,213.7 84.4,214.2 85.4,215.9 86.5,219.6 87.0,222.4 87.6,227.6 87.9,233.4 88.0,239.1 87.8,244.9 86.9,252.5 85.6,258.9 81.4,267.6 78.9,275.6 78.6,275.8Z" fill="#5bb588" fill-rule="evenodd"/><path d="M78.4,274.6L77.9,274.5 77.4,274.1 76.4,272.2 75.4,268.9 74.6,264.8 74.0,259.6 73.5,254.1 73.3,248.4 73.4,243.1 74.0,237.6 74.9,232.4 76.1,227.4 77.4,223.0 78.9,219.1 80.1,217.0 81.6,215.3 82.4,214.8 83.1,214.7 83.7,214.9 84.3,215.4 85.2,216.9 86.2,219.6 86.8,223.1 87.4,228.1 87.7,233.6 87.8,239.4 87.6,244.9 86.7,252.4 85.4,259.4 81.3,267.6 79.1,274.4 78.4,274.6Z" fill="#5eb68b" fill-rule="evenodd"/><path d="M78.9,273.4L78.1,273.4 77.6,273.0 76.7,271.6 75.8,269.1 75.0,265.1 74.2,260.1 73.7,254.6 73.5,249.1 73.5,243.4 74.1,238.0 75.0,232.9 76.1,228.0 77.4,223.8 79.6,218.6 81.4,216.4 82.1,215.8 82.9,215.7 83.6,215.9 84.1,216.3 85.1,217.9 85.9,219.9 86.6,223.6 87.2,228.4 87.5,233.6 87.6,239.1 87.5,244.6 86.5,252.4 85.1,259.6 81.2,267.6 79.6,272.6 79.4,273.1 78.9,273.4Z" fill="#60b88d" fill-rule="evenodd"/><path d="M79.1,272.2L78.4,272.3 77.9,272.0 76.9,270.7 75.9,267.9 75.1,264.5 74.4,259.6 73.9,254.4 73.7,248.9 73.7,243.4 74.3,238.1 75.1,233.2 76.1,228.8 77.4,224.6 78.6,221.4 79.9,218.9 81.4,217.2 82.1,216.7 82.9,216.6 83.6,216.9 84.1,217.3 85.3,219.4 86.5,224.6 87.0,229.1 87.4,234.1 87.5,239.4 87.3,244.6 86.3,252.6 84.8,260.1 81.2,267.6 79.9,271.5 79.1,272.2Z" fill="#63b990" fill-rule="evenodd"/><path d="M79.1,271.2L78.1,271.1 77.6,270.6 77.0,269.6 76.1,267.4 75.2,263.6 74.5,259.1 74.1,254.1 73.8,248.9 73.8,243.4 74.4,238.4 75.2,233.6 76.2,229.4 77.4,225.4 78.6,222.2 80.1,219.3 81.4,218.0 82.6,217.5 83.4,217.7 83.9,218.1 84.9,219.6 85.6,222.0 86.3,225.1 86.9,229.6 87.2,234.4 87.3,239.4 87.2,244.6 86.1,253.1 84.3,260.9 81.1,267.6 80.1,270.4 79.1,271.2Z" fill="#66bb92" fill-rule="evenodd"/><path d="M79.1,270.1L78.1,270.0 77.1,268.7 76.1,266.1 75.4,262.9 74.7,258.4 74.2,253.6 74.0,248.6 74.0,243.4 74.6,238.4 75.4,233.9 76.3,229.6 77.4,226.2 78.6,223.0 80.1,220.2 81.1,219.0 81.9,218.6 82.6,218.4 83.6,218.9 84.5,219.9 85.4,222.4 86.1,225.9 86.7,230.1 87.0,234.9 87.0,244.6 85.8,253.6 83.9,261.6 80.4,269.2 79.1,270.1Z" fill="#69bc95" fill-rule="evenodd"/><path d="M79.1,269.2L78.1,268.9 77.1,267.5 76.2,265.1 75.5,261.9 74.8,257.9 74.4,253.1 74.2,243.4 75.5,234.1 76.4,230.1 77.6,226.3 78.9,223.2 80.1,221.0 81.4,219.6 81.9,219.3 82.6,219.2 83.6,219.8 84.6,221.5 85.4,223.8 86.0,227.1 86.9,235.4 86.8,244.6 85.6,253.5 83.8,261.1 82.9,263.6 80.9,267.7 80.1,268.6 79.1,269.2Z" fill="#6bbe98" fill-rule="evenodd"/><path d="M79.4,268.1L78.4,268.0 77.4,266.9 76.4,264.4 75.6,261.4 75.0,257.4 74.5,252.9 74.3,243.4 75.6,234.5 76.6,230.4 77.6,227.1 78.9,224.0 80.1,221.8 81.4,220.5 82.4,220.2 83.4,220.6 84.4,222.1 85.1,224.3 85.8,227.4 86.3,231.1 86.7,235.4 86.7,244.6 85.6,252.9 83.8,260.1 82.9,262.9 81.6,265.6 80.4,267.4 79.4,268.1Z" fill="#6ebf9a" fill-rule="evenodd"/><path d="M79.4,267.2L78.4,267.0 77.4,265.8 76.6,263.9 75.8,260.9 75.2,256.9 74.7,252.6 74.5,243.4 75.8,234.9 76.6,231.1 77.6,227.8 78.9,224.8 80.1,222.6 81.4,221.4 82.4,221.1 83.4,221.7 84.2,222.9 85.0,225.1 85.7,228.1 86.5,235.9 86.5,244.6 85.4,252.8 83.6,259.9 82.6,262.7 81.4,265.2 80.4,266.6 79.4,267.2Z" fill="#71c19d" fill-rule="evenodd"/><path d="M79.6,266.2L78.6,266.2 77.6,265.1 76.7,263.1 76.0,260.4 75.4,256.8 74.9,252.6 74.7,243.6 75.8,235.4 77.6,228.6 78.6,226.1 79.9,223.8 81.1,222.4 82.1,222.0 83.1,222.4 84.0,223.6 84.8,225.6 85.4,228.4 86.0,231.9 86.3,235.9 86.3,244.4 85.3,252.1 83.6,259.1 82.6,261.9 81.6,264.0 80.6,265.4 79.6,266.2Z" fill="#74c2a0" fill-rule="evenodd"/><path d="M79.9,265.2L78.9,265.3 77.9,264.5 77.0,262.6 76.2,260.1 75.6,256.9 75.1,252.6 74.8,243.6 75.9,235.9 76.8,232.1 77.7,229.1 78.9,226.3 79.9,224.6 81.1,223.3 82.1,222.9 83.1,223.4 83.9,224.5 84.6,226.4 85.3,229.4 86.1,236.4 86.2,244.4 85.1,252.1 83.6,258.3 81.9,262.7 80.9,264.3 79.9,265.2Z" fill="#76c4a2" fill-rule="evenodd"/><path d="M79.6,264.4L78.6,264.3 77.8,263.4 76.9,261.4 76.2,258.9 75.3,251.9 75.0,243.6 76.1,236.0 77.9,229.5 78.9,227.1 80.1,225.0 81.1,224.1 82.1,223.8 83.1,224.4 83.9,225.6 84.6,227.6 85.1,229.9 85.9,236.6 86.0,244.4 85.0,251.9 83.4,258.2 81.6,262.4 80.6,263.8 79.6,264.4Z" fill="#79c5a5" fill-rule="evenodd"/><path d="M79.9,263.5L78.9,263.5 78.1,262.8 77.2,261.1 76.5,258.6 75.9,255.4 75.5,251.9 75.2,243.6 76.3,236.4 77.9,230.3 78.9,227.9 79.9,226.2 80.9,225.1 81.9,224.7 82.9,225.1 83.6,226.2 84.4,228.0 85.0,230.4 85.7,236.9 85.8,244.4 84.9,251.2 83.4,257.4 81.6,261.6 80.6,262.9 79.9,263.5Z" fill="#7cc7a7" fill-rule="evenodd"/><path d="M79.6,262.7L78.6,262.4 77.9,261.4 77.1,259.7 76.6,257.6 75.6,251.3 75.4,243.6 76.4,236.8 78.0,230.9 78.9,228.7 79.9,227.0 80.9,225.9 81.9,225.6 82.9,226.1 83.6,227.1 84.3,228.9 84.8,231.1 85.5,237.1 85.6,244.4 84.6,251.5 83.1,257.3 82.4,259.2 81.4,261.2 80.4,262.3 79.6,262.7Z" fill="#7fc8aa" fill-rule="evenodd"/><path d="M80.1,261.6L79.1,261.7 78.4,261.2 77.6,259.9 76.9,257.6 76.3,254.9 75.8,251.4 75.6,243.6 76.6,236.7 78.1,231.3 79.1,229.0 80.1,227.4 81.1,226.6 81.9,226.5 82.6,226.8 83.4,227.8 84.1,229.6 84.6,231.7 85.4,237.6 85.4,244.4 84.6,250.4 83.4,255.6 81.9,259.5 80.9,261.0 80.1,261.6Z" fill="#82caad" fill-rule="evenodd"/><path d="M79.6,260.9L78.9,260.7 78.1,259.8 77.4,258.1 76.8,256.1 76.0,250.4 75.7,243.6 76.7,237.4 78.1,232.1 78.9,230.3 79.9,228.6 80.9,227.6 81.6,227.3 82.4,227.6 83.1,228.4 83.9,230.1 84.4,232.1 85.1,237.6 85.3,244.4 84.4,250.6 82.9,256.1 81.4,259.5 80.4,260.6 79.6,260.9Z" fill="#84cbaf" fill-rule="evenodd"/><path d="M80.1,259.9L79.6,260.0 79.1,259.9 78.4,259.2 77.6,257.7 77.1,256.1 76.2,250.4 75.9,243.6 76.9,237.6 78.4,232.4 79.9,229.4 80.9,228.4 81.6,228.2 82.4,228.5 83.1,229.5 83.7,230.9 84.3,232.9 85.0,238.1 85.1,244.4 84.3,249.9 83.1,254.6 81.6,258.3 80.9,259.3 80.1,259.9Z" fill="#87ccb2" fill-rule="evenodd"/><path d="M80.4,258.9L79.6,259.1 78.7,258.6 78.1,257.6 77.4,255.7 76.4,250.4 76.1,243.6 77.1,237.6 78.4,233.2 79.9,230.2 80.9,229.3 81.6,229.1 82.4,229.5 83.0,230.4 84.1,233.6 84.7,238.4 84.9,244.1 84.2,249.4 83.1,253.7 81.9,257.0 81.1,258.2 80.4,258.9Z" fill="#8aceb4" fill-rule="evenodd"/><path d="M80.1,258.1L79.4,258.1 78.6,257.5 77.9,256.1 77.4,254.4 76.6,249.6 76.3,243.6 77.1,238.6 78.4,234.1 79.9,231.1 80.6,230.3 81.4,230.0 82.1,230.2 82.8,231.1 83.9,234.1 84.5,238.6 84.7,244.1 83.9,249.4 82.9,253.5 81.6,256.5 80.9,257.6 80.1,258.1Z" fill="#8dcfb7" fill-rule="evenodd"/><path d="M80.1,257.2L79.4,257.2 78.8,256.6 78.1,255.5 77.6,254.0 76.8,249.4 76.6,243.6 77.4,238.6 78.6,234.3 79.9,231.9 80.6,231.2 81.4,230.9 82.1,231.2 82.6,231.8 83.6,234.5 84.3,238.9 84.5,244.1 83.7,249.1 82.6,253.3 81.4,256.1 80.6,256.9 80.1,257.2Z" fill="#8fd1ba" fill-rule="evenodd"/><path d="M80.4,256.2L79.6,256.3 79.1,256.0 78.4,254.9 77.9,253.5 77.1,249.4 76.8,243.9 77.5,239.1 78.6,235.3 79.9,232.8 80.6,232.1 81.4,231.8 82.1,232.3 82.6,232.9 83.5,235.4 84.1,239.4 84.2,244.1 83.6,248.4 82.6,252.3 81.6,254.7 81.1,255.5 80.4,256.2Z" fill="#92d2bc" fill-rule="evenodd"/><path d="M80.4,255.2L79.6,255.3 79.1,255.0 78.6,254.2 78.1,252.9 77.3,249.1 77.0,243.9 77.6,239.9 78.6,236.3 79.9,233.7 80.6,233.0 81.1,232.8 81.9,233.1 82.4,233.7 83.2,235.9 83.8,239.6 84.0,244.1 83.4,248.1 82.6,251.4 81.6,253.8 81.1,254.6 80.4,255.2Z" fill="#95d4bf" fill-rule="evenodd"/><path d="M80.4,254.2L79.6,254.3 79.1,253.8 78.2,251.9 77.5,248.4 77.3,243.9 77.9,240.1 78.9,236.7 79.9,234.7 80.6,234.0 81.1,233.8 81.6,234.0 82.1,234.5 83.1,236.9 83.6,240.1 83.7,244.1 83.2,247.9 82.4,250.9 81.4,253.2 80.4,254.2Z" fill="#98d5c2" fill-rule="evenodd"/><path d="M80.4,253.2L79.9,253.2 79.4,252.9 78.9,252.2 78.4,250.9 77.8,247.9 77.5,243.9 78.1,240.4 79.1,237.1 80.1,235.4 80.6,235.0 81.1,234.9 81.6,235.1 82.1,235.7 82.8,237.6 83.3,240.6 83.5,244.1 82.9,247.8 82.1,250.5 81.4,252.1 80.4,253.2Z" fill="#9ad7c4" fill-rule="evenodd"/><path d="M80.1,252.1L79.3,251.6 78.5,249.9 78.0,247.1 77.8,243.6 78.5,240.1 79.4,237.7 80.1,236.5 80.6,236.1 81.1,236.0 81.9,236.6 82.6,238.5 83.1,241.4 83.2,244.4 82.6,247.4 81.9,249.9 81.1,251.4 80.6,251.9 80.1,252.1Z" fill="#9dd8c7" fill-rule="evenodd"/><path d="M80.1,250.9L79.4,250.3 78.8,248.9 78.4,246.9 78.1,243.9 78.6,241.2 79.4,238.9 80.1,237.7 80.9,237.2 81.6,237.7 82.3,239.1 82.7,241.1 82.9,244.1 82.4,246.9 81.6,249.3 80.9,250.5 80.1,250.9Z" fill="#a0dac9" fill-rule="evenodd"/><path d="M80.6,249.4L79.9,249.4 79.2,248.4 78.7,246.4 78.5,243.9 78.9,241.9 79.6,239.8 80.1,239.0 80.9,238.6 81.4,238.9 82.0,240.1 82.3,241.9 82.5,244.1 81.6,247.8 81.1,248.8 80.6,249.4Z" fill="#a3dbcc" fill-rule="evenodd"/><path d="M80.4,247.9L79.9,247.7 79.4,246.7 78.9,243.9 79.6,241.4 80.1,240.5 80.6,240.1 81.1,240.3 81.6,241.3 82.1,244.1 81.4,246.7 80.9,247.6 80.4,247.9Z" fill="#a5ddcf" fill-rule="evenodd"/><path d="M80.4,245.9L79.9,245.4 79.5,243.9 80.1,242.4 80.6,242.1 81.1,242.6 81.5,244.1 80.9,245.6 80.4,245.9Z" fill="#a8ded1" fill-rule="evenodd"/><g fill="none" stroke-width="1.95" stroke-linejoin="round"><path d="M77.9,283.1L74.9,283.2 74.1,283.4 71.1,283.1 70.1,283.2 66.4,282.6 64.4,281.9 63.5,281.4 63.1,278.9 63.1,273.9 64.2,250.9 66.2,241.4 69.1,229.6 70.4,221.4 71.6,215.4 72.2,211.4 72.6,209.6 74.9,196.1 75.5,191.6 76.4,187.9 77.1,183.4 78.9,174.1 80.5,166.9 81.4,163.4 81.7,161.1 83.6,152.4 86.4,148.3 89.5,145.1 90.7,138.6 92.5,132.9 92.9,132.0 94.1,131.7 108.9,134.3 114.9,136.1 116.9,137.1 118.9,139.6 120.2,143.4 120.1,145.9 119.8,148.4 118.0,154.4 111.1,170.1 108.1,179.6 106.7,187.9 104.9,201.9 102.7,214.9 102.1,220.9 101.6,222.3 99.8,237.6 97.8,243.6 95.2,249.9 91.5,257.1 87.7,263.6 85.0,269.1 82.9,277.6 81.4,282.6 81.1,283.0 77.9,283.1ZM330.1,272.3L329.4,272.1 326.6,270.1 325.9,269.9 325.4,269.4 325.1,269.4 324.6,268.9 324.4,268.9 323.9,268.4 322.9,267.9 322.4,267.9 320.4,266.9 319.9,266.9 317.9,265.8 317.4,265.8 317.1,265.6 316.6,265.6 316.4,265.3 315.9,265.3 315.6,265.1 314.4,264.8 313.6,264.3 313.1,264.3 312.9,264.0 311.6,263.8 311.4,263.5 310.9,263.5 310.6,263.2 310.1,263.2 309.7,262.9 311.4,261.3 313.6,259.8 316.1,258.7 319.1,257.8 320.9,258.0 321.1,258.3 321.9,258.3 322.9,258.7 323.6,258.7 325.6,259.7 326.1,259.7 327.4,260.4 327.9,260.4 329.1,261.2 329.6,261.2 330.3,261.6 330.3,272.1 330.1,272.3Z" stroke="#34433a"/><path d="M77.6,283.2L74.9,283.1 74.1,283.3 71.1,283.1 70.1,283.1 66.4,282.5 63.6,281.4 63.2,278.9 63.2,273.9 63.4,272.9 64.3,250.9 66.2,241.4 69.2,229.6 70.4,221.4 72.7,209.6 75.9,190.1 78.6,176.1 80.6,166.9 81.6,163.4 81.9,161.1 83.2,155.1 83.6,153.5 86.4,149.3 88.4,147.2 91.0,145.4 92.1,138.9 93.8,133.4 94.1,133.2 108.6,135.8 114.4,137.4 115.8,138.1 117.7,140.4 118.7,143.4 118.7,145.9 118.4,148.1 116.6,154.0 109.8,169.6 106.7,179.6 105.3,187.6 104.5,193.6 104.3,198.1 99.7,237.6 97.4,244.4 94.7,250.6 91.4,257.1 87.6,263.6 85.0,269.1 82.9,277.6 81.4,282.5 81.1,282.9 78.4,283.0 77.6,283.2ZM330.1,272.3L329.4,272.1 326.6,270.1 325.9,269.9 325.4,269.4 325.1,269.4 324.6,268.9 324.4,268.9 323.9,268.4 322.9,267.9 322.4,267.9 320.4,266.9 319.9,266.8 319.1,266.3 318.6,266.3 317.9,265.8 316.6,265.6 316.4,265.3 315.9,265.3 315.6,265.1 314.4,264.8 313.6,264.3 313.1,264.3 312.9,264.0 312.4,264.0 312.1,263.8 310.9,263.5 310.6,263.2 310.1,263.2 310.0,262.9 311.9,261.2 314.1,259.8 316.6,258.7 319.6,257.9 320.1,258.1 320.9,258.1 321.1,258.3 321.9,258.3 322.9,258.7 323.6,258.7 325.6,259.7 326.1,259.7 327.4,260.4 327.9,260.4 329.1,261.2 329.6,261.2 330.3,261.6 330.3,272.1 330.1,272.3Z" stroke="#34443b"/><path d="M77.6,283.1L74.9,283.1 74.1,283.3 70.9,283.0 70.1,283.1 66.4,282.4 64.3,281.6 63.7,281.1 63.3,278.9 63.3,273.9 64.4,250.9 66.3,241.4 69.2,229.6 70.5,221.4 72.7,209.6 76.0,190.1 79.1,174.4 80.7,166.9 81.7,163.6 82.0,161.1 83.4,155.1 85.4,151.7 87.6,148.9 89.9,147.1 92.3,146.1 93.4,139.4 94.8,134.9 95.1,134.8 108.1,137.1 113.1,138.5 114.9,139.2 116.4,141.1 117.2,143.6 117.3,145.6 117.0,147.6 115.2,153.6 108.3,169.4 106.1,176.4 105.0,180.6 104.1,186.2 104.1,196.9 99.5,237.6 99.2,238.9 97.3,244.4 94.7,250.6 91.4,257.1 87.6,263.5 85.0,269.1 82.8,277.6 81.4,282.4 81.1,282.8 78.4,282.9 77.6,283.1ZM330.1,272.3L329.4,272.1 326.6,270.1 325.9,269.9 325.4,269.4 325.1,269.4 324.6,268.9 324.4,268.9 323.9,268.4 322.9,267.9 322.4,267.9 320.4,266.8 319.9,266.8 319.1,266.3 318.6,266.3 317.9,265.8 317.4,265.8 317.1,265.6 316.6,265.6 316.4,265.3 315.9,265.3 315.6,265.1 314.4,264.8 313.6,264.3 313.1,264.3 312.9,264.0 312.4,264.0 312.1,263.8 311.6,263.7 311.4,263.5 310.9,263.4 310.6,263.2 310.1,263.1 311.9,261.4 314.1,260.0 316.9,258.8 319.9,258.0 320.9,258.1 321.1,258.3 321.9,258.3 322.9,258.7 323.6,258.7 325.6,259.7 326.1,259.7 327.4,260.4 327.9,260.4 329.1,261.2 329.6,261.2 330.3,261.6 330.3,272.1 330.1,272.3Z" stroke="#34453b"/><path d="M74.1,283.2L70.9,282.9 70.1,283.0 66.6,282.4 64.9,281.8 63.8,281.1 63.4,278.9 63.4,273.9 64.4,250.9 66.4,241.4 69.3,229.6 70.6,221.4 75.1,196.1 76.0,190.1 80.1,169.9 81.9,163.5 82.2,161.1 83.4,156.0 85.1,153.1 86.6,151.1 88.4,149.2 90.1,148.0 91.6,147.4 93.5,147.4 94.8,139.6 95.9,136.5 96.1,136.4 97.4,136.6 107.9,138.5 112.6,139.8 114.1,140.5 115.2,141.9 115.8,143.9 115.8,145.4 115.6,147.6 113.9,153.1 107.0,168.9 104.7,176.1 103.6,180.6 103.9,196.4 99.2,238.6 97.3,244.1 94.6,250.6 90.9,257.9 87.6,263.4 84.9,269.1 82.8,277.4 81.4,282.4 81.1,282.8 80.9,282.8 78.4,282.9 77.6,283.1 74.6,283.0 74.1,283.2ZM330.1,272.3L329.4,272.1 326.6,270.1 325.9,269.8 325.4,269.3 325.1,269.3 324.6,268.9 324.4,268.8 323.9,268.4 322.9,267.8 322.4,267.8 320.4,266.8 319.9,266.8 319.1,266.3 318.6,266.3 317.9,265.8 317.4,265.8 317.1,265.6 316.6,265.6 316.4,265.3 315.9,265.3 315.6,265.1 314.4,264.8 313.6,264.3 313.1,264.3 312.9,264.0 312.4,264.0 312.1,263.7 311.6,263.7 311.4,263.5 310.9,263.4 310.6,263.1 310.3,263.1 312.1,261.4 314.4,260.0 316.9,258.9 319.9,258.1 320.9,258.1 321.1,258.3 322.6,258.5 322.9,258.8 323.6,258.8 325.6,259.7 326.1,259.7 327.4,260.4 327.9,260.5 329.1,261.2 329.6,261.2 330.3,261.6 330.3,272.1 330.1,272.3Z" stroke="#34463c"/><path d="M74.1,283.2L70.9,282.9 70.1,282.9 66.4,282.3 63.9,281.1 63.5,278.9 63.5,274.1 63.9,267.9 64.3,253.9 64.5,250.9 65.9,243.9 69.3,229.6 70.6,221.4 75.2,196.1 75.8,191.9 80.3,169.9 81.9,163.9 82.3,161.1 83.4,157.0 85.6,153.4 88.1,150.4 90.4,148.9 92.4,148.4 93.6,148.7 94.6,149.2 94.8,149.1 96.2,140.1 96.9,138.1 107.6,139.9 113.2,141.6 113.8,142.4 114.4,144.1 114.4,145.4 114.1,147.4 112.6,152.6 105.8,168.1 102.9,177.2 103.4,185.9 103.7,196.1 99.0,238.9 97.2,244.1 94.5,250.6 90.8,257.9 87.6,263.4 84.9,269.1 82.8,277.4 81.3,282.4 80.9,282.8 78.4,282.8 77.6,283.1 74.6,283.0 74.1,283.2ZM330.1,272.3L329.4,272.1 326.6,270.1 325.9,269.8 325.4,269.3 325.1,269.3 324.6,268.8 324.4,268.8 323.9,268.3 322.9,267.8 322.4,267.8 320.4,266.8 319.9,266.8 317.9,265.8 317.4,265.8 317.1,265.6 316.6,265.6 316.4,265.3 315.9,265.3 315.6,265.1 314.4,264.8 313.6,264.3 312.4,264.0 312.1,263.7 311.6,263.7 310.6,263.1 312.5,261.4 314.9,259.9 317.6,258.8 320.6,258.1 321.1,258.3 321.9,258.3 322.9,258.8 323.6,258.8 325.6,259.7 326.1,259.7 327.4,260.5 327.9,260.5 329.1,261.2 329.6,261.2 330.3,261.6 330.3,272.1 330.1,272.3Z" stroke="#34473c"/><path d="M77.9,282.9L74.6,282.9 74.1,283.1 70.9,282.8 70.1,282.9 66.4,282.2 64.4,281.3 63.9,280.9 63.6,278.9 63.6,273.9 64.6,250.9 66.5,241.4 69.4,229.6 70.6,221.6 75.2,196.1 75.8,191.9 77.8,181.6 80.4,169.9 82.1,163.6 82.4,161.1 83.1,158.5 84.9,155.5 86.6,153.0 88.4,151.2 90.1,150.0 91.6,149.5 93.1,149.6 94.4,150.3 95.9,152.0 96.0,151.9 96.4,147.4 97.9,139.6 107.4,141.3 112.1,142.7 112.6,143.1 113.0,144.4 112.8,146.9 111.2,152.1 104.5,167.4 102.1,174.7 103.1,183.4 103.5,195.9 98.9,238.9 97.1,244.1 94.5,250.4 91.3,256.9 87.6,263.4 84.8,269.1 82.8,277.4 81.3,282.4 80.9,282.7 77.9,282.9ZM330.1,272.3L329.4,272.1 326.6,270.1 325.9,269.8 325.4,269.3 325.1,269.3 324.6,268.8 324.4,268.8 323.9,268.3 322.9,267.8 322.4,267.8 320.4,266.8 319.9,266.8 317.9,265.8 317.4,265.8 317.1,265.6 316.6,265.6 316.4,265.3 315.9,265.3 315.6,265.1 314.4,264.8 313.6,264.3 313.1,264.3 312.9,264.0 312.4,264.0 312.1,263.7 310.9,263.4 310.8,263.1 312.8,261.4 315.1,260.0 317.9,258.9 320.9,258.2 321.9,258.3 322.9,258.8 323.6,258.8 325.6,259.7 326.1,259.7 327.4,260.5 327.9,260.5 329.1,261.2 329.6,261.2 330.3,261.6 330.3,272.1 330.1,272.3Z" stroke="#34473c"/><path d="M77.6,283.0L74.9,282.9 74.1,283.0 70.1,282.8 66.4,282.1 64.0,280.9 63.7,278.9 63.6,274.1 64.7,250.9 66.6,241.4 69.4,229.6 70.7,221.6 75.3,196.1 75.9,191.9 77.6,183.4 79.9,172.4 81.2,167.1 82.2,163.9 82.6,161.1 83.1,159.2 85.4,155.7 87.1,153.4 89.1,151.6 90.9,150.7 92.6,150.6 94.1,151.3 95.5,152.9 96.9,155.7 97.0,155.6 97.8,147.6 98.9,141.6 99.1,141.3 99.4,141.3 106.9,142.7 109.6,143.5 111.1,143.9 111.4,144.1 111.6,144.9 111.3,146.9 109.9,151.6 103.2,166.9 101.4,172.4 102.2,177.4 102.7,181.9 103.3,195.6 98.6,239.1 97.0,244.1 94.5,250.4 91.2,256.9 87.5,263.4 84.8,269.1 82.7,277.4 81.2,282.4 80.9,282.7 78.4,282.7 77.6,283.0ZM330.1,272.3L329.4,272.1 326.6,270.1 325.9,269.8 325.4,269.3 325.1,269.3 324.6,268.8 324.4,268.8 323.9,268.3 322.9,267.8 322.4,267.8 320.4,266.8 319.9,266.8 319.1,266.3 318.6,266.3 317.9,265.8 317.4,265.8 317.1,265.6 316.6,265.6 316.4,265.3 315.9,265.3 315.6,265.1 314.4,264.8 313.6,264.3 313.1,264.3 312.9,264.0 312.4,264.0 312.1,263.7 311.6,263.7 311.4,263.4 310.9,263.3 312.7,261.6 315.1,260.1 317.9,259.1 320.9,258.3 321.9,258.4 322.9,258.8 323.6,258.8 325.6,259.7 326.1,259.7 327.4,260.5 327.9,260.5 329.1,261.2 329.6,261.2 330.3,261.6 330.3,272.1 330.1,272.3Z" stroke="#34483d"/><path d="M77.6,282.9L74.9,282.8 73.9,283.0 70.9,282.7 70.1,282.8 66.4,282.0 64.1,280.9 63.8,279.1 63.7,274.6 64.7,250.9 66.7,241.4 69.5,229.6 70.7,221.6 75.4,196.1 75.9,191.9 78.0,181.6 80.6,169.9 82.3,163.9 82.7,161.1 83.1,159.9 86.1,155.6 88.1,153.4 89.9,152.1 91.6,151.6 92.6,151.7 93.4,152.0 94.7,153.1 95.9,155.1 96.9,157.6 98.0,161.6 99.1,148.6 100.1,143.0 106.6,144.1 110.1,145.1 109.9,146.6 108.5,151.1 101.9,166.1 100.5,170.4 101.6,175.1 102.3,180.4 102.7,186.1 103.0,195.6 98.4,239.6 96.9,244.1 94.4,250.4 91.2,256.9 87.5,263.4 84.8,269.1 82.7,277.4 81.2,282.4 80.9,282.6 78.4,282.7 77.6,282.9ZM330.1,272.3L329.4,272.1 326.6,270.1 325.9,269.8 325.4,269.3 325.1,269.3 324.6,268.8 324.4,268.8 323.9,268.3 322.9,267.8 322.4,267.8 320.4,266.8 319.9,266.8 319.1,266.3 318.6,266.3 317.9,265.8 317.4,265.8 317.1,265.6 316.6,265.6 316.4,265.3 315.9,265.3 315.6,265.0 314.4,264.8 313.6,264.3 313.1,264.2 312.9,264.0 312.4,264.0 312.1,263.7 311.6,263.7 311.4,263.4 311.1,263.4 312.9,261.6 315.4,260.2 318.4,259.0 321.5,258.4 322.6,258.6 322.9,258.8 323.6,258.8 325.6,259.7 326.1,259.7 327.4,260.5 327.9,260.5 329.1,261.2 329.6,261.2 330.3,261.6 330.3,272.1 330.1,272.3Z" stroke="#34493d"/><path d="M77.6,282.9L74.9,282.8 73.9,282.9 70.9,282.6 70.1,282.7 66.4,281.9 64.2,280.9 63.9,279.1 63.8,274.6 64.8,250.9 66.7,241.4 69.5,229.6 70.8,221.6 75.4,196.1 76.0,191.9 78.1,181.6 80.7,169.9 82.5,163.9 82.9,161.2 86.4,156.2 88.4,154.1 90.4,152.9 92.1,152.7 93.1,153.1 93.9,153.6 95.1,155.1 96.3,157.6 98.0,163.4 98.1,166.1 98.9,167.4 100.3,150.9 101.2,144.9 101.4,144.6 106.4,145.5 108.5,146.1 108.3,147.1 107.2,150.6 100.6,165.6 99.5,168.6 101.0,173.6 101.9,179.1 102.5,185.4 102.8,195.4 98.2,240.1 96.9,244.0 94.3,250.4 91.1,256.9 87.4,263.4 84.7,269.1 82.7,277.4 81.1,282.4 80.9,282.6 78.4,282.7 77.6,282.9ZM330.1,272.3L329.4,272.1 326.6,270.1 325.9,269.8 325.4,269.3 325.1,269.3 324.6,268.8 324.4,268.8 323.9,268.3 322.9,267.8 322.4,267.8 320.4,266.8 319.9,266.8 317.9,265.8 317.4,265.8 317.1,265.6 316.6,265.6 316.4,265.3 315.9,265.3 315.6,265.0 314.4,264.8 313.6,264.3 313.1,264.2 312.9,264.0 312.4,264.0 312.1,263.7 311.6,263.7 311.3,263.4 313.2,261.6 315.6,260.2 318.6,259.1 321.9,258.4 322.6,258.6 322.9,258.8 323.6,258.8 325.6,259.8 326.1,259.8 327.4,260.5 327.9,260.5 329.1,261.2 329.6,261.2 330.3,261.6 330.3,272.1 330.1,272.3Z" stroke="#344a3e"/><path d="M101.1,160.9L101.0,160.1 101.7,151.1 102.4,146.4 102.6,146.3 106.6,147.1 106.7,147.4 105.8,150.1 101.1,160.9ZM74.1,282.9L69.1,282.4 66.4,281.8 64.2,280.6 64.0,279.1 63.9,274.1 64.9,250.9 66.8,241.4 69.6,229.6 70.9,221.6 73.1,209.6 76.4,190.1 79.7,174.4 81.5,167.1 82.7,163.6 82.9,162.1 83.9,160.3 87.9,155.5 89.9,154.1 90.9,153.8 91.9,153.8 93.1,154.3 94.1,155.1 95.1,156.6 96.1,158.9 97.5,163.4 97.7,166.1 99.4,169.4 100.7,173.4 101.5,178.1 102.1,183.9 102.6,196.1 98.1,240.1 96.8,243.9 94.2,250.4 91.1,256.9 87.4,263.4 84.7,269.1 82.6,277.4 81.1,282.4 80.9,282.6 78.4,282.6 77.6,282.8 74.9,282.7 74.1,282.9ZM330.1,272.3L329.4,272.1 326.6,270.1 325.9,269.8 325.4,269.3 325.1,269.3 324.6,268.8 324.4,268.8 323.9,268.3 322.9,267.8 322.4,267.8 320.4,266.8 319.9,266.8 317.9,265.8 317.4,265.8 317.1,265.6 316.6,265.6 316.4,265.3 315.9,265.3 315.6,265.0 314.4,264.8 313.6,264.2 313.1,264.2 312.9,264.0 311.6,263.6 311.5,263.4 313.4,261.7 315.9,260.2 318.6,259.2 321.9,258.6 323.6,258.8 325.6,259.8 326.1,259.8 327.4,260.5 327.9,260.5 329.1,261.2 329.6,261.2 330.3,261.6 330.3,272.1 330.1,272.3Z" stroke="#344b3e"/><path d="M103.1,152.7L103.5,148.1 103.6,147.9 104.8,148.1 104.5,149.6 103.1,152.7ZM77.9,282.7L73.9,282.8 70.1,282.6 66.4,281.7 64.3,280.6 64.1,279.1 63.9,274.1 65.0,250.9 66.8,241.4 69.6,229.8 70.9,221.6 73.2,209.6 76.5,190.1 79.3,176.4 81.6,167.1 83.2,162.4 84.4,160.4 87.1,157.2 88.6,155.9 90.1,155.0 91.6,154.8 93.1,155.5 94.4,156.8 95.3,158.6 96.9,162.6 97.2,164.1 97.2,165.9 99.1,169.5 100.5,173.9 101.3,178.4 101.9,183.9 102.4,196.1 97.9,240.1 96.8,243.9 94.2,250.4 91.0,256.9 87.4,263.4 84.7,269.1 82.6,277.4 81.0,282.4 80.6,282.5 77.9,282.7ZM330.1,272.3L329.4,272.1 326.6,270.1 325.9,269.8 325.4,269.3 325.1,269.3 324.6,268.8 324.4,268.8 323.9,268.3 322.9,267.8 322.4,267.8 320.4,266.8 319.9,266.8 317.9,265.8 317.4,265.8 317.1,265.6 316.6,265.6 316.4,265.3 315.9,265.3 315.6,265.0 314.4,264.8 313.6,264.2 313.1,264.2 312.9,264.0 311.6,263.6 311.6,263.5 313.6,261.7 316.1,260.3 318.9,259.3 322.1,258.7 323.6,258.8 325.6,259.8 326.1,259.8 327.4,260.5 327.9,260.5 329.1,261.2 329.6,261.2 330.3,261.6 330.3,272.1 330.1,272.3Z" stroke="#344c3e"/><path d="M77.6,282.7L74.6,282.7 73.9,282.8 70.1,282.5 66.4,281.6 64.4,280.6 64.1,279.1 64.0,274.1 65.0,250.9 66.9,241.4 69.7,229.9 70.9,221.6 73.2,209.6 76.5,190.1 79.4,176.4 81.8,167.1 82.6,164.6 83.2,164.1 83.8,162.1 84.8,160.6 88.6,156.8 90.1,156.0 91.4,155.9 92.6,156.3 93.9,157.5 94.7,158.9 96.4,162.6 96.8,164.1 96.8,165.9 98.8,169.4 100.2,173.9 101.1,178.6 101.7,184.1 102.2,196.1 97.8,240.4 96.7,243.9 94.1,250.3 91.0,256.9 87.3,263.4 84.6,269.1 82.6,277.4 81.0,282.4 77.6,282.7ZM330.1,272.3L329.4,272.1 326.6,270.1 325.9,269.8 325.4,269.3 325.1,269.3 324.6,268.8 324.4,268.8 323.9,268.3 322.9,267.8 322.4,267.8 320.4,266.8 319.9,266.8 319.1,266.3 318.6,266.3 317.9,265.8 317.4,265.8 317.1,265.6 316.6,265.5 316.4,265.3 315.1,265.0 313.6,264.2 313.1,264.2 312.9,263.9 311.7,263.6 313.6,261.9 315.9,260.5 318.6,259.5 321.9,258.8 323.6,258.9 325.6,259.8 326.1,259.8 327.4,260.5 327.9,260.5 329.1,261.2 329.6,261.2 330.2,261.6 330.3,272.1 330.1,272.3Z" stroke="#344d3f"/><path d="M77.6,282.7L74.6,282.6 73.9,282.8 69.9,282.4 66.4,281.5 64.6,280.7 64.4,280.4 64.2,279.1 64.1,274.1 65.1,250.9 67.0,241.4 69.7,229.9 71.0,221.6 73.3,209.6 76.6,190.1 79.5,176.4 81.9,167.1 82.6,165.0 83.7,164.1 84.2,162.4 85.4,160.7 88.9,157.6 90.1,157.1 91.1,157.0 91.9,157.1 92.7,157.6 94.1,159.3 96.0,162.9 96.3,164.4 96.3,165.9 97.8,168.1 99.0,170.6 99.9,173.4 100.5,176.4 101.5,184.1 102.0,196.1 97.6,240.9 96.6,243.9 94.1,250.2 90.9,256.9 87.3,263.4 84.7,268.9 82.5,277.4 80.9,282.4 77.6,282.7ZM330.1,272.3L329.4,272.1 326.6,270.1 325.9,269.8 325.4,269.3 325.1,269.3 324.6,268.8 324.4,268.8 323.9,268.3 322.9,267.8 322.4,267.8 320.4,266.8 319.9,266.8 319.1,266.3 318.6,266.3 317.9,265.8 317.4,265.8 317.1,265.5 316.6,265.5 316.4,265.3 315.9,265.3 315.6,265.0 314.4,264.7 313.6,264.2 313.1,264.2 312.9,263.9 312.4,263.9 311.9,263.6 313.8,261.9 316.1,260.5 318.9,259.5 321.9,258.9 323.6,258.9 325.6,259.8 326.1,259.8 327.4,260.5 327.9,260.5 329.1,261.2 329.6,261.2 330.2,261.6 330.3,271.9 330.1,272.3Z" stroke="#344e3f"/><path d="M77.6,282.6L74.6,282.6 73.9,282.7 69.9,282.3 66.4,281.4 64.5,280.4 64.3,279.1 64.2,274.1 65.2,250.9 67.0,241.4 69.7,229.9 71.0,221.6 75.7,196.1 76.3,191.9 79.6,176.4 81.1,170.1 82.6,165.4 84.2,164.1 84.6,162.6 85.4,161.4 86.4,160.4 88.9,158.6 90.1,158.1 91.1,158.1 92.1,158.4 92.9,159.0 95.1,162.1 95.8,163.9 95.9,165.9 97.5,168.1 98.8,170.9 99.7,173.6 100.4,176.9 101.3,184.6 101.8,196.1 97.4,241.4 94.1,250.1 90.9,256.8 87.3,263.4 84.7,268.9 82.5,277.4 80.9,282.3 77.6,282.6ZM330.1,272.3L329.4,272.1 326.6,270.1 325.9,269.8 325.4,269.3 325.1,269.3 324.6,268.8 324.4,268.8 323.9,268.3 322.9,267.8 322.4,267.8 320.4,266.8 319.9,266.8 317.9,265.8 317.4,265.8 317.1,265.5 316.6,265.5 316.4,265.3 315.9,265.3 315.6,265.0 314.4,264.7 313.6,264.2 313.1,264.2 312.1,263.6 313.9,262.0 316.1,260.7 318.9,259.7 321.9,259.0 323.6,258.9 325.6,259.8 326.1,259.8 327.4,260.5 327.9,260.5 329.1,261.2 329.6,261.3 330.2,261.6 330.3,271.6 330.1,272.3Z" stroke="#344f40"/><path d="M77.4,282.6L74.6,282.5 73.9,282.7 69.9,282.3 66.4,281.4 64.6,280.4 64.4,279.1 64.2,274.1 65.2,250.9 67.1,241.4 69.8,229.9 71.1,221.6 73.9,206.6 76.4,191.9 79.7,176.4 81.2,170.1 82.6,165.8 84.6,164.4 85.2,162.6 86.1,161.4 87.1,160.5 89.1,159.5 90.1,159.1 90.9,159.1 91.6,159.3 92.4,159.8 94.5,162.1 95.2,163.9 95.3,165.6 97.1,168.1 98.5,170.9 99.4,173.6 100.1,176.9 101.1,184.9 101.6,196.1 97.3,241.4 94.0,250.1 90.9,256.7 87.3,263.1 84.6,268.9 82.5,277.4 80.9,282.2 80.6,282.4 78.1,282.4 77.4,282.6ZM330.1,272.3L329.4,272.1 326.6,270.1 325.9,269.8 325.4,269.3 325.1,269.3 324.6,268.8 324.4,268.8 323.9,268.3 322.9,267.8 322.4,267.8 320.4,266.8 319.9,266.8 317.9,265.8 317.4,265.8 317.1,265.5 316.6,265.5 316.4,265.3 315.9,265.3 315.6,265.0 314.4,264.7 313.6,264.2 312.4,263.9 312.3,263.6 314.1,262.0 316.4,260.7 318.9,259.8 321.9,259.1 323.6,259.0 324.4,259.3 324.9,259.3 325.6,259.8 326.1,259.8 327.4,260.5 327.9,260.5 329.1,261.3 329.6,261.3 330.2,261.6 330.3,271.4 330.3,272.1 330.1,272.3Z" stroke="#344f40"/><path d="M78.6,282.4L77.4,282.6 74.6,282.5 73.9,282.6 69.9,282.2 66.4,281.3 64.7,280.4 64.4,279.1 64.3,274.1 65.3,250.9 67.2,240.9 69.8,229.9 71.1,221.6 74.2,205.1 76.4,191.9 78.9,180.1 81.3,170.1 82.6,166.2 85.2,164.4 85.7,162.9 86.6,161.6 88.4,160.5 90.6,160.2 92.5,160.9 93.9,162.2 94.7,163.9 94.8,165.6 96.6,167.8 98.1,170.7 99.1,173.6 99.9,176.9 100.9,184.9 101.5,196.1 97.1,241.6 94.0,250.1 90.9,256.7 87.3,263.1 84.6,268.9 82.4,277.4 80.8,282.1 80.6,282.3 78.6,282.4ZM330.1,272.3L329.4,272.0 326.6,270.1 325.9,269.8 325.4,269.3 325.1,269.3 324.6,268.8 324.4,268.8 323.9,268.3 322.9,267.8 322.4,267.8 320.4,266.8 319.9,266.8 317.9,265.8 317.4,265.8 317.1,265.5 316.6,265.5 316.4,265.3 315.9,265.3 315.6,265.0 314.4,264.7 313.6,264.2 312.4,263.9 312.4,263.7 314.1,262.1 316.4,260.8 319.1,259.8 321.9,259.2 324.1,259.1 325.6,259.8 326.1,259.8 327.4,260.5 327.9,260.5 329.1,261.3 329.6,261.3 330.2,261.6 330.3,271.4 330.3,272.1 330.1,272.3Z" stroke="#345040"/><path d="M77.9,282.4L73.9,282.6 69.9,282.2 66.1,281.1 64.8,280.4 64.7,280.1 64.4,274.1 65.4,250.9 67.3,240.9 69.9,229.9 71.2,221.6 74.3,205.1 76.5,191.9 79.0,180.1 81.4,170.1 82.3,167.1 82.6,166.6 84.1,165.4 85.8,164.4 86.2,163.1 86.9,162.1 88.4,161.1 89.4,160.8 90.4,160.8 92.1,161.4 93.4,162.5 94.1,163.9 94.3,165.6 96.3,167.9 97.9,170.8 98.9,173.6 99.7,176.9 100.8,184.9 101.3,196.1 97.0,241.6 96.4,243.6 93.9,250.1 90.8,256.6 87.3,263.1 84.6,268.9 82.4,277.4 80.8,282.1 80.6,282.3 77.9,282.4ZM330.1,272.3L329.4,272.0 326.6,270.1 325.9,269.8 325.4,269.3 325.1,269.3 324.6,268.8 324.4,268.8 323.9,268.3 322.9,267.8 322.4,267.8 320.4,266.8 319.9,266.8 319.1,266.3 318.6,266.3 317.9,265.8 317.4,265.8 317.1,265.5 315.9,265.3 315.6,265.0 314.4,264.7 313.6,264.2 312.4,263.9 314.1,262.3 316.4,260.9 318.9,260.0 321.6,259.4 324.1,259.1 325.6,259.8 326.1,259.8 327.4,260.5 327.9,260.5 329.1,261.3 329.6,261.3 330.2,261.6 330.3,271.1 330.3,272.1 330.1,272.3Z" stroke="#345141"/><path d="M77.6,282.5L73.9,282.5 69.9,282.1 66.1,281.0 64.7,280.1 64.4,274.1 65.4,250.9 67.3,240.9 69.9,229.9 71.2,221.6 74.3,205.1 76.5,191.9 79.0,180.1 81.5,170.1 82.4,167.3 82.6,167.0 84.4,165.6 86.4,164.5 87.0,163.1 88.0,162.1 89.1,161.6 90.4,161.5 91.6,161.9 92.8,162.9 93.4,164.1 93.5,165.4 95.9,167.9 97.7,171.1 98.7,173.9 99.5,177.1 100.2,181.1 100.6,185.4 101.1,196.1 96.8,242.1 94.5,248.4 92.6,252.9 90.8,256.6 87.2,263.1 84.5,268.9 82.4,277.4 80.8,282.1 77.6,282.5ZM330.1,272.3L329.4,272.0 326.6,270.1 325.9,269.8 325.4,269.3 325.1,269.3 324.6,268.8 324.4,268.8 323.9,268.3 322.9,267.8 322.4,267.8 320.4,266.8 319.9,266.8 319.1,266.3 318.6,266.3 317.9,265.8 317.4,265.8 317.1,265.5 316.6,265.5 316.4,265.3 315.1,265.0 314.9,264.7 314.4,264.7 313.6,264.2 313.1,264.2 312.6,263.9 314.2,262.4 316.4,261.1 318.9,260.1 321.6,259.5 324.1,259.2 324.9,259.4 327.4,260.5 327.9,260.5 329.1,261.3 329.6,261.3 330.2,261.6 330.3,270.9 330.3,272.1 330.1,272.3Z" stroke="#345241"/><path d="M77.6,282.4L73.9,282.5 69.9,282.1 66.1,280.9 64.8,280.1 64.5,274.1 65.5,250.9 67.2,241.6 70.0,229.9 71.3,221.6 74.4,205.1 76.6,191.9 79.1,180.1 81.6,170.1 82.4,167.6 83.1,166.9 85.1,165.5 87.3,164.6 87.8,163.4 88.6,162.7 89.4,162.4 90.4,162.3 91.4,162.7 92.1,163.3 92.6,164.3 92.7,165.4 94.1,166.4 95.4,167.6 96.6,169.4 97.6,171.4 98.5,174.1 99.3,177.4 100.0,181.4 100.4,185.9 101.0,196.1 96.7,242.1 94.5,248.4 92.5,252.9 90.7,256.6 87.2,263.1 84.5,268.9 82.3,277.4 80.7,282.1 77.6,282.4ZM330.1,272.3L329.4,272.0 326.6,270.1 325.9,269.8 325.4,269.3 325.1,269.3 324.6,268.8 324.4,268.8 323.9,268.3 322.9,267.8 322.4,267.8 320.4,266.8 319.9,266.8 317.9,265.8 317.4,265.8 317.1,265.5 316.6,265.5 316.4,265.3 315.9,265.3 315.6,265.0 314.4,264.7 313.6,264.2 313.1,264.2 312.8,263.9 314.4,262.4 316.4,261.2 318.9,260.2 321.6,259.6 324.9,259.4 327.4,260.5 327.9,260.5 329.1,261.3 329.6,261.3 330.2,261.6 330.3,270.6 330.3,272.1 330.1,272.3Z" stroke="#345342"/></g></g>
<g clip-path="url(#clipR)"><g fill="none" stroke-width="1.95" stroke-linejoin="round"><path d="M690.1,290.3L612.1,290.3 611.7,289.4 611.7,288.4 611.4,288.1 611.4,287.1 611.2,286.9 611.2,285.9 610.9,285.6 610.9,284.6 610.7,284.4 610.7,283.4 610.4,283.1 610.4,282.1 610.2,281.9 610.1,280.9 609.9,280.6 609.9,279.6 609.7,279.4 609.6,278.4 609.4,278.1 609.4,277.1 609.1,276.9 609.1,275.9 608.9,275.6 608.9,274.6 608.6,274.4 608.6,273.4 608.4,273.1 608.4,272.1 608.1,271.9 608.1,270.9 607.9,270.6 607.9,270.1 607.1,270.1 606.9,269.8 605.9,269.8 605.6,269.6 604.9,269.6 604.6,269.3 603.6,269.3 603.4,269.1 602.6,269.1 602.4,268.8 601.4,268.8 601.1,268.6 600.4,268.6 600.1,268.3 599.1,268.3 598.9,268.1 598.1,268.1 597.9,267.8 597.1,267.8 596.9,267.6 596.1,267.6 595.9,267.3 595.1,267.3 594.9,267.1 593.9,267.1 593.6,266.8 592.9,266.8 592.6,266.6 591.9,266.6 591.6,266.3 589.9,266.1 589.6,265.8 588.9,265.8 588.6,265.6 587.6,265.6 587.4,265.3 586.6,265.3 586.4,265.1 585.6,265.1 585.4,264.8 584.6,264.8 584.4,264.6 582.6,264.3 582.4,264.1 581.6,264.1 581.4,263.8 580.6,263.8 580.4,263.6 579.6,263.6 579.4,263.3 578.4,263.3 578.1,263.1 577.4,263.1 577.1,262.8 576.4,262.8 576.1,262.6 575.4,262.6 575.1,262.3 573.4,262.1 572.4,261.6 571.6,261.6 570.6,261.1 570.1,261.1 569.9,260.8 569.1,260.8 568.1,260.3 567.4,260.3 566.4,259.8 565.9,259.8 565.6,259.6 564.9,259.6 563.9,259.1 563.4,259.1 562.6,258.6 562.1,258.6 560.1,257.6 558.9,257.3 558.1,256.8 557.6,256.8 556.9,256.3 556.4,256.3 554.9,255.6 551.9,255.6 551.6,255.3 548.6,255.3 548.4,255.1 545.1,255.1 544.9,254.8 541.9,254.8 541.6,254.6 540.4,254.6 540.1,254.3 538.9,254.3 538.6,254.1 537.4,254.1 537.1,253.8 535.6,253.8 535.4,253.6 532.6,253.3 532.4,253.1 528.9,253.1 528.6,252.8 524.1,252.8 523.9,253.1 521.4,253.3 518.6,255.3 518.4,255.3 517.8,255.9 517.8,256.1 516.8,257.4 516.6,258.1 516.1,258.6 516.1,258.9 515.1,260.1 515.1,260.4 514.6,260.9 514.3,261.6 513.4,262.8 509.9,264.6 509.4,264.6 505.6,266.6 502.4,266.6 502.1,266.8 498.6,266.8 498.4,267.1 495.1,267.1 494.9,267.3 494.6,267.1 493.9,267.1 493.6,266.8 491.9,266.6 491.6,266.3 490.9,266.3 490.6,266.1 489.6,266.1 489.4,265.8 488.6,265.8 488.4,265.6 486.6,265.3 486.4,265.1 485.6,265.1 484.6,264.3 483.9,264.1 483.4,263.6 482.6,263.3 482.1,262.8 481.4,262.6 480.9,262.1 480.1,261.8 479.6,261.3 478.9,261.0 478.4,260.5 477.6,260.3 477.1,259.8 476.4,259.5 475.9,259.0 474.4,258.3 473.9,257.8 473.1,257.5 471.9,256.5 470.4,255.7 466.9,258.3 466.6,258.3 465.9,259.0 464.9,259.5 464.1,260.3 463.1,260.8 462.4,261.5 462.1,261.5 461.1,262.5 460.9,262.5 459.9,263.5 459.6,263.5 458.6,264.5 458.4,264.6 455.1,267.3 453.6,268.1 453.1,268.6 451.9,269.1 451.4,269.6 450.6,269.8 448.9,271.1 448.6,271.1 448.1,272.1 447.6,272.6 447.1,273.9 446.6,274.4 446.4,275.1 445.9,275.6 445.6,276.4 445.1,276.9 444.8,277.6 444.4,278.1 443.8,279.4 442.6,281.1 442.3,281.9 441.8,282.4 441.3,283.6 440.1,285.3 405.1,285.3 404.9,285.1 404.9,281.1 405.0,106.6 405.1,106.5 407.1,106.5 407.4,106.2 409.1,106.2 409.4,106.0 411.4,106.0 411.6,105.7 413.4,105.7 413.6,105.5 415.6,105.5 415.9,105.2 417.6,105.2 417.9,105.0 419.9,104.9 427.4,97.4 428.4,96.9 432.6,93.9 432.9,93.9 438.4,88.1 438.7,87.4 439.2,86.9 440.2,84.9 440.2,84.1 440.5,83.9 440.7,82.1 441.0,81.9 441.0,81.1 441.2,80.9 441.2,80.1 441.5,79.9 441.5,79.1 441.7,78.9 441.7,78.1 442.0,77.9 442.0,76.6 442.2,76.4 442.2,75.4 442.5,75.1 442.5,73.9 442.7,73.6 442.7,72.9 443.7,71.1 443.7,70.6 444.5,69.1 445.4,68.5 445.6,68.5 446.1,68.0 446.4,68.0 446.9,67.5 447.1,67.5 447.6,67.0 447.9,67.0 448.4,66.5 449.6,66.5 449.9,66.2 451.4,66.2 451.6,66.0 454.4,65.7 454.6,65.5 458.1,65.5 458.4,65.2 461.9,65.2 462.1,65.0 462.4,65.2 465.6,65.2 465.9,65.5 478.9,65.5 479.4,65.2 481.4,65.2 481.6,65.0 483.9,65.0 484.6,64.5 485.1,64.5 485.9,64.0 486.4,64.0 487.1,63.5 487.6,63.5 488.4,63.0 488.9,63.0 489.4,62.7 495.6,58.3 501.1,55.5 502.4,55.5 502.6,55.3 503.6,55.3 503.9,55.0 505.1,55.0 505.4,54.8 506.4,54.8 506.6,54.5 508.1,55.3 508.6,55.3 509.6,55.8 510.1,55.8 510.9,56.3 512.1,56.5 514.1,58.2 514.4,58.3 515.6,59.5 515.9,59.5 516.9,60.5 517.1,60.5 519.5,63.1 519.5,63.4 520.5,64.4 520.5,64.6 521.8,65.9 521.8,66.1 527.1,71.5 532.1,74.0 533.6,74.0 533.9,73.7 534.9,73.7 535.1,73.5 536.4,73.5 536.6,73.3 537.8,73.1 538.0,72.6 538.0,72.1 538.3,71.9 538.3,71.4 538.5,71.1 538.5,70.6 538.8,70.4 538.8,69.6 539.3,68.6 539.3,68.1 539.5,67.9 539.5,66.9 539.8,66.6 539.8,65.4 540.0,65.1 540.1,63.6 540.3,63.4 540.3,62.1 540.6,61.9 540.6,61.1 541.1,60.1 542.1,58.9 542.3,58.1 542.8,57.6 543.1,56.9 543.6,56.3 543.9,56.3 547.1,53.6 552.4,53.6 552.6,53.3 553.6,54.1 555.1,54.8 555.6,55.3 556.4,55.6 556.9,56.1 557.1,56.1 557.4,56.6 557.4,57.1 557.9,57.9 557.9,58.4 558.2,58.6 558.4,59.9 559.2,61.4 559.2,62.4 559.4,62.6 559.4,64.1 559.7,64.4 559.7,66.1 559.9,66.4 560.0,67.9 560.2,68.1 560.2,70.6 560.5,70.9 560.5,74.1 560.7,74.4 560.7,76.4 561.5,77.9 561.7,79.1 562.2,79.9 562.2,80.4 565.8,87.4 571.4,90.3 572.1,90.3 573.1,90.8 573.9,90.8 574.9,91.3 576.6,91.5 576.9,91.8 577.4,91.8 577.6,92.0 578.4,92.0 578.6,92.3 582.9,92.3 583.1,92.5 587.6,92.5 587.9,92.8 588.6,92.8 588.9,93.0 589.6,93.0 589.9,93.3 591.6,93.5 591.9,93.8 592.9,93.8 593.1,94.0 593.9,94.0 594.1,94.3 595.9,94.5 600.0,99.6 600.0,99.9 601.0,101.1 601.0,101.4 601.5,101.9 601.5,102.1 602.2,102.9 602.2,103.1 603.2,104.4 603.2,104.6 604.0,105.4 604.0,105.6 605.2,106.9 605.2,107.1 606.2,108.1 606.2,108.4 607.5,109.6 607.5,109.9 612.7,115.9 613.0,116.4 613.0,116.9 613.2,117.1 613.2,117.6 613.5,117.9 613.5,118.6 614.0,119.6 614.0,120.1 614.5,121.1 614.5,121.6 614.2,121.9 614.2,122.4 614.0,122.6 614.0,123.1 613.5,124.1 613.5,124.9 613.2,125.1 613.2,125.6 612.7,126.6 612.7,127.6 613.0,127.9 613.0,129.1 613.2,129.4 613.2,130.6 613.5,130.9 613.5,131.6 615.2,133.6 615.2,133.9 616.5,135.1 616.5,135.4 618.0,136.9 618.0,137.1 620.2,139.6 620.7,140.6 620.7,141.1 621.2,141.9 621.2,142.4 621.7,143.1 621.7,143.6 622.0,143.9 622.0,144.6 622.2,144.9 622.5,146.6 623.0,147.6 623.0,148.4 623.2,148.6 623.2,149.4 623.5,149.6 623.5,150.4 624.0,151.4 624.5,151.9 624.7,152.6 626.3,154.6 627.0,156.1 634.2,163.1 634.3,163.4 636.7,165.9 637.3,166.9 638.3,168.1 638.3,168.4 639.0,169.1 639.0,169.4 640.5,171.4 643.5,177.4 647.5,182.6 647.7,183.1 647.7,183.6 648.0,183.9 648.0,184.4 648.5,185.1 648.5,185.6 649.0,186.6 649.0,187.1 649.3,187.4 649.3,187.9 649.8,188.6 650.0,189.9 650.8,191.1 650.8,191.6 651.3,192.4 651.3,192.9 652.0,194.1 652.0,194.6 653.0,196.6 654.3,198.1 654.3,198.4 654.8,198.9 654.8,199.1 655.3,199.6 655.8,200.6 657.0,202.1 657.0,202.4 662.3,208.4 662.3,208.6 663.3,209.9 663.8,210.9 664.5,211.6 664.5,211.9 665.5,213.1 666.5,215.1 666.5,215.6 667.0,216.4 667.0,216.9 667.8,218.1 667.8,218.6 668.5,219.9 668.5,220.6 668.8,220.9 668.8,221.9 669.0,222.1 669.0,222.9 669.3,223.1 669.3,224.1 669.5,224.4 669.5,225.4 669.8,225.6 669.8,226.4 670.0,226.6 670.1,227.6 670.3,227.9 670.3,228.6 670.6,228.9 670.6,229.4 671.0,230.4 671.1,231.1 671.5,232.1 671.5,232.6 671.8,232.9 671.8,233.4 673.6,236.9 673.9,237.2 677.9,239.2 678.4,239.2 686.1,243.2 686.6,243.2 690.3,245.1 690.3,288.4 690.3,290.1 690.1,290.3Z" stroke="#333434"/><path d="M688.1,288.2L613.1,288.2 612.8,287.6 612.8,286.9 612.3,285.9 612.3,285.1 611.8,284.1 611.8,283.4 611.3,282.4 611.3,281.6 610.8,280.6 610.7,279.9 610.3,278.9 610.2,278.1 610.0,277.9 609.7,276.4 609.3,275.4 609.3,274.6 609.0,274.4 609.0,273.9 608.2,271.6 608.2,270.9 608.0,270.6 607.9,270.1 607.7,269.9 607.4,268.9 606.6,268.8 606.4,268.5 605.6,268.5 604.6,268.0 603.9,268.0 603.6,267.8 602.9,267.7 602.6,267.5 601.9,267.5 601.6,267.3 600.9,267.2 599.9,266.8 599.1,266.7 598.9,266.5 598.1,266.5 597.9,266.3 597.1,266.2 596.9,266.0 596.1,266.0 595.9,265.8 595.1,265.7 594.9,265.5 593.9,265.5 593.6,265.3 592.9,265.2 592.6,265.0 591.9,265.0 591.6,264.8 590.9,264.7 590.6,264.5 589.9,264.5 589.6,264.3 588.9,264.2 588.6,264.0 587.6,264.0 587.4,263.8 586.6,263.7 586.4,263.5 585.6,263.5 585.4,263.3 583.6,263.0 582.6,262.5 581.9,262.5 581.6,262.3 580.9,262.2 580.6,262.0 579.9,262.0 578.9,261.5 577.1,261.2 576.9,261.0 576.1,261.0 575.1,260.5 573.4,260.3 572.4,259.8 571.6,259.8 571.4,259.5 570.9,259.5 569.9,259.0 569.1,259.0 568.1,258.5 567.4,258.5 567.1,258.3 566.6,258.3 565.6,257.8 564.9,257.8 564.6,257.5 563.4,257.2 563.1,257.0 562.6,257.0 561.9,256.5 559.9,256.0 559.1,255.5 557.1,255.0 556.4,254.5 555.9,254.5 554.9,254.0 551.9,254.0 551.6,253.8 548.6,253.7 548.4,253.5 545.1,253.5 544.9,253.2 541.9,253.2 541.6,253.0 540.4,253.0 540.1,252.7 538.9,252.7 538.6,252.5 537.4,252.5 537.1,252.2 535.6,252.2 535.4,252.0 534.1,252.0 533.9,251.8 532.6,251.7 532.4,251.5 528.9,251.5 528.6,251.3 524.1,251.2 522.6,251.3 522.4,251.5 519.9,251.5 518.1,252.7 517.4,253.0 516.1,254.0 515.9,254.0 514.7,255.4 514.7,255.6 514.2,256.1 513.7,257.1 513.0,257.9 512.5,258.9 507.1,263.2 505.1,263.7 504.9,264.0 504.4,264.0 504.1,264.2 503.6,264.2 503.4,264.5 502.9,264.5 502.6,264.7 502.1,264.7 501.1,265.2 497.4,265.2 497.1,265.5 493.4,265.5 493.1,265.7 492.1,265.2 491.4,265.2 491.1,265.0 489.6,264.7 488.6,264.2 487.9,264.2 486.9,263.7 486.1,263.7 482.0,259.1 482.0,258.6 481.7,258.4 481.7,257.6 481.5,257.4 481.5,256.6 481.2,256.4 481.2,255.6 480.9,255.4 480.9,254.6 480.7,254.4 480.7,253.6 480.4,253.4 480.4,252.6 480.2,252.4 480.2,251.1 479.9,250.9 479.9,248.9 479.7,248.6 479.7,246.9 479.4,246.6 479.4,245.4 478.9,244.4 478.9,243.9 478.7,243.6 478.2,241.6 477.6,240.9 477.4,240.9 476.6,240.1 476.4,240.1 475.1,239.1 473.9,239.1 473.6,239.4 472.1,239.4 471.9,239.6 470.6,239.6 468.1,242.4 468.1,242.6 466.6,244.1 466.6,244.4 465.9,245.1 465.1,246.6 465.1,247.1 464.4,248.4 464.3,248.9 462.8,251.9 462.8,252.4 462.1,253.6 462.1,254.1 460.8,256.4 459.1,258.4 459.1,258.6 458.3,259.4 458.3,259.6 457.6,260.4 457.6,260.6 456.6,261.6 456.6,261.9 455.8,262.6 455.8,262.9 448.0,271.4 447.9,271.6 447.5,272.1 446.5,273.9 445.0,275.9 445.0,276.1 444.5,276.6 444.5,276.9 440.1,283.2 405.1,283.2 404.9,277.1 404.9,146.4 404.9,117.1 405.1,110.1 407.4,110.0 407.6,109.8 410.1,109.7 410.4,109.5 412.6,109.5 412.9,109.2 415.1,109.2 415.4,109.0 417.9,109.0 418.1,108.7 420.4,108.7 427.6,101.0 427.9,101.0 429.6,99.5 429.9,99.5 430.6,98.7 430.9,98.7 431.9,97.8 432.1,97.7 433.9,96.3 434.1,96.3 441.0,90.1 441.0,89.9 441.7,89.1 441.7,88.9 443.2,87.1 443.7,86.1 443.7,85.4 444.0,85.1 444.3,83.9 444.5,83.6 444.5,82.9 444.8,82.6 445.0,81.4 445.3,81.1 445.3,80.4 445.5,80.1 445.8,78.9 446.0,78.6 446.0,77.9 446.5,76.9 447.2,76.1 447.3,75.9 449.1,73.5 450.4,73.2 451.1,72.7 452.4,72.5 452.6,72.2 453.1,72.2 454.6,71.5 461.9,71.5 462.1,71.2 475.9,71.2 476.1,71.0 480.4,71.0 480.6,70.7 482.1,70.5 482.4,70.2 483.1,70.2 483.4,70.0 484.1,70.0 484.4,69.7 484.9,69.7 485.1,69.5 485.9,69.5 486.9,69.0 487.6,69.0 488.6,68.5 489.1,68.5 489.4,68.2 490.1,68.2 491.1,67.7 491.6,67.7 491.9,67.5 492.4,67.5 492.6,67.2 493.4,67.2 493.6,67.0 494.9,66.7 495.1,66.5 497.4,66.2 497.6,66.0 498.6,66.0 498.9,65.7 499.9,65.7 500.1,65.5 500.6,65.5 501.4,65.0 501.9,65.0 502.6,64.5 503.1,64.5 504.6,63.7 504.9,64.0 505.9,64.0 506.1,64.2 507.4,64.2 507.6,64.5 508.6,64.5 508.9,64.7 510.1,64.7 510.6,65.2 510.9,65.2 515.1,68.2 515.4,68.2 515.9,68.7 516.1,68.7 516.6,69.2 516.9,69.2 517.4,69.7 517.6,69.7 523.4,76.0 523.6,76.0 524.9,77.0 525.1,77.0 525.6,77.5 526.4,77.7 527.6,78.7 528.4,79.0 528.9,79.5 529.1,79.5 530.9,80.7 532.6,81.0 532.9,81.2 533.6,81.2 533.9,81.5 534.9,81.5 535.1,81.7 536.9,82.0 537.1,82.2 537.9,82.2 538.1,82.4 545.1,82.4 545.4,82.7 546.6,82.7 546.9,82.9 547.9,82.9 548.1,83.2 549.4,83.2 549.6,83.4 550.6,83.4 550.9,83.7 552.1,83.7 553.9,84.9 554.6,85.2 555.9,86.2 556.1,86.2 558.1,88.6 558.1,88.9 559.3,90.4 559.3,90.6 560.1,91.4 560.1,91.6 565.9,97.2 566.9,97.5 567.6,98.0 568.1,98.0 570.6,99.2 571.1,99.2 571.9,99.7 572.4,99.7 573.1,100.2 576.4,100.5 576.6,100.7 578.4,100.7 578.6,101.0 580.1,101.0 580.4,101.2 581.4,101.2 581.6,101.5 582.4,101.5 582.6,101.7 583.6,101.8 583.9,102.0 584.6,102.0 584.9,102.3 585.9,102.3 590.7,106.6 591.0,107.4 592.0,108.6 592.2,109.4 592.7,109.9 593.5,111.4 594.0,111.9 594.7,113.4 595.0,114.6 595.5,115.4 595.5,115.9 596.0,116.6 595.8,117.9 595.3,118.6 595.0,119.9 594.3,121.4 594.3,126.1 595.0,127.1 595.3,127.9 596.8,129.9 597.6,131.4 598.1,131.9 598.4,132.0 598.9,132.5 599.1,132.5 599.6,133.0 600.6,133.5 601.4,134.2 601.6,134.2 602.9,135.2 603.9,135.7 608.0,140.1 608.0,140.6 608.3,140.9 608.3,141.6 608.5,141.9 608.5,142.6 608.8,142.9 608.8,143.6 609.1,143.9 609.1,144.6 611.6,149.6 612.6,150.9 612.8,151.6 614.3,153.6 615.1,155.1 617.4,157.2 617.6,157.2 618.6,158.2 618.9,158.2 620.1,159.5 620.4,159.5 621.5,160.6 621.5,160.9 623.3,162.9 623.3,163.1 624.0,163.9 624.0,164.1 629.8,169.6 629.8,169.9 631.0,171.1 631.0,171.4 634.0,174.9 634.5,176.1 635.0,176.6 636.3,179.1 636.8,179.6 641.3,188.9 642.3,190.1 643.0,191.6 643.5,192.1 643.8,192.9 644.8,194.1 645.0,194.9 645.8,195.6 645.8,195.9 646.5,196.6 646.5,196.9 647.3,197.6 647.3,197.9 648.0,198.6 648.0,198.9 649.0,199.9 649.0,200.1 649.8,200.9 649.8,201.1 650.5,201.9 650.5,202.1 651.3,202.9 651.3,203.1 652.8,204.9 652.8,205.1 653.5,205.9 654.0,206.9 656.3,209.6 656.8,210.6 657.5,211.4 658.0,212.4 658.8,213.1 658.8,213.4 659.5,214.1 660.0,215.1 661.3,216.6 661.8,217.9 662.3,218.4 662.8,219.6 664.0,221.4 665.3,223.9 665.5,225.1 666.3,226.6 666.3,227.1 666.8,227.9 667.0,229.1 667.5,229.9 667.5,230.6 667.7,230.9 667.8,231.6 668.0,231.9 668.0,232.6 668.3,232.9 668.5,234.6 669.3,235.6 669.3,235.9 670.5,237.1 670.5,237.4 673.9,241.2 674.1,241.2 675.4,242.2 676.1,242.5 677.4,243.5 678.1,243.7 678.6,244.2 679.4,244.5 680.6,245.5 681.4,245.7 682.6,246.7 683.4,247.0 684.6,248.0 685.4,248.2 685.9,248.7 686.6,249.0 687.1,249.5 688.2,250.1 688.1,288.2ZM470.6,246.9L470.1,246.9 469.9,246.6 470.1,246.1 470.6,246.1 470.9,246.4 470.6,246.9Z" stroke="#333634"/><path d="M686.1,286.2L614.1,286.2 613.5,285.1 613.5,284.6 613.0,283.9 612.8,282.6 612.3,281.9 612.3,281.4 611.3,279.4 611.3,278.9 610.8,278.1 610.8,277.6 610.0,276.1 610.0,275.6 609.5,274.9 609.5,274.4 609.0,273.6 609.0,273.1 608.6,272.4 608.3,270.9 608.1,270.6 607.7,269.4 607.0,268.4 606.6,267.6 606.1,267.5 605.1,267.0 604.4,267.0 604.1,266.7 602.1,266.2 601.9,266.0 601.4,266.0 601.1,265.8 600.6,265.7 600.4,265.5 599.6,265.5 599.4,265.3 598.9,265.2 597.9,264.8 597.1,264.7 596.9,264.5 595.1,264.2 594.9,264.0 593.9,264.0 593.6,263.8 592.9,263.7 592.6,263.5 590.9,263.2 590.6,263.0 589.9,263.0 589.6,262.8 588.9,262.7 588.6,262.5 587.6,262.5 587.4,262.3 586.6,262.2 586.4,262.0 585.6,262.0 585.4,261.8 583.6,261.5 582.6,261.0 581.9,261.0 581.6,260.8 580.9,260.7 580.6,260.5 579.9,260.5 578.9,260.0 577.1,259.7 576.9,259.5 576.1,259.5 575.1,259.0 573.4,258.7 572.4,258.3 571.6,258.2 571.4,258.0 570.9,258.0 569.9,257.5 569.1,257.5 568.1,257.0 567.4,257.0 567.1,256.7 566.6,256.7 565.6,256.3 564.9,256.2 564.6,256.0 562.6,255.5 561.9,255.0 559.9,254.5 559.1,254.0 557.1,253.5 556.4,253.0 555.1,252.7 554.9,252.5 552.4,252.5 552.1,252.3 547.1,252.0 546.9,251.8 544.6,251.7 544.4,251.5 541.9,251.5 541.6,251.3 538.1,251.0 537.9,250.8 536.4,250.7 536.1,250.5 534.4,250.5 534.1,250.3 532.6,250.3 532.4,250.0 528.9,250.0 528.6,249.8 517.6,249.8 516.9,250.3 516.4,250.3 515.6,250.8 515.1,250.8 514.4,251.3 513.4,251.5 510.8,254.6 510.7,254.9 509.8,255.9 509.7,256.1 505.1,260.7 504.6,260.7 503.9,261.2 503.4,261.3 502.6,261.7 502.1,261.8 500.1,262.7 497.1,262.8 496.9,263.0 493.9,263.0 493.6,263.2 493.4,263.0 492.6,263.0 492.4,262.8 491.6,262.7 491.4,262.5 489.6,262.2 489.4,262.0 487.6,261.7 484.0,257.6 483.5,255.6 483.3,255.4 483.2,254.6 482.8,253.6 482.8,253.1 482.5,252.9 482.5,252.1 482.3,251.9 482.2,250.6 482.0,250.4 482.0,248.6 481.8,248.4 481.7,246.6 481.5,246.4 481.5,245.4 480.8,243.9 480.8,243.4 480.5,243.1 480.2,241.9 479.8,241.1 479.7,240.6 479.4,240.0 478.6,239.8 478.1,239.3 476.4,238.5 475.4,237.8 474.9,237.8 472.1,238.0 471.9,238.2 470.4,238.3 465.3,243.9 464.5,245.4 464.5,245.9 464.0,246.6 464.0,247.1 463.3,248.4 463.2,248.9 462.5,250.1 462.5,250.6 461.8,251.9 461.7,252.4 461.3,253.1 461.2,253.6 460.0,255.9 458.3,257.9 458.2,258.1 457.5,258.9 456.7,260.1 455.8,261.1 455.0,262.4 447.3,270.6 447.3,270.9 444.8,274.4 444.2,275.4 443.5,276.1 443.5,276.4 440.1,281.2 405.1,281.2 404.9,277.1 404.9,146.4 405.1,113.1 407.4,113.0 407.6,112.7 410.1,112.7 410.4,112.5 412.6,112.5 412.9,112.2 415.1,112.2 415.4,112.0 417.9,112.0 418.1,111.7 420.4,111.7 427.6,104.0 429.4,103.0 431.9,101.0 433.6,100.0 435.1,98.7 435.4,98.7 438.6,96.0 438.9,96.0 439.9,95.0 440.1,95.0 441.1,94.0 441.4,94.0 442.4,93.0 442.6,93.0 443.2,92.4 443.3,92.1 445.8,88.6 446.0,87.9 448.5,84.4 451.0,79.1 452.1,78.5 452.6,78.5 454.9,77.2 455.4,77.2 456.6,76.5 465.6,76.5 465.9,76.2 471.1,76.0 471.4,75.7 476.6,75.5 476.9,75.3 477.9,75.2 478.1,75.0 479.4,75.0 479.6,74.8 480.6,74.8 480.9,74.5 483.1,74.3 483.4,74.0 484.6,74.0 484.9,73.8 485.9,73.8 486.1,73.5 487.1,73.5 487.4,73.3 488.1,73.3 488.4,73.0 489.4,73.0 489.6,72.8 490.4,72.8 490.6,72.5 491.6,72.5 491.9,72.3 492.6,72.2 492.9,72.0 493.9,72.0 494.1,71.8 494.9,71.7 495.1,71.5 496.9,71.2 497.1,71.0 498.1,71.0 498.4,70.8 499.1,70.7 499.4,70.5 501.1,70.3 501.4,70.0 502.4,70.0 502.6,69.8 504.4,69.5 504.6,69.3 504.9,69.5 505.9,69.5 506.1,69.8 507.1,69.8 507.4,70.0 508.4,70.0 508.6,70.2 509.6,70.3 509.9,70.5 510.9,70.5 511.1,70.8 512.1,70.8 512.6,71.3 513.6,71.8 514.4,72.5 514.6,72.5 515.4,73.3 516.4,73.8 518.1,75.3 519.1,75.8 527.1,83.0 528.1,83.5 528.6,83.5 530.4,84.5 530.9,84.5 532.6,85.5 533.1,85.5 534.4,86.2 537.9,86.2 538.1,86.5 549.9,86.5 550.1,86.3 551.1,86.8 551.6,87.2 555.1,89.0 555.5,89.4 555.8,90.1 556.3,90.6 556.5,91.4 557.0,91.9 557.3,92.6 558.3,93.9 558.5,94.6 559.8,96.4 560.1,97.1 565.9,102.7 572.9,106.0 574.4,107.2 575.4,107.7 576.1,108.4 576.4,108.4 577.1,109.2 578.1,109.7 578.8,110.4 578.8,110.6 580.3,112.6 580.6,113.4 582.1,115.4 582.3,116.4 582.6,116.6 582.6,117.9 582.8,118.1 582.8,119.1 583.1,119.4 583.1,120.6 583.3,120.9 583.3,122.1 583.6,122.4 583.6,123.9 583.8,124.1 583.8,125.6 584.1,125.9 584.1,126.6 585.1,127.9 585.1,128.1 585.8,128.9 585.8,129.1 586.6,129.9 586.6,130.1 587.3,130.9 587.3,131.1 592.6,136.0 592.9,136.0 594.1,137.0 594.4,137.0 595.1,137.7 595.4,137.7 595.9,138.2 596.9,138.7 597.6,139.5 598.6,140.0 600.1,141.2 600.4,141.2 605.5,146.4 606.0,147.6 606.5,148.1 607.0,149.4 608.3,151.1 608.8,152.4 609.3,152.9 609.8,153.9 610.8,155.1 610.8,155.4 611.5,156.1 611.5,156.4 612.0,156.9 612.5,157.9 620.0,165.4 620.0,165.6 623.3,168.9 623.3,169.1 627.3,173.9 627.3,174.1 628.0,174.9 628.8,176.6 629.3,177.1 630.0,178.9 630.5,179.4 631.3,181.1 632.3,182.4 632.5,183.1 633.5,184.4 633.8,185.1 635.3,187.1 636.0,188.6 636.8,189.4 636.8,189.6 637.5,190.4 637.5,190.6 638.3,191.4 638.3,191.6 639.0,192.4 639.0,192.6 642.0,196.4 642.0,196.6 644.3,199.4 644.8,200.4 645.5,201.1 645.5,201.4 646.3,202.1 646.3,202.4 647.0,203.1 647.0,203.4 647.8,204.1 647.8,204.4 648.5,205.1 648.5,205.4 649.3,206.1 649.3,206.4 650.0,207.1 650.0,207.4 650.8,208.1 650.8,208.4 651.5,209.1 651.5,209.4 652.3,210.1 652.3,210.4 653.0,211.1 653.0,211.4 653.8,212.1 653.8,212.4 655.2,214.1 655.8,215.1 656.5,215.9 656.5,216.1 658.5,218.6 658.8,219.4 659.2,219.9 659.5,220.6 660.0,221.1 660.3,221.9 660.7,222.4 661.0,223.1 661.5,223.6 662.2,225.1 662.3,225.6 662.7,226.4 663.0,227.6 663.2,227.9 663.3,228.4 663.7,229.1 664.0,230.4 664.5,231.1 664.8,232.4 667.0,236.9 673.9,244.2 674.1,244.2 676.9,246.2 677.6,246.5 679.6,248.0 680.4,248.2 683.1,250.2 683.9,250.5 684.4,251.0 684.6,251.0 686.2,252.1 686.1,286.2Z" stroke="#333735"/><path d="M684.1,284.2L615.1,284.2 609.0,272.1 607.6,268.9 605.9,266.1 604.6,265.8 604.4,265.5 603.9,265.5 603.6,265.3 603.1,265.2 602.9,265.0 602.4,265.0 601.6,264.5 599.6,264.0 598.6,263.5 598.1,263.5 597.9,263.3 596.1,263.0 595.9,262.8 595.1,262.7 594.9,262.5 593.9,262.5 593.6,262.3 591.9,262.0 591.6,261.8 590.9,261.7 590.6,261.5 589.9,261.5 589.6,261.3 588.9,261.2 588.6,261.0 587.6,261.0 587.4,260.8 585.6,260.5 585.4,260.3 583.6,260.0 582.6,259.5 581.9,259.5 581.6,259.3 579.9,259.0 578.9,258.5 578.1,258.5 577.9,258.3 576.1,258.0 575.1,257.5 573.4,257.2 572.4,256.8 571.9,256.7 571.6,256.5 571.1,256.5 570.9,256.3 570.4,256.2 570.1,256.0 568.9,255.7 568.6,255.5 567.9,255.5 566.9,255.0 566.4,255.0 566.1,254.8 565.6,254.8 565.4,254.5 564.9,254.5 564.6,254.3 562.6,253.7 561.9,253.3 559.9,252.7 559.1,252.3 557.1,251.7 556.4,251.3 555.9,251.3 554.9,250.8 551.9,250.7 551.6,250.5 548.6,250.5 548.4,250.3 545.1,250.2 544.9,250.0 541.9,250.0 541.6,249.7 539.6,249.7 539.4,249.5 537.4,249.5 537.1,249.2 534.9,249.2 534.6,249.0 532.6,249.0 532.4,248.7 530.1,248.7 529.9,248.5 527.6,248.5 527.4,248.3 525.1,248.3 524.9,248.0 521.1,248.0 520.9,247.7 516.4,247.7 516.1,248.0 515.4,248.0 515.1,248.2 514.4,248.2 514.1,248.5 513.4,248.5 513.1,248.7 511.4,249.0 506.7,253.6 506.7,253.9 505.9,254.6 505.9,254.9 504.9,255.9 504.9,256.1 503.6,257.7 500.6,259.2 500.1,259.7 499.1,260.2 496.6,260.2 496.4,260.4 493.9,260.4 493.6,260.6 493.4,260.4 490.1,260.0 489.9,259.8 488.6,259.5 486.6,258.5 484.6,256.4 484.3,255.9 484.3,255.4 484.1,255.1 484.0,253.4 484.7,251.9 484.6,251.1 484.3,250.9 484.3,249.6 484.1,249.4 483.8,245.6 483.6,245.4 483.6,244.4 481.3,239.9 480.9,239.5 475.4,236.8 473.6,236.8 473.4,237.0 469.9,237.3 464.5,243.1 464.0,244.1 464.0,244.6 463.3,245.9 463.2,246.4 462.8,247.1 462.7,247.6 462.0,248.9 462.0,249.4 461.5,250.1 461.5,250.6 461.0,251.4 461.0,251.9 460.3,253.1 460.3,253.6 459.3,255.4 457.5,257.4 457.5,257.6 456.0,259.4 456.0,259.6 455.0,260.6 455.0,260.9 454.3,261.6 454.2,261.9 446.5,270.4 446.5,270.6 445.0,272.4 444.5,273.4 443.2,274.9 443.2,275.1 442.5,275.9 442.5,276.1 441.8,276.9 441.2,277.9 440.1,279.2 405.1,279.2 405.1,277.4 404.9,277.1 404.9,146.4 405.1,115.1 407.4,115.0 407.6,114.8 410.1,114.7 410.4,114.5 412.6,114.5 412.9,114.2 415.1,114.2 415.4,114.0 417.9,114.0 418.1,113.7 420.4,113.7 428.1,106.5 428.4,106.5 433.4,103.0 433.6,103.0 434.9,102.0 435.1,102.0 436.4,101.0 436.6,101.0 440.4,98.0 440.6,98.0 441.4,97.3 441.6,97.2 442.6,96.3 442.9,96.3 446.6,93.2 446.9,93.2 447.5,92.6 448.0,91.6 449.0,90.4 449.0,90.1 449.5,89.6 449.8,88.9 451.3,86.9 451.8,85.9 456.6,81.7 458.6,81.7 458.9,81.5 460.9,81.5 461.1,81.2 462.9,81.2 463.1,81.0 465.1,81.0 465.4,80.7 467.4,80.7 467.6,80.5 469.6,80.5 469.9,80.2 471.6,80.2 471.9,80.0 473.9,80.0 474.1,79.7 476.1,79.7 476.4,79.5 478.1,79.5 478.4,79.2 480.4,79.2 480.6,79.0 481.9,79.0 482.1,78.7 483.1,78.7 483.4,78.5 484.6,78.5 484.9,78.2 485.9,78.2 486.1,78.0 487.4,78.0 487.6,77.7 488.6,77.7 488.9,77.5 490.1,77.5 490.4,77.2 491.4,77.2 491.6,77.0 493.9,76.7 494.1,76.5 495.1,76.5 495.4,76.2 497.6,76.0 497.9,75.7 498.9,75.7 499.1,75.5 503.6,75.5 503.9,75.2 508.1,75.2 508.4,75.0 512.9,77.2 513.4,77.2 516.1,78.7 516.6,78.7 517.6,79.3 527.1,86.7 527.6,86.8 527.9,87.0 528.6,87.0 529.6,87.5 530.1,87.5 530.4,87.8 531.1,87.8 532.1,88.3 532.9,88.3 533.1,88.5 534.4,88.8 534.6,89.0 535.4,89.0 536.4,89.5 550.1,89.8 551.1,90.3 551.6,90.8 553.9,91.8 554.4,92.3 555.1,92.5 555.5,92.9 555.5,93.1 557.0,95.1 557.0,95.4 557.5,95.9 557.5,96.1 560.0,99.6 560.0,99.9 560.9,100.7 561.1,100.8 562.4,102.0 562.6,102.0 563.9,103.3 564.1,103.3 567.6,106.2 569.6,107.3 570.1,107.7 571.4,108.3 571.9,108.7 573.1,109.3 574.2,110.1 574.3,110.4 575.8,112.1 575.8,112.4 577.3,114.1 577.3,114.4 578.0,115.4 578.0,116.1 578.5,117.1 578.5,117.9 578.8,118.1 578.8,118.6 579.3,119.6 579.3,120.4 579.8,121.4 579.8,122.1 580.3,123.1 580.5,124.9 581.0,125.9 581.0,126.6 582.0,128.4 583.0,129.6 583.2,130.4 584.7,132.4 584.7,132.6 589.6,138.0 589.9,138.0 591.1,139.0 591.4,139.0 591.9,139.5 592.1,139.5 594.1,141.0 594.4,141.0 594.9,141.5 595.1,141.5 601.5,147.4 601.5,147.6 603.0,149.4 603.5,150.4 605.0,152.1 605.5,153.1 607.0,154.9 607.5,155.9 609.7,158.6 609.7,158.9 611.0,160.1 611.0,160.4 613.2,162.9 613.2,163.1 615.0,164.9 615.0,165.1 619.7,170.1 619.7,170.4 621.0,171.6 621.0,171.9 624.5,175.9 624.7,176.6 625.7,177.9 626.0,178.6 626.5,179.1 626.7,179.9 627.7,181.1 628.0,181.9 629.0,183.1 629.2,183.9 631.2,186.6 631.5,187.4 632.5,188.6 633.0,189.6 635.2,192.4 635.7,193.4 638.0,196.1 638.5,197.1 640.7,199.9 641.2,200.9 643.5,203.6 644.0,204.6 646.2,207.4 646.7,208.4 649.0,211.1 649.5,212.1 650.2,212.9 650.2,213.1 651.7,214.9 652.2,215.9 653.0,216.6 653.0,216.9 655.0,219.4 655.2,220.1 656.2,221.4 657.2,223.4 658.2,224.6 659.2,226.6 659.2,227.1 660.2,229.1 660.2,229.6 660.7,230.4 660.7,230.9 661.7,232.9 661.7,233.4 664.0,237.9 667.1,240.5 667.4,240.5 668.4,241.5 668.6,241.5 670.6,243.2 670.9,243.3 671.9,244.2 672.1,244.3 673.1,245.3 673.4,245.3 674.4,246.2 674.6,246.3 675.6,247.2 675.9,247.3 676.9,248.2 677.1,248.3 678.1,249.2 678.4,249.3 679.6,250.5 679.9,250.5 680.9,251.5 681.1,251.5 684.2,254.1 684.1,284.2Z" stroke="#333936"/><path d="M682.1,282.3L616.1,282.3 615.7,281.9 614.9,280.4 614.4,279.9 614.2,279.1 613.2,277.9 612.9,277.1 611.9,275.9 611.7,275.1 610.7,273.9 610.4,273.1 609.4,271.9 609.2,271.1 608.2,269.9 607.9,269.1 607.4,268.6 606.2,266.4 605.7,265.9 605.4,265.1 604.6,264.6 604.1,264.6 603.4,264.1 602.9,264.1 601.6,263.3 601.1,263.3 600.4,262.8 599.9,262.8 599.1,262.3 598.6,262.3 597.9,261.8 597.1,261.8 596.9,261.6 596.1,261.6 595.9,261.3 595.1,261.3 594.9,261.1 593.9,261.1 593.6,260.8 591.9,260.6 591.6,260.3 590.9,260.3 590.6,260.1 589.9,260.1 589.6,259.8 588.9,259.8 588.6,259.6 587.6,259.6 587.4,259.3 586.6,259.3 586.4,259.1 585.6,259.1 585.4,258.8 584.6,258.8 584.4,258.6 583.6,258.6 582.6,258.1 581.9,258.1 581.6,257.8 579.9,257.6 578.9,257.1 578.1,257.1 577.9,256.8 576.1,256.6 575.1,256.1 573.4,255.8 573.1,255.6 571.9,255.3 571.6,255.1 569.6,254.6 568.6,254.1 567.9,254.1 566.9,253.6 565.6,253.3 565.4,253.1 564.9,253.1 564.6,252.8 562.6,252.3 561.9,251.9 559.9,251.3 559.1,250.9 557.1,250.3 556.4,249.9 555.9,249.8 554.9,249.4 552.4,249.3 552.1,249.1 549.9,249.1 549.6,248.9 547.1,248.8 546.9,248.6 544.6,248.6 544.4,248.4 541.9,248.3 541.6,248.1 538.9,248.1 538.6,247.9 535.6,247.8 535.4,247.6 532.6,247.6 532.4,247.4 525.1,247.1 522.6,245.9 522.1,245.9 520.9,245.1 520.4,245.1 519.6,244.6 519.1,244.6 517.9,243.9 517.4,243.9 516.1,243.1 515.6,243.1 514.9,242.6 514.4,242.6 513.4,242.1 512.9,242.1 511.9,241.6 511.4,241.6 511.1,241.4 510.6,241.4 510.4,241.1 509.6,241.1 508.6,240.6 508.1,240.6 507.9,240.4 507.4,240.4 507.1,240.1 506.6,240.1 506.4,239.9 505.1,239.6 504.9,239.4 503.4,239.4 503.1,239.1 501.9,239.1 501.6,238.9 498.4,238.6 498.1,238.4 496.9,238.4 496.6,238.1 486.1,238.1 485.9,237.9 484.1,237.9 483.9,237.6 480.1,237.3 479.9,237.1 479.1,237.1 478.9,236.9 478.1,236.8 477.9,236.6 477.1,236.6 476.9,236.3 476.1,236.3 475.9,236.1 473.9,236.1 473.6,236.3 472.4,236.3 472.1,236.6 469.4,236.9 465.1,241.4 465.1,241.6 463.9,242.9 463.4,243.9 463.4,244.4 462.9,245.1 462.8,245.6 461.9,247.6 461.8,248.1 460.9,250.1 460.8,250.6 460.3,251.4 460.3,251.9 459.8,252.6 459.8,253.1 458.8,254.9 456.1,258.1 456.1,258.4 455.3,259.1 455.3,259.4 454.3,260.4 454.3,260.6 453.6,261.4 453.6,261.6 445.6,270.1 445.6,270.4 444.9,271.1 444.9,271.4 444.1,272.1 444.1,272.4 443.1,273.4 443.1,273.6 442.4,274.4 442.4,274.6 440.1,277.4 405.1,277.4 405.0,277.1 405.0,146.4 405.1,117.1 406.9,117.0 407.1,116.7 408.9,116.7 409.1,116.5 410.6,116.5 410.9,116.2 412.6,116.2 412.9,116.0 414.6,116.0 414.9,115.7 416.6,115.7 416.9,115.5 418.4,115.5 418.6,115.2 420.4,115.2 422.4,113.7 422.6,113.7 423.4,112.9 424.4,112.4 425.1,111.7 426.1,111.2 426.6,110.7 426.9,110.7 427.6,109.9 428.6,109.4 429.4,108.7 430.4,108.2 431.1,107.4 432.1,106.9 432.9,106.2 433.9,105.7 434.4,105.2 434.6,105.2 436.1,103.9 436.4,103.9 437.1,103.2 438.1,102.7 441.6,100.2 442.4,99.9 445.1,97.9 445.9,97.7 448.6,95.7 448.9,95.7 455.1,87.9 455.4,87.9 455.9,87.4 456.6,87.2 457.1,86.7 457.9,86.4 458.4,85.9 459.1,85.7 460.1,84.9 462.4,84.9 462.6,84.7 464.9,84.7 465.1,84.4 467.4,84.4 467.6,84.2 469.9,84.2 470.1,83.9 473.4,83.7 473.6,83.4 475.1,83.4 475.4,83.2 476.9,83.2 477.1,82.9 480.4,82.7 480.6,82.5 481.9,82.4 482.1,82.2 483.1,82.2 483.4,82.0 484.6,81.9 484.9,81.7 485.9,81.7 486.1,81.5 487.4,81.5 487.6,81.2 488.6,81.2 488.9,81.0 490.1,81.0 490.4,80.7 491.4,80.7 491.6,80.5 492.9,80.5 493.1,80.2 494.1,80.2 494.4,80.0 497.1,79.7 497.4,79.5 498.4,79.5 498.6,79.2 499.9,79.2 500.1,79.0 508.1,79.0 509.4,79.7 509.9,79.7 511.6,80.7 512.1,80.7 513.9,81.7 514.4,81.7 516.1,82.7 516.6,82.7 517.1,83.0 526.4,90.2 528.1,90.5 528.4,90.7 530.1,91.0 530.4,91.2 532.1,91.5 532.4,91.7 533.1,91.7 533.4,92.0 534.1,92.0 534.4,92.2 535.1,92.2 535.4,92.5 536.1,92.5 536.4,92.7 538.9,92.7 539.1,93.0 541.6,93.0 541.9,93.2 544.6,93.2 544.9,93.5 547.4,93.5 547.6,93.7 550.1,93.8 551.1,94.3 551.6,94.8 553.9,95.8 554.4,96.3 555.1,96.5 555.7,97.1 555.7,97.4 556.7,98.4 556.7,98.6 559.7,102.1 559.7,102.4 560.9,103.5 561.1,103.5 562.4,104.8 562.6,104.8 563.9,106.0 564.1,106.0 565.1,107.0 565.4,107.0 567.9,109.3 568.1,109.3 568.6,109.8 568.9,109.8 569.4,110.3 569.6,110.3 573.0,112.6 574.2,115.1 574.2,115.6 575.7,118.4 575.7,118.9 576.0,119.1 576.0,119.9 576.2,120.1 576.2,120.9 576.7,121.9 576.7,122.6 577.2,123.6 577.2,124.4 577.5,124.6 577.5,125.4 577.7,125.6 577.7,126.1 578.2,126.9 578.2,127.4 579.0,128.6 579.0,129.1 579.5,129.9 579.5,130.4 580.5,132.4 583.5,136.1 583.5,136.4 584.4,137.2 584.6,137.2 586.4,138.8 586.6,138.8 587.6,139.8 587.9,139.8 588.6,140.5 588.9,140.5 589.6,141.3 589.9,141.3 596.5,147.4 596.5,147.6 597.0,148.1 597.0,148.4 597.5,148.9 597.5,149.1 599.0,151.1 599.0,151.4 599.5,151.9 599.5,152.1 600.0,152.6 600.0,152.9 601.0,154.1 601.0,154.4 601.5,154.9 601.5,155.1 602.0,155.6 602.0,155.9 602.5,156.4 602.5,156.6 603.0,157.1 603.0,157.4 603.5,157.9 603.5,158.1 604.0,158.6 604.0,158.9 604.8,159.6 604.8,159.9 607.3,162.6 607.3,162.9 608.5,164.1 608.5,164.4 610.5,166.4 610.5,166.6 613.3,169.4 613.3,169.6 616.0,172.4 616.0,172.6 620.5,177.4 621.3,178.9 623.3,181.6 623.5,182.4 625.5,185.1 625.8,185.9 627.8,188.6 628.0,189.4 628.5,189.9 628.5,190.1 629.5,191.4 629.5,191.6 631.8,194.4 632.3,195.4 634.5,198.1 635.0,199.1 637.3,201.9 637.8,202.9 640.1,205.6 640.6,206.6 642.8,209.4 643.3,210.4 645.6,213.1 646.1,214.1 646.8,214.9 646.8,215.1 648.8,217.6 648.8,217.9 649.6,218.6 649.6,218.9 651.6,221.4 653.1,224.4 653.6,224.9 654.1,226.1 654.6,226.6 658.1,233.9 658.6,234.4 658.9,235.1 659.4,235.6 659.6,236.4 660.1,236.9 661.1,238.9 662.9,240.1 663.1,240.1 663.6,240.6 663.9,240.6 664.4,241.1 665.1,241.4 667.1,242.9 667.9,243.1 670.6,245.1 671.4,245.4 671.9,245.9 672.1,245.9 673.4,246.9 673.6,246.9 682.3,256.1 682.3,282.1 682.1,282.3ZM494.1,258.9L492.1,258.8 490.1,258.3 488.4,257.5 487.0,256.4 486.3,255.1 486.2,253.9 486.6,252.6 487.7,251.4 489.1,250.5 490.6,249.9 492.4,249.6 494.1,249.5 495.9,249.7 497.6,250.3 498.9,250.9 500.0,251.9 500.7,252.9 501.0,254.1 500.8,255.4 500.2,256.4 499.1,257.4 497.6,258.1 495.9,258.7 494.1,258.9Z" stroke="#333a36"/><path d="M681.9,282.0L616.4,282.1 616.0,281.9 615.1,280.4 614.6,279.9 614.4,279.1 613.4,277.9 613.1,277.1 612.6,276.6 611.8,275.1 610.8,273.9 610.6,273.1 609.6,271.9 609.3,271.1 608.3,269.9 608.0,269.1 607.5,268.6 606.3,266.4 605.8,265.9 605.5,265.1 604.6,264.5 604.1,264.4 603.4,263.9 602.9,263.8 601.7,263.1 597.9,261.6 588.6,259.3 586.9,259.0 582.6,257.8 580.1,257.3 578.9,256.8 576.4,256.3 575.1,255.8 573.6,255.5 568.6,253.9 567.1,253.6 566.9,253.4 565.6,253.1 565.4,252.9 564.9,252.9 564.6,252.7 562.6,252.2 561.9,251.7 559.9,251.2 559.1,250.7 557.1,250.2 556.4,249.7 555.9,249.7 554.9,249.2 552.4,249.2 552.1,248.9 547.1,248.7 546.9,248.4 544.6,248.4 544.4,248.2 541.9,248.2 541.6,247.9 538.9,247.9 538.6,247.7 532.6,247.4 532.4,247.2 525.1,246.9 524.4,246.4 523.9,246.4 522.6,245.7 522.1,245.7 520.9,245.0 519.1,244.4 517.9,243.7 517.4,243.7 514.9,242.5 512.9,242.0 511.1,241.2 510.6,241.2 510.4,241.0 509.6,241.0 509.4,240.7 508.1,240.5 507.9,240.3 507.4,240.2 507.1,240.0 506.6,240.0 506.4,239.8 505.9,239.7 504.9,239.3 503.4,239.2 503.1,239.0 500.1,238.7 499.9,238.5 498.4,238.5 498.1,238.3 496.9,238.2 496.4,238.0 486.1,237.9 485.9,237.7 482.1,237.4 481.9,237.2 480.1,237.2 479.9,236.9 479.1,236.9 478.9,236.7 478.1,236.7 477.9,236.4 477.1,236.4 476.9,236.2 476.1,236.2 475.9,236.0 473.9,236.0 473.6,236.2 472.4,236.2 472.1,236.5 470.9,236.5 470.6,236.7 469.4,236.8 465.0,241.4 465.0,241.6 463.8,242.9 463.3,243.9 463.3,244.4 462.8,245.1 462.8,245.6 462.3,246.4 462.3,246.9 461.3,248.9 461.2,249.4 460.2,251.4 460.2,251.9 459.7,252.6 459.7,253.1 458.7,254.9 456.0,258.1 456.0,258.4 455.2,259.1 455.2,259.4 454.2,260.4 454.2,260.6 453.5,261.4 453.5,261.6 445.5,270.1 445.5,270.4 444.1,272.1 444.1,272.4 443.1,273.4 443.1,273.6 440.1,277.3 405.1,277.3 405.0,277.1 405.0,128.1 406.1,118.4 406.4,118.1 407.6,117.9 416.6,116.6 419.1,115.9 420.6,115.7 437.4,103.6 441.8,100.6 449.2,96.1 455.6,89.0 460.9,86.3 462.4,86.2 463.1,86.0 465.1,85.9 465.6,85.7 467.6,85.6 468.1,85.4 470.1,85.4 470.6,85.2 471.9,85.2 480.6,84.1 489.6,82.6 500.9,81.2 507.1,81.4 515.9,85.2 524.1,91.4 525.6,92.4 535.9,95.6 548.9,97.7 551.6,99.2 553.1,100.5 556.9,105.1 558.1,106.4 565.3,112.6 569.6,115.6 571.9,119.9 574.6,127.4 576.6,131.7 578.1,134.3 581.2,138.4 582.2,139.4 588.2,144.1 593.6,149.1 602.4,161.9 608.4,168.7 618.0,178.9 627.7,192.9 650.6,221.9 653.8,226.9 657.9,234.0 659.1,235.6 659.4,236.4 660.0,236.9 661.1,238.9 662.9,240.2 663.1,240.2 663.6,240.7 663.9,240.7 664.4,241.2 665.1,241.4 667.1,243.0 667.9,243.3 670.6,245.3 671.4,245.6 673.4,247.1 673.6,247.1 675.6,249.1 675.7,249.4 681.9,256.1 682.1,258.1 682.1,280.4 681.9,282.0ZM494.4,256.9L492.1,256.8 491.0,256.4 490.1,255.8 489.6,255.1 489.3,254.4 489.4,253.6 489.8,252.9 491.4,251.9 493.4,251.5 495.4,251.7 497.1,252.6 497.9,253.9 497.6,255.1 496.4,256.3 494.4,256.9Z" stroke="#333c37"/><path d="M681.6,281.7L680.1,281.8 616.4,281.8 608.1,269.1 607.2,267.9 606.9,267.1 605.9,265.9 605.6,265.1 605.1,264.6 602.9,263.4 598.1,261.4 595.1,260.5 586.9,258.6 573.6,255.2 563.6,252.2 554.9,249.1 552.6,249.0 552.1,248.7 550.1,248.7 549.6,248.5 542.1,247.9 541.1,247.7 539.1,247.7 538.1,247.4 535.9,247.4 535.4,247.2 532.9,247.2 531.9,246.9 529.1,246.9 528.1,246.7 525.4,246.7 514.9,242.4 511.1,241.1 510.6,241.1 510.4,240.9 508.1,240.4 507.9,240.1 507.4,240.1 507.1,239.9 505.9,239.6 504.9,239.2 503.4,239.1 503.1,238.9 500.1,238.6 499.6,238.4 498.4,238.4 498.1,238.2 496.9,238.1 496.4,237.9 486.4,237.7 485.9,237.6 482.4,237.2 481.9,237.0 480.4,236.9 475.9,235.9 473.9,235.9 473.6,236.1 470.9,236.3 470.4,236.6 469.4,236.8 465.0,241.4 463.7,242.9 463.2,243.9 462.7,245.6 462.2,246.4 462.2,246.9 461.2,248.9 461.1,249.4 460.1,251.4 460.1,251.9 458.6,254.9 455.9,258.1 455.1,259.4 454.1,260.4 453.4,261.6 445.4,270.1 445.4,270.4 444.1,272.1 444.1,272.4 443.1,273.4 443.1,273.6 440.1,277.3 405.1,277.3 405.0,277.1 405.0,128.1 407.3,119.4 407.9,119.1 411.6,118.4 416.9,117.5 420.9,116.4 440.4,102.1 449.6,96.5 453.0,93.1 456.6,89.9 461.1,87.7 468.6,86.7 481.1,85.5 489.9,84.4 499.9,83.5 501.4,83.4 506.6,83.9 514.6,87.5 522.9,93.5 524.9,94.6 535.1,98.6 547.6,101.8 549.1,102.6 549.9,103.1 555.5,109.6 562.6,116.1 566.1,118.6 567.8,121.4 570.6,127.6 573.6,133.1 575.3,135.9 578.6,140.1 580.4,142.0 586.1,146.7 591.0,151.4 599.9,163.9 606.1,170.7 615.7,180.6 626.0,194.4 649.1,221.6 653.2,227.4 657.5,234.1 660.7,238.1 661.1,238.9 663.6,240.7 663.9,240.7 664.4,241.2 665.1,241.5 667.1,243.0 667.9,243.4 673.6,247.5 681.6,256.4 681.8,258.1 681.8,280.1 681.6,281.7Z" stroke="#333d38"/><path d="M681.1,281.4L680.1,281.5 616.6,281.5 615.2,279.6 605.3,264.6 602.9,263.1 597.1,260.7 573.9,254.9 563.6,252.0 554.9,248.9 552.6,248.8 552.1,248.6 550.4,248.5 549.6,248.3 542.1,247.7 541.1,247.5 539.1,247.5 538.1,247.2 535.9,247.2 531.9,246.7 529.1,246.7 528.1,246.5 525.4,246.5 515.1,242.3 504.6,239.0 498.6,238.2 496.4,237.8 484.9,237.4 480.4,236.7 478.1,236.1 475.9,235.7 470.9,236.2 469.4,236.8 464.9,241.4 463.7,242.9 463.2,243.9 459.5,252.9 458.4,254.8 454.9,259.4 454.1,260.1 453.1,261.6 445.7,269.6 444.5,271.6 444.0,272.1 444.0,272.4 443.0,273.4 443.0,273.6 440.1,277.3 405.1,277.3 405.0,128.1 408.5,120.4 417.4,118.3 421.1,117.0 440.6,102.6 450.1,96.9 453.7,93.6 457.4,90.9 461.6,89.0 468.9,87.9 481.1,87.1 490.1,86.1 501.6,85.8 506.1,86.5 513.4,89.7 521.6,95.5 524.6,97.2 535.1,102.0 546.6,106.0 547.1,106.3 552.9,112.9 559.9,119.5 562.6,121.6 563.5,122.9 567.5,129.9 570.6,134.6 572.6,137.6 576.1,142.0 578.3,144.4 584.1,149.4 588.4,153.6 596.3,164.6 601.9,170.7 613.4,182.4 624.7,196.4 642.1,215.3 648.1,222.1 657.3,234.4 660.6,238.2 661.0,238.9 663.6,240.7 663.9,240.7 664.9,241.6 665.1,241.6 673.6,247.7 681.3,256.6 681.5,258.1 681.5,280.1 681.4,281.2 681.1,281.4Z" stroke="#333f38"/><path d="M680.6,281.2L616.9,281.2 616.4,280.9 615.4,279.5 605.4,264.5 603.1,262.9 598.1,260.8 595.4,259.8 584.1,257.2 566.1,252.5 554.6,248.6 552.9,248.6 552.1,248.4 550.4,248.4 549.9,248.1 542.4,247.5 541.1,247.2 539.4,247.2 538.1,247.0 536.1,247.0 531.9,246.5 529.4,246.5 528.1,246.2 525.4,246.2 515.1,242.2 504.6,238.9 503.6,238.9 501.4,238.4 498.6,238.1 496.4,237.6 484.9,237.2 480.4,236.5 478.1,235.9 475.9,235.6 470.9,236.0 469.6,236.6 464.9,241.2 463.7,242.6 463.1,243.9 459.3,252.9 458.0,255.1 454.0,260.1 453.0,261.6 445.6,269.5 444.5,271.6 444.0,272.1 444.0,272.4 443.0,273.4 443.0,273.6 442.3,274.4 442.3,274.6 440.1,277.3 405.1,277.3 405.1,127.9 409.6,121.3 418.6,119.0 421.1,117.9 441.0,102.9 450.4,97.4 454.4,94.3 457.4,92.4 458.4,91.8 461.9,90.4 469.1,89.2 481.1,88.6 489.4,87.9 500.6,88.1 505.4,89.0 512.1,91.9 523.1,99.2 533.9,105.0 544.6,109.8 549.9,115.7 555.7,121.6 557.1,123.0 559.1,124.5 563.9,131.5 571.3,141.1 575.9,146.4 581.9,151.9 586.1,156.1 593.7,166.6 595.1,168.2 611.1,184.2 623.1,198.1 641.5,216.6 647.4,222.9 654.9,232.1 661.0,238.9 663.6,240.7 663.9,240.7 664.9,241.6 665.1,241.6 666.2,242.6 673.6,248.0 680.9,256.6 681.2,258.1 681.2,280.1 681.1,280.9 680.6,281.2Z" stroke="#334039"/><path d="M680.4,280.9L616.9,280.9 615.6,279.4 605.4,264.4 603.1,262.6 595.4,259.4 587.4,257.6 563.9,251.7 554.6,248.4 552.9,248.4 552.4,248.2 550.6,248.2 549.9,248.0 542.4,247.3 541.4,247.0 536.1,246.8 531.9,246.3 529.4,246.3 528.4,246.0 525.1,246.0 515.4,242.1 504.6,238.7 503.6,238.7 501.4,238.2 500.4,238.2 499.6,238.0 498.6,238.0 496.4,237.5 494.6,237.3 485.1,237.1 480.4,236.2 478.9,235.8 475.9,235.5 470.6,236.0 469.4,236.7 464.0,242.1 462.4,245.1 462.4,245.6 459.2,252.9 457.9,255.1 453.9,260.1 452.9,261.6 445.6,269.4 444.0,272.4 443.0,273.4 443.0,273.6 442.2,274.4 442.2,274.6 440.1,277.2 405.1,277.2 405.1,127.9 410.6,122.3 419.1,119.8 420.9,118.9 442.4,102.5 450.6,97.9 455.4,94.8 459.4,92.8 461.9,91.9 469.6,90.4 481.1,90.1 489.1,89.6 499.1,90.3 501.6,90.7 505.4,91.7 510.8,94.1 532.9,108.3 542.8,113.9 546.7,118.4 552.5,124.6 554.0,126.1 555.4,127.2 559.4,132.2 573.4,148.4 583.4,158.1 591.1,168.6 593.5,171.1 608.7,185.9 623.1,201.3 642.1,219.1 646.6,223.7 654.6,232.6 658.9,236.9 661.4,239.3 661.6,239.3 663.6,240.8 663.9,240.8 664.9,241.7 665.1,241.7 666.6,243.0 673.5,248.1 674.4,249.0 680.6,256.9 680.9,257.9 681.0,280.1 680.9,280.6 680.4,280.9Z" stroke="#34423a"/><path d="M680.4,280.6L617.1,280.7 616.9,280.6 615.7,279.1 608.8,268.9 607.4,267.1 606.9,266.1 606.2,265.4 605.6,264.4 603.6,262.5 595.6,259.1 587.4,257.3 570.6,253.0 564.1,251.5 554.6,248.2 552.9,248.2 552.4,248.0 550.6,248.0 550.1,247.8 541.9,247.0 541.4,246.8 536.1,246.6 535.1,246.3 532.6,246.3 532.1,246.1 529.4,246.1 528.4,245.8 525.1,245.8 514.9,241.7 511.6,240.7 510.9,240.6 510.6,240.4 510.1,240.4 509.1,239.9 508.4,239.9 508.1,239.6 507.6,239.6 506.6,239.1 505.9,239.1 504.9,238.6 503.4,238.6 503.1,238.4 501.9,238.3 501.6,238.1 500.1,238.1 499.9,237.9 498.4,237.8 498.1,237.6 496.9,237.6 496.6,237.4 495.1,237.4 494.6,237.2 485.1,236.9 482.4,236.3 480.4,236.0 478.9,235.6 475.9,235.4 470.6,235.7 469.4,236.7 467.4,238.8 467.1,238.8 463.8,242.1 462.3,245.1 462.3,245.6 461.1,247.9 461.1,248.4 459.6,251.1 459.6,251.6 457.9,254.9 455.4,257.9 454.6,259.1 453.6,260.1 452.9,261.4 445.4,269.4 444.7,271.1 444.0,272.1 444.0,272.4 443.0,273.4 443.0,273.6 442.2,274.4 442.2,274.6 440.1,277.2 405.1,277.2 405.1,128.0 405.6,127.9 406.1,127.3 411.6,123.2 419.6,120.6 421.1,119.7 426.6,115.2 442.6,102.9 450.9,98.5 454.6,96.1 459.9,93.9 462.6,93.1 469.9,91.6 471.4,91.8 479.1,91.5 480.4,91.6 488.6,91.3 499.1,92.5 504.6,94.1 509.6,96.4 518.9,102.1 530.9,110.9 540.6,117.6 550.5,128.9 563.6,142.0 571.0,150.4 580.9,160.4 582.9,162.8 589.1,171.4 606.3,187.6 621.6,202.9 641.1,219.9 646.1,224.6 654.3,233.1 661.4,239.3 661.6,239.3 663.6,240.8 663.9,240.8 664.9,241.7 665.1,241.7 666.6,243.2 671.9,247.1 674.2,249.1 680.3,257.1 680.6,257.9 680.7,280.1 680.4,280.6Z" stroke="#34433a"/><path d="M680.1,280.4L617.1,280.4 615.9,278.9 615.4,277.9 614.6,277.1 614.6,276.9 613.9,276.1 613.9,275.9 612.7,274.4 612.2,273.4 610.7,271.6 610.2,270.6 608.9,269.1 608.9,268.9 607.5,267.1 607.5,266.9 606.2,265.4 605.7,264.4 604.9,263.6 604.9,263.4 604.1,262.4 595.6,258.7 592.9,258.2 588.4,257.0 587.6,257.0 572.9,253.2 569.9,252.6 568.6,252.2 567.6,252.1 567.4,251.9 566.4,251.9 566.1,251.6 565.4,251.6 565.1,251.4 564.1,251.3 563.9,251.1 561.9,250.6 561.6,250.3 561.1,250.3 560.9,250.1 560.4,250.1 560.1,249.8 558.1,249.3 557.9,249.1 557.4,249.1 557.1,248.8 555.9,248.6 554.9,248.1 550.6,247.8 550.4,247.6 546.4,247.3 546.1,247.1 544.1,247.1 543.9,246.9 541.9,246.8 541.6,246.6 535.6,246.3 535.4,246.1 532.6,246.1 532.4,245.9 528.9,245.8 528.6,245.6 525.1,245.6 523.6,244.8 522.4,244.6 521.6,244.1 521.1,244.1 519.6,243.3 518.4,243.1 517.6,242.6 516.4,242.3 515.6,241.8 514.4,241.5 514.1,241.3 513.4,241.3 511.6,240.6 510.9,240.5 510.6,240.3 510.1,240.3 509.1,239.8 508.4,239.8 508.1,239.5 506.9,239.3 506.6,239.0 505.9,239.0 504.9,238.5 503.4,238.5 503.1,238.3 500.1,238.0 499.9,237.8 498.4,237.8 498.1,237.5 496.9,237.5 496.6,237.3 495.1,237.3 494.9,237.1 490.1,237.1 489.9,236.8 485.1,236.8 484.9,236.6 482.9,236.3 482.6,236.1 480.4,235.8 480.1,235.6 479.4,235.6 479.1,235.4 475.9,235.3 474.4,235.3 474.1,235.5 470.6,235.6 467.4,238.7 467.1,238.7 463.8,242.1 462.3,245.1 462.2,245.6 461.0,247.9 461.0,248.4 459.5,251.1 459.5,251.6 457.8,254.9 456.1,256.9 456.0,257.1 455.3,257.9 455.3,258.1 454.5,258.9 454.5,259.1 453.5,260.1 453.5,260.4 452.8,261.1 452.8,261.4 445.3,269.4 444.4,271.6 440.1,277.2 405.1,277.2 405.1,128.0 405.6,128.0 406.4,127.4 406.9,127.3 412.6,124.0 420.1,121.4 423.7,118.6 427.1,115.6 433.3,110.9 442.9,103.3 451.1,99.0 454.9,96.9 462.4,94.6 470.1,92.9 470.9,93.1 479.1,92.9 480.1,93.1 488.4,93.0 498.4,94.6 503.9,96.6 509.1,99.0 517.6,104.1 537.6,120.5 547.9,132.5 561.4,144.4 563.1,146.1 568.6,152.4 578.4,162.6 580.3,164.9 586.9,173.8 599.4,185.4 604.2,189.6 618.9,203.5 640.4,220.9 653.9,233.4 657.9,236.6 658.1,236.6 658.9,237.4 660.6,238.5 661.4,239.3 661.6,239.3 663.6,240.8 663.9,240.8 664.9,241.8 665.1,241.8 666.6,243.2 666.9,243.3 668.1,244.5 668.4,244.5 669.6,245.7 669.9,245.7 674.1,249.4 674.1,249.6 674.8,250.4 675.4,251.4 676.9,253.1 680.1,257.5 680.4,258.1 680.4,280.1 680.1,280.4Z" stroke="#34453b"/><path d="M680.1,280.2L617.1,280.2 616.0,278.9 615.5,277.9 614.8,277.1 614.8,276.9 614.0,276.1 613.5,275.1 612.8,274.4 612.3,273.4 610.8,271.6 610.3,270.6 609.0,269.1 609.0,268.9 607.6,267.1 607.6,266.9 606.3,265.4 605.8,264.4 604.3,262.6 604.3,262.4 603.4,261.7 602.9,261.7 601.1,260.7 600.6,260.7 599.4,260.0 598.9,260.0 595.9,258.5 594.1,258.3 593.9,258.0 592.9,258.0 592.6,257.8 591.9,257.8 591.6,257.5 590.9,257.5 590.6,257.3 589.9,257.3 589.6,257.0 588.9,257.0 588.6,256.8 587.6,256.8 587.4,256.5 586.6,256.5 586.4,256.3 584.6,256.0 584.4,255.8 583.6,255.8 583.4,255.5 581.6,255.3 581.4,255.0 580.6,255.0 580.4,254.8 579.6,254.7 579.4,254.5 578.4,254.5 578.1,254.3 576.4,254.0 576.1,253.8 575.4,253.7 575.1,253.5 573.4,253.2 573.1,253.0 572.1,253.0 571.9,252.7 571.1,252.7 570.9,252.5 569.9,252.5 569.6,252.2 568.9,252.2 568.6,252.0 567.6,252.0 567.4,251.7 566.4,251.7 566.1,251.5 565.4,251.5 565.1,251.2 564.1,251.2 563.9,251.0 561.9,250.5 561.6,250.2 561.1,250.2 560.9,250.0 560.4,250.0 560.1,249.7 558.1,249.2 557.9,249.0 557.4,249.0 557.1,248.7 555.9,248.5 554.9,248.0 550.6,247.7 550.4,247.5 546.4,247.2 546.1,247.0 544.1,247.0 543.9,246.7 541.9,246.7 541.6,246.5 538.9,246.5 538.6,246.2 535.6,246.2 535.4,246.0 532.6,246.0 532.4,245.7 528.9,245.7 528.6,245.5 525.1,245.5 523.6,244.7 522.4,244.5 521.6,244.0 520.4,243.7 519.6,243.2 518.4,243.0 517.6,242.5 516.4,242.2 515.6,241.7 514.4,241.4 514.1,241.2 513.4,241.2 513.1,241.0 511.9,240.7 511.6,240.5 510.9,240.4 510.6,240.2 510.1,240.2 509.1,239.7 508.4,239.7 508.1,239.4 506.9,239.2 506.6,238.9 505.9,238.9 504.9,238.4 503.4,238.4 503.1,238.2 500.1,237.9 499.9,237.7 498.4,237.7 498.1,237.4 496.9,237.4 496.6,237.2 495.1,237.2 494.9,237.0 490.1,237.0 489.9,236.7 485.1,236.7 484.9,236.5 482.9,236.2 482.6,236.0 480.4,235.7 480.1,235.5 479.4,235.5 479.1,235.2 474.4,235.2 474.1,235.4 470.6,235.5 463.7,242.1 462.2,245.1 462.2,245.6 461.0,247.9 460.9,248.4 459.5,251.1 459.5,251.6 457.7,254.9 456.0,256.9 456.0,257.1 455.2,257.9 455.2,258.1 454.5,258.9 454.5,259.1 453.5,260.1 453.5,260.4 452.7,261.1 452.7,261.4 445.2,269.4 444.4,271.6 440.1,277.2 405.1,277.1 405.1,128.1 405.6,128.1 406.4,127.5 406.9,127.5 407.6,127.0 408.9,126.7 409.6,126.2 410.1,126.2 410.9,125.7 411.4,125.7 412.1,125.2 413.4,124.9 414.1,124.4 414.6,124.4 415.4,123.9 416.6,123.7 418.6,122.7 419.1,122.7 419.9,122.2 420.4,122.2 427.4,116.0 427.6,116.0 428.6,115.0 428.9,115.0 429.6,114.2 429.9,114.2 430.9,113.2 431.1,113.2 432.1,112.2 432.4,112.2 433.1,111.5 433.4,111.5 434.4,110.5 434.6,110.5 435.6,109.5 435.9,109.5 436.9,108.5 437.1,108.5 439.6,106.2 439.9,106.2 443.1,103.5 455.1,97.4 455.9,97.4 456.1,97.2 457.1,97.2 457.4,96.9 459.1,96.7 459.4,96.4 460.1,96.4 460.4,96.2 461.4,96.2 461.6,95.9 462.4,95.9 462.6,95.7 463.4,95.7 463.6,95.4 464.6,95.4 464.9,95.2 465.6,95.2 465.9,94.9 466.6,94.9 466.9,94.7 467.6,94.7 467.9,94.4 468.9,94.4 469.1,94.2 469.9,94.2 470.1,93.9 470.4,94.2 479.1,94.2 479.4,94.4 488.1,94.4 488.4,94.7 489.4,94.7 489.6,94.9 490.4,94.9 490.6,95.2 491.6,95.2 491.9,95.4 492.9,95.4 493.1,95.7 494.1,95.7 494.4,95.9 495.1,95.9 495.4,96.2 497.6,96.4 498.4,96.9 498.9,96.9 500.1,97.7 500.6,97.7 502.4,98.7 502.9,98.7 504.1,99.4 504.6,99.4 505.9,100.2 506.4,100.2 507.9,100.9 508.4,101.4 509.6,101.9 510.1,102.4 511.4,102.9 511.9,103.4 513.1,103.9 513.6,104.4 516.1,105.7 517.6,107.2 517.9,107.2 520.6,109.9 520.9,109.9 523.6,112.6 523.9,112.6 527.4,116.1 527.6,116.1 534.9,123.1 534.9,123.4 536.9,125.6 536.9,125.9 538.1,127.1 538.1,127.4 539.1,128.4 539.1,128.6 542.1,132.1 542.1,132.4 543.4,133.6 543.4,133.9 545.1,135.9 545.4,135.9 546.1,136.6 546.4,136.6 547.4,137.6 547.6,137.6 549.4,139.1 549.6,139.1 550.6,140.1 550.9,140.1 552.6,141.6 552.9,141.6 553.6,142.4 553.9,142.4 554.9,143.4 555.1,143.4 556.9,144.9 557.1,144.9 558.1,145.9 558.4,145.9 559.1,146.6 559.4,146.6 577.9,166.9 577.9,167.1 578.6,167.9 578.6,168.1 579.4,168.9 579.4,169.1 580.1,169.9 580.1,170.1 580.9,170.9 580.9,171.1 581.6,171.9 581.6,172.1 582.4,172.9 582.4,173.1 583.1,173.9 583.1,174.1 583.9,174.9 583.9,175.1 587.9,178.9 588.1,178.9 590.4,181.1 590.6,181.1 592.9,183.4 593.1,183.4 595.4,185.6 595.6,185.6 597.9,187.9 598.1,187.9 600.1,189.9 600.4,189.9 602.1,191.6 602.4,191.6 604.1,193.4 604.4,193.4 606.1,195.1 606.4,195.1 608.1,196.9 608.4,196.9 609.9,198.4 610.1,198.4 611.9,200.2 612.1,200.2 613.9,201.9 614.1,201.9 615.9,203.7 616.1,203.7 619.4,206.7 619.6,206.7 620.4,207.4 620.6,207.4 621.4,208.2 621.6,208.2 622.4,208.9 622.6,208.9 623.4,209.7 623.6,209.7 625.4,211.2 625.6,211.2 626.4,211.9 626.6,211.9 627.4,212.7 627.6,212.7 628.4,213.4 629.4,213.9 630.1,214.7 630.4,214.7 631.1,215.4 631.4,215.4 632.1,216.2 632.4,216.2 633.1,216.9 633.4,216.9 634.1,217.7 634.4,217.7 635.1,218.4 635.4,218.4 637.1,219.9 637.4,219.9 638.1,220.7 638.4,220.7 653.9,234.0 654.1,234.0 654.6,234.5 655.6,235.0 656.4,235.7 656.6,235.8 657.1,236.3 658.1,236.8 658.9,237.5 659.1,237.5 659.6,238.1 660.6,238.6 661.4,239.4 661.6,239.4 663.6,240.9 663.9,240.9 674.0,249.4 674.0,249.6 674.7,250.4 675.2,251.4 676.7,253.1 677.2,254.1 678.0,254.9 678.5,255.9 679.3,256.6 679.3,256.9 680.2,258.1 680.1,280.2Z" stroke="#34463c"/></g><path d="M680.1,280.2L617.1,280.2 616.0,278.9 615.5,277.9 614.8,277.1 614.8,276.9 614.0,276.1 613.5,275.1 612.8,274.4 612.3,273.4 610.8,271.6 610.3,270.6 609.0,269.1 609.0,268.9 607.6,267.1 607.6,266.9 606.3,265.4 605.8,264.4 604.3,262.6 604.3,262.4 603.4,261.7 602.9,261.7 601.1,260.7 600.6,260.7 599.4,260.0 598.9,260.0 595.9,258.5 594.1,258.3 593.9,258.0 592.9,258.0 592.6,257.8 591.9,257.8 591.6,257.5 590.9,257.5 590.6,257.3 589.9,257.3 589.6,257.0 588.9,257.0 588.6,256.8 587.6,256.8 587.4,256.5 586.6,256.5 586.4,256.3 584.6,256.0 584.4,255.8 583.6,255.8 583.4,255.5 581.6,255.3 581.4,255.0 580.6,255.0 580.4,254.8 579.6,254.7 579.4,254.5 578.4,254.5 578.1,254.3 576.4,254.0 576.1,253.8 575.4,253.7 575.1,253.5 573.4,253.2 573.1,253.0 572.1,253.0 571.9,252.7 571.1,252.7 570.9,252.5 569.9,252.5 569.6,252.2 568.9,252.2 568.6,252.0 567.6,252.0 567.4,251.7 566.4,251.7 566.1,251.5 565.4,251.5 565.1,251.2 564.1,251.2 563.9,251.0 561.9,250.5 561.6,250.2 561.1,250.2 560.9,250.0 560.4,250.0 560.1,249.7 558.1,249.2 557.9,249.0 557.4,249.0 557.1,248.7 555.9,248.5 554.9,248.0 550.6,247.7 550.4,247.5 546.4,247.2 546.1,247.0 544.1,247.0 543.9,246.7 541.9,246.7 541.6,246.5 538.9,246.5 538.6,246.2 535.6,246.2 535.4,246.0 532.6,246.0 532.4,245.7 528.9,245.7 528.6,245.5 525.1,245.5 523.6,244.7 522.4,244.5 521.6,244.0 520.4,243.7 519.6,243.2 518.4,243.0 517.6,242.5 516.4,242.2 515.6,241.7 514.4,241.4 514.1,241.2 513.4,241.2 513.1,241.0 511.9,240.7 511.6,240.5 510.9,240.4 510.6,240.2 510.1,240.2 509.1,239.7 508.4,239.7 508.1,239.4 506.9,239.2 506.6,238.9 505.9,238.9 504.9,238.4 503.4,238.4 503.1,238.2 500.1,237.9 499.9,237.7 498.4,237.7 498.1,237.4 496.9,237.4 496.6,237.2 495.1,237.2 494.9,237.0 490.1,237.0 489.9,236.7 485.1,236.7 484.9,236.5 482.9,236.2 482.6,236.0 480.4,235.7 480.1,235.5 479.4,235.5 479.1,235.2 474.4,235.2 474.1,235.4 470.6,235.5 463.7,242.1 462.2,245.1 462.2,245.6 461.0,247.9 460.9,248.4 459.5,251.1 459.5,251.6 457.7,254.9 456.0,256.9 456.0,257.1 455.2,257.9 455.2,258.1 454.5,258.9 454.5,259.1 453.5,260.1 453.5,260.4 452.7,261.1 452.7,261.4 445.2,269.4 444.4,271.6 440.1,277.2 405.1,277.1 405.1,128.1 405.6,128.1 406.4,127.5 406.9,127.5 407.6,127.0 408.9,126.7 409.6,126.2 410.1,126.2 410.9,125.7 411.4,125.7 412.1,125.2 413.4,124.9 414.1,124.4 414.6,124.4 415.4,123.9 416.6,123.7 418.6,122.7 419.1,122.7 419.9,122.2 420.4,122.2 427.4,116.0 427.6,116.0 428.6,115.0 428.9,115.0 429.6,114.2 429.9,114.2 430.9,113.2 431.1,113.2 432.1,112.2 432.4,112.2 433.1,111.5 433.4,111.5 434.4,110.5 434.6,110.5 435.6,109.5 435.9,109.5 436.9,108.5 437.1,108.5 439.6,106.2 439.9,106.2 443.1,103.5 455.1,97.4 455.9,97.4 456.1,97.2 457.1,97.2 457.4,96.9 459.1,96.7 459.4,96.4 460.1,96.4 460.4,96.2 461.4,96.2 461.6,95.9 462.4,95.9 462.6,95.7 463.4,95.7 463.6,95.4 464.6,95.4 464.9,95.2 465.6,95.2 465.9,94.9 466.6,94.9 466.9,94.7 467.6,94.7 467.9,94.4 468.9,94.4 469.1,94.2 469.9,94.2 470.1,93.9 470.4,94.2 479.1,94.2 479.4,94.4 488.1,94.4 488.4,94.7 489.4,94.7 489.6,94.9 490.4,94.9 490.6,95.2 491.6,95.2 491.9,95.4 492.9,95.4 493.1,95.7 494.1,95.7 494.4,95.9 495.1,95.9 495.4,96.2 497.6,96.4 498.4,96.9 498.9,96.9 500.1,97.7 500.6,97.7 502.4,98.7 502.9,98.7 504.1,99.4 504.6,99.4 505.9,100.2 506.4,100.2 507.9,100.9 508.4,101.4 509.6,101.9 510.1,102.4 511.4,102.9 511.9,103.4 513.1,103.9 513.6,104.4 516.1,105.7 517.6,107.2 517.9,107.2 520.6,109.9 520.9,109.9 523.6,112.6 523.9,112.6 527.4,116.1 527.6,116.1 534.9,123.1 534.9,123.4 536.9,125.6 536.9,125.9 538.1,127.1 538.1,127.4 539.1,128.4 539.1,128.6 542.1,132.1 542.1,132.4 543.4,133.6 543.4,133.9 545.1,135.9 545.4,135.9 546.1,136.6 546.4,136.6 547.4,137.6 547.6,137.6 549.4,139.1 549.6,139.1 550.6,140.1 550.9,140.1 552.6,141.6 552.9,141.6 553.6,142.4 553.9,142.4 554.9,143.4 555.1,143.4 556.9,144.9 557.1,144.9 558.1,145.9 558.4,145.9 559.1,146.6 559.4,146.6 577.9,166.9 577.9,167.1 578.6,167.9 578.6,168.1 579.4,168.9 579.4,169.1 580.1,169.9 580.1,170.1 580.9,170.9 580.9,171.1 581.6,171.9 581.6,172.1 582.4,172.9 582.4,173.1 583.1,173.9 583.1,174.1 583.9,174.9 583.9,175.1 587.9,178.9 588.1,178.9 590.4,181.1 590.6,181.1 592.9,183.4 593.1,183.4 595.4,185.6 595.6,185.6 597.9,187.9 598.1,187.9 600.1,189.9 600.4,189.9 602.1,191.6 602.4,191.6 604.1,193.4 604.4,193.4 606.1,195.1 606.4,195.1 608.1,196.9 608.4,196.9 609.9,198.4 610.1,198.4 611.9,200.2 612.1,200.2 613.9,201.9 614.1,201.9 615.9,203.7 616.1,203.7 619.4,206.7 619.6,206.7 620.4,207.4 620.6,207.4 621.4,208.2 621.6,208.2 622.4,208.9 622.6,208.9 623.4,209.7 623.6,209.7 625.4,211.2 625.6,211.2 626.4,211.9 626.6,211.9 627.4,212.7 627.6,212.7 628.4,213.4 629.4,213.9 630.1,214.7 630.4,214.7 631.1,215.4 631.4,215.4 632.1,216.2 632.4,216.2 633.1,216.9 633.4,216.9 634.1,217.7 634.4,217.7 635.1,218.4 635.4,218.4 637.1,219.9 637.4,219.9 638.1,220.7 638.4,220.7 653.9,234.0 654.1,234.0 654.6,234.5 655.6,235.0 656.4,235.7 656.6,235.8 657.1,236.3 658.1,236.8 658.9,237.5 659.1,237.5 659.6,238.1 660.6,238.6 661.4,239.4 661.6,239.4 663.6,240.9 663.9,240.9 674.0,249.4 674.0,249.6 674.7,250.4 675.2,251.4 676.7,253.1 677.2,254.1 678.0,254.9 678.5,255.9 679.3,256.6 679.3,256.9 680.2,258.1 680.1,280.2Z" fill="#34463c" fill-rule="evenodd"/><path d="M677.1,276.7L676.6,276.7 672.4,275.0 663.9,271.0 649.4,263.5 625.6,250.7 612.6,244.6 612.1,244.4 607.6,245.0 605.4,245.1 595.4,244.9 585.6,244.1 574.6,242.5 566.6,241.1 548.4,236.7 537.9,233.9 529.4,231.3 518.9,230.2 505.4,227.9 492.4,225.1 482.1,222.3 481.9,222.5 481.0,225.6 480.2,227.9 479.2,229.6 478.2,230.9 476.4,232.3 473.4,233.6 470.4,234.2 469.9,234.4 463.1,241.4 461.5,244.6 458.5,251.6 456.9,254.6 452.0,261.1 444.9,268.9 443.8,271.4 439.9,276.5 430.9,276.5 423.1,276.0 417.1,275.2 414.9,274.5 413.1,273.8 411.8,272.9 410.6,271.8 410.1,269.6 409.7,265.6 409.6,261.1 407.3,240.9 406.9,235.4 406.8,225.9 407.5,188.4 407.8,182.4 408.5,176.9 407.7,173.4 407.1,169.4 406.3,159.1 406.1,143.1 406.6,129.4 412.9,126.9 421.5,123.9 428.9,118.9 440.4,112.8 445.7,107.4 450.4,104.1 456.1,100.6 461.4,99.0 468.9,97.1 470.1,96.9 477.6,96.8 479.4,97.0 487.1,97.2 493.1,98.4 496.9,99.3 505.6,102.8 513.6,107.0 515.1,107.9 520.0,111.9 526.2,117.4 527.0,117.9 533.3,123.6 544.4,136.7 559.1,147.9 576.7,167.1 583.1,175.8 584.7,177.4 585.4,177.9 594.6,186.5 595.2,186.9 597.1,188.9 597.6,189.1 599.3,190.9 599.9,191.2 607.1,198.0 609.4,199.9 616.6,207.0 623.4,212.9 628.6,217.9 631.0,220.6 632.6,222.8 634.0,225.1 634.6,226.5 635.1,228.4 635.1,230.9 634.7,232.9 633.7,234.9 668.6,253.9 672.9,256.6 676.9,259.4 677.9,260.9 678.7,262.9 679.2,265.6 679.4,268.9 679.3,272.4 678.9,274.8 678.1,276.1 677.1,276.7Z" fill="#34493d" fill-rule="evenodd"/><path d="M439.1,275.5L429.6,275.2 421.4,274.0 418.6,273.2 416.1,272.2 413.9,270.9 412.5,269.6 412.0,265.6 411.9,261.1 409.1,237.9 408.7,230.9 408.7,225.4 409.7,187.6 410.2,181.4 411.1,175.6 410.0,171.6 409.1,167.1 408.4,162.1 408.0,156.1 407.7,149.4 407.8,142.4 408.2,136.1 408.8,130.9 413.4,129.1 422.6,125.8 430.6,121.0 444.1,114.1 447.9,110.4 452.9,106.7 457.1,104.0 461.9,102.2 468.6,100.3 470.6,99.9 473.4,99.8 477.6,99.7 479.1,99.9 486.6,100.0 496.9,102.3 504.9,105.4 513.4,109.8 521.9,116.4 531.8,124.9 543.4,137.8 558.6,149.5 575.6,168.1 582.1,176.9 604.6,198.4 610.0,203.9 619.4,213.9 621.9,216.8 624.4,220.1 626.7,224.1 627.5,226.1 628.0,228.4 628.1,230.4 628.0,231.9 634.0,235.9 657.9,249.0 666.9,254.2 672.9,258.2 675.1,259.9 676.6,262.1 677.6,264.9 678.0,268.1 677.9,270.1 677.6,271.6 677.1,272.9 676.5,273.6 675.6,274.2 674.4,274.3 672.1,273.5 664.4,270.3 654.9,265.7 650.2,263.4 625.9,250.2 606.9,241.1 599.1,241.9 595.1,241.7 585.4,240.9 572.9,239.0 567.4,238.0 557.6,235.7 546.6,233.3 538.1,231.2 531.1,229.3 523.9,228.7 511.9,226.9 492.6,223.1 487.6,222.0 480.9,220.0 478.8,224.9 477.7,226.6 476.6,228.0 475.4,229.2 472.9,231.1 470.1,232.2 469.0,232.9 466.1,236.3 462.1,240.6 460.4,244.1 457.4,251.1 455.9,253.9 451.0,260.6 444.0,268.4 442.9,270.9 439.1,275.5Z" fill="#344c3f" fill-rule="evenodd"/><path d="M438.9,274.4L438.6,274.6 436.6,274.5 431.1,274.2 427.6,273.8 422.9,272.9 420.1,272.1 417.6,271.1 415.4,269.7 413.8,268.4 413.5,264.9 413.4,261.1 411.3,242.6 410.5,237.4 410.0,230.4 410.0,225.6 411.2,187.4 411.7,181.1 412.8,174.9 411.5,170.6 410.5,166.1 409.7,160.9 409.2,155.1 409.1,148.6 409.2,142.4 409.6,136.9 410.4,132.1 410.6,131.9 414.1,130.5 423.4,127.2 431.7,122.4 446.1,115.1 450.4,111.5 458.1,106.1 462.4,104.5 469.9,102.2 470.9,102.0 475.9,101.8 486.4,102.0 487.6,102.2 495.4,103.9 503.9,107.0 512.5,111.4 517.6,115.2 524.9,120.9 530.6,125.7 542.4,138.6 557.6,150.2 574.5,168.6 581.2,177.6 593.4,189.5 606.9,203.4 610.6,207.6 616.1,214.4 619.9,219.6 622.2,224.1 622.9,226.6 623.2,229.4 623.5,229.6 633.6,236.3 658.9,250.4 667.1,255.3 670.4,257.5 673.9,260.2 674.8,261.4 676.1,264.4 676.7,267.6 676.6,269.4 676.3,270.6 675.6,271.7 674.8,272.4 673.9,272.7 672.9,272.8 669.4,271.5 661.1,268.0 651.4,263.4 626.1,249.8 601.9,238.1 593.9,238.7 585.9,238.6 573.4,236.9 567.9,236.0 558.2,233.6 541.4,230.1 538.6,229.4 532.6,227.4 524.6,227.2 514.9,225.8 492.6,221.6 487.6,220.5 480.1,218.4 479.9,218.5 477.8,223.1 475.6,226.2 472.6,229.0 469.6,230.7 468.4,231.7 465.4,235.4 461.2,240.1 459.4,243.9 456.5,250.6 455.1,253.4 450.2,260.1 443.3,267.9 442.1,270.4 438.9,274.4Z" fill="#344f40" fill-rule="evenodd"/><path d="M438.4,273.6L435.1,273.6 431.1,273.3 423.6,271.9 420.9,271.0 418.6,270.0 416.6,268.8 414.9,267.4 414.5,261.1 412.4,242.1 411.5,236.6 411.1,230.1 412.3,187.4 412.9,180.9 414.1,174.4 412.8,170.1 411.7,165.6 410.9,160.6 410.4,155.1 410.2,149.1 410.3,143.4 410.8,138.1 411.6,133.6 411.8,132.9 412.1,132.7 424.3,128.1 432.6,123.3 448.1,115.7 450.6,113.5 458.6,108.0 464.4,105.7 470.1,104.0 471.9,103.7 477.1,103.4 486.1,103.6 491.9,104.7 495.6,105.6 503.4,108.5 510.6,112.0 513.4,113.8 519.9,118.6 528.9,125.9 533.1,130.2 541.7,139.4 556.9,150.9 573.8,169.4 580.4,178.4 592.6,190.6 602.5,201.1 609.3,209.1 615.1,217.4 616.6,219.9 617.8,222.4 618.8,225.1 619.2,227.4 633.6,236.9 657.1,250.1 666.9,256.0 673.1,260.7 674.2,262.4 674.8,263.9 675.3,265.6 675.5,267.1 675.4,268.6 674.9,270.0 674.1,270.9 672.9,271.4 671.4,271.5 665.6,269.3 652.4,263.4 626.4,249.4 596.9,235.2 590.1,235.6 582.9,235.5 575.4,235.0 567.4,233.9 551.4,230.6 542.6,228.2 533.9,225.4 523.6,225.4 519.1,225.1 515.4,224.6 501.1,222.0 490.3,219.9 479.1,216.5 478.9,216.6 478.7,218.4 477.9,220.1 476.6,222.4 475.2,224.4 472.4,227.4 469.1,229.6 467.6,230.9 464.9,234.5 460.5,239.6 458.7,243.4 455.7,250.4 454.4,252.9 449.6,259.6 442.8,267.4 441.5,269.9 438.4,273.6Z" fill="#345241" fill-rule="evenodd"/><path d="M437.9,272.9L431.4,272.4 427.4,271.8 424.1,271.0 421.4,270.1 419.1,269.0 417.0,267.6 415.7,266.4 415.5,261.1 413.2,241.6 412.4,236.4 412.0,229.9 413.2,187.4 413.8,181.4 415.2,173.9 413.8,169.6 412.7,165.1 411.9,160.4 411.4,155.1 411.2,149.6 411.3,144.4 411.8,139.4 412.5,135.1 413.0,133.6 424.6,129.2 434.6,123.5 449.4,116.3 453.6,113.2 459.1,109.5 465.6,106.9 470.4,105.5 472.1,105.2 476.9,104.9 486.9,105.1 494.6,106.7 502.6,109.6 509.9,113.1 512.6,114.8 519.2,119.6 528.1,126.6 532.4,130.9 541.0,140.1 556.2,151.6 566.0,162.1 572.9,169.9 579.7,179.1 589.6,189.1 599.7,200.1 606.4,208.2 611.0,215.1 613.6,219.6 614.7,222.1 615.5,224.9 615.1,225.4 633.4,237.3 656.6,250.5 666.4,256.4 672.2,260.9 673.7,263.6 674.3,266.4 674.2,267.9 673.6,269.2 672.6,270.1 671.1,270.5 670.4,270.5 662.6,267.5 653.4,263.4 626.6,248.9 592.6,232.5 586.1,232.7 579.9,232.6 573.1,232.1 565.9,231.2 558.4,229.8 550.9,228.1 543.1,226.0 534.9,223.5 529.4,223.8 523.4,223.7 517.1,223.3 510.8,222.6 500.9,220.9 494.9,219.6 486.9,217.4 478.1,214.7 477.5,218.4 475.5,221.9 472.1,225.9 468.6,228.6 467.1,230.0 464.3,233.9 459.9,239.1 458.0,243.1 455.0,250.1 453.8,252.4 449.1,259.1 442.2,266.9 440.8,269.6 437.9,272.9Z" fill="#345543" fill-rule="evenodd"/><path d="M437.4,272.1L430.4,271.5 424.6,270.2 422.1,269.3 419.9,268.2 417.9,266.9 416.5,265.6 416.4,261.4 414.0,241.1 413.2,235.9 412.8,229.6 414.0,187.4 414.7,181.1 416.1,173.6 414.5,168.6 413.6,164.6 412.8,159.9 412.3,155.1 412.1,149.9 412.2,144.9 412.7,140.1 413.5,136.1 413.9,134.5 414.1,134.3 425.1,129.9 435.4,124.2 444.9,119.5 450.6,116.8 459.6,110.7 465.9,108.2 470.6,106.7 476.9,106.2 485.4,106.2 486.9,106.4 494.4,107.8 502.1,110.6 509.4,114.1 511.9,115.6 518.6,120.5 527.4,127.4 540.4,140.7 555.4,152.1 570.4,168.4 572.4,170.6 578.9,179.6 586.4,187.4 593.4,194.9 598.9,201.2 603.8,207.4 608.3,214.4 610.8,219.4 611.9,222.1 611.9,222.4 610.8,223.1 611.0,223.4 633.1,237.6 656.4,250.9 665.9,256.7 671.5,261.1 672.8,263.6 673.2,265.9 673.1,267.4 672.4,268.6 671.1,269.3 669.6,269.6 659.1,265.5 654.3,263.4 626.9,248.5 588.6,229.9 582.1,230.0 576.6,229.8 570.4,229.3 564.1,228.5 557.4,227.3 550.4,225.7 543.1,223.8 535.9,221.6 529.4,222.1 522.6,222.1 515.4,221.7 507.9,220.8 500.6,219.5 492.9,217.7 485.1,215.6 477.4,213.1 477.1,213.4 476.4,218.4 475.1,220.6 471.9,224.6 468.4,227.6 466.6,229.3 463.9,233.2 459.4,238.6 458.8,239.6 454.4,249.9 453.4,251.9 448.6,258.6 441.6,266.6 439.9,269.6 437.4,272.1Z" fill="#345844" fill-rule="evenodd"/><path d="M437.1,271.4L430.4,270.8 424.9,269.5 422.4,268.5 420.4,267.4 418.4,266.0 417.2,264.9 417.1,261.4 414.7,240.9 413.9,235.6 413.5,229.6 414.7,187.4 415.4,181.1 416.9,173.1 415.5,168.9 414.4,164.6 413.7,160.1 413.1,155.4 412.9,150.4 413.0,145.6 413.5,141.1 414.3,137.1 414.8,135.1 415.1,134.9 425.4,130.7 435.9,124.8 445.4,120.1 451.9,117.2 460.1,111.8 466.1,109.4 470.9,107.9 476.9,107.3 486.6,107.5 494.1,108.9 501.6,111.5 508.9,114.9 511.2,116.4 517.9,121.1 526.9,128.1 539.9,141.4 554.9,152.7 569.9,169.0 571.7,171.1 578.4,180.4 585.9,188.2 592.6,195.7 598.1,202.3 602.6,208.4 605.7,213.4 607.0,215.9 608.5,219.4 608.5,219.9 606.7,221.1 606.9,221.4 632.9,238.0 656.1,251.3 665.4,257.0 670.8,261.4 671.8,263.4 672.2,265.4 671.9,266.9 671.2,267.9 670.1,268.5 668.6,268.7 662.9,266.5 656.1,263.7 627.1,248.1 584.6,227.3 578.4,227.4 573.4,227.2 567.9,226.7 562.1,225.9 556.1,224.8 549.9,223.5 536.6,219.8 529.9,220.5 522.9,220.6 515.4,220.2 507.6,219.3 500.1,218.0 492.4,216.3 484.4,214.0 476.6,211.5 476.4,211.6 475.4,218.4 474.8,219.4 471.9,223.2 467.9,226.9 466.1,228.7 463.4,232.7 458.9,238.3 458.2,239.4 453.8,249.6 452.8,251.6 448.0,258.4 441.2,266.1 439.4,269.1 437.1,271.4Z" fill="#345b45" fill-rule="evenodd"/><path d="M436.9,270.7L431.1,270.2 425.6,268.9 421.4,267.0 419.6,265.9 417.9,264.4 417.8,261.4 415.4,240.6 414.5,235.4 414.1,229.6 415.4,187.4 416.1,181.4 417.7,172.9 416.2,168.4 415.2,164.4 414.4,160.1 413.9,155.4 413.7,150.6 413.8,146.1 414.2,141.9 415.0,137.9 415.6,135.7 415.9,135.4 425.6,131.5 433.1,127.1 440.4,123.4 449.4,119.1 453.2,117.6 460.4,112.9 466.4,110.5 471.1,108.9 476.6,108.4 486.4,108.4 493.9,109.8 501.4,112.5 508.4,115.7 510.6,117.1 517.4,121.9 526.4,128.8 539.4,142.0 554.4,153.3 564.0,163.6 571.0,171.6 577.6,180.8 589.8,194.1 595.6,201.1 600.4,207.6 603.2,212.1 605.5,217.1 602.8,219.1 602.8,219.4 632.6,238.3 655.9,251.7 664.9,257.3 670.1,261.6 670.9,263.4 671.1,264.9 670.9,266.1 670.2,267.1 669.1,267.7 667.9,267.9 656.3,263.4 627.4,247.7 580.6,224.8 570.6,224.6 560.4,223.4 549.1,221.2 537.4,218.0 530.6,218.9 523.4,219.2 515.6,218.9 507.6,218.0 499.9,216.7 492.1,215.0 484.1,212.7 475.9,210.0 475.6,210.1 474.4,218.4 471.6,222.2 465.9,227.9 462.9,232.3 458.5,237.9 457.6,239.3 452.4,251.1 447.6,257.9 440.8,265.6 438.9,268.8 436.9,270.7Z" fill="#355e47" fill-rule="evenodd"/><path d="M436.4,270.1L430.6,269.5 425.6,268.1 423.4,267.2 421.5,266.1 419.6,264.8 418.5,263.6 418.5,261.4 416.0,240.4 415.1,234.6 414.7,229.4 416.0,187.6 416.7,181.4 418.4,172.6 416.8,167.9 415.9,164.1 415.1,159.6 414.6,155.4 414.4,150.9 414.6,146.4 415.0,142.1 415.8,138.4 416.4,136.3 416.6,136.0 426.1,132.0 435.4,126.7 447.9,120.5 450.6,119.4 455.0,118.4 461.1,113.6 466.9,111.3 471.4,109.9 476.6,109.4 486.1,109.4 493.4,110.6 500.9,113.2 507.9,116.4 510.1,117.8 516.9,122.5 525.8,129.4 538.9,142.5 553.9,153.9 563.4,164.1 570.4,172.0 576.9,181.2 584.6,189.6 589.1,194.8 594.9,202.0 599.4,208.6 600.8,210.9 602.6,214.6 598.8,217.4 632.4,238.7 655.6,252.1 664.1,257.4 669.4,261.8 669.9,263.1 670.1,264.4 669.9,265.5 669.2,266.4 668.4,266.9 667.1,267.1 657.2,263.4 627.6,247.3 576.9,222.4 568.1,222.1 558.6,221.0 548.6,219.0 537.9,216.2 531.1,217.3 523.9,217.8 515.9,217.6 507.6,216.8 499.9,215.5 491.9,213.7 483.6,211.4 475.1,208.6 474.9,208.8 473.3,218.6 471.4,221.3 465.4,227.5 462.4,231.9 457.9,237.8 455.8,241.9 452.2,250.4 448.9,255.2 447.1,257.6 440.1,265.4 438.4,268.4 436.4,270.1Z" fill="#356148" fill-rule="evenodd"/><path d="M436.4,269.4L435.4,269.5 431.6,269.0 428.9,268.4 426.3,267.6 424.1,266.7 422.1,265.6 420.4,264.4 419.1,263.1 419.1,261.4 416.5,240.1 415.7,234.9 415.3,229.4 416.5,187.6 417.2,181.6 419.0,172.4 417.5,167.6 416.5,163.9 415.7,159.6 415.3,155.4 415.1,151.1 415.2,146.9 415.6,142.9 416.4,139.1 417.1,136.6 417.4,136.5 426.6,132.5 435.6,127.3 443.9,123.1 448.9,120.8 456.8,119.1 463.4,114.5 467.4,112.1 471.6,110.8 476.6,110.3 486.1,110.2 493.1,111.4 500.6,114.0 507.6,117.2 509.5,118.4 516.3,123.1 525.3,129.9 538.4,143.0 553.4,154.4 562.9,164.6 569.9,172.6 576.4,181.9 584.1,190.4 590.6,198.3 595.6,205.1 598.6,209.9 599.7,212.1 597.9,213.6 595.0,215.6 632.1,239.1 636.4,241.3 655.2,252.4 663.9,257.9 668.5,261.9 668.9,262.6 669.1,263.9 668.9,264.9 668.3,265.6 667.5,266.1 666.4,266.4 658.2,263.4 627.6,246.8 576.1,221.4 572.4,220.3 570.9,220.0 562.4,219.4 555.4,218.4 547.1,216.7 538.4,214.4 531.6,215.8 524.1,216.4 515.9,216.3 507.1,215.5 499.4,214.2 491.4,212.4 482.9,210.1 474.4,207.2 474.2,207.6 472.5,218.6 470.9,220.6 465.1,226.8 462.1,231.3 457.4,237.6 455.4,241.6 451.7,250.1 448.5,254.9 446.6,257.4 444.5,259.9 439.6,265.1 437.9,267.9 436.4,269.4Z" fill="#356449" fill-rule="evenodd"/><path d="M435.9,268.9L430.9,268.3 426.4,267.0 422.6,265.1 419.7,262.6 417.0,239.9 416.2,234.6 415.8,229.4 417.1,187.6 417.7,181.9 419.6,171.9 418.3,168.1 417.2,164.1 416.4,159.9 415.9,155.6 415.7,151.4 415.9,147.1 416.3,143.1 417.0,139.6 417.9,137.0 426.9,133.0 436.1,127.6 445.6,122.9 447.1,122.3 450.9,121.3 458.4,119.9 464.4,116.1 468.6,113.8 472.6,112.2 476.6,111.1 485.9,111.0 492.9,112.2 500.1,114.7 507.1,117.8 509.1,119.0 515.9,123.7 524.7,130.4 537.8,143.4 551.1,153.4 552.9,154.8 555.1,157.1 567.5,170.9 569.9,173.9 575.9,182.4 583.4,190.9 587.9,196.3 593.2,203.6 596.9,209.6 594.9,211.4 591.3,213.6 591.2,213.9 631.9,239.6 638.1,242.8 654.9,252.7 659.9,255.9 663.7,258.4 665.4,259.8 667.8,262.1 668.0,263.1 667.9,264.1 667.5,264.9 666.6,265.4 665.6,265.7 659.2,263.4 628.1,246.4 576.4,220.9 565.1,217.6 557.9,216.7 552.1,215.8 545.6,214.4 538.9,212.7 531.9,214.3 524.4,215.1 516.1,215.1 507.1,214.3 499.1,213.1 490.9,211.2 482.4,208.8 473.6,205.9 471.6,218.6 464.9,226.2 461.8,230.9 456.9,237.4 455.0,241.4 451.3,249.9 448.0,254.6 446.3,256.9 444.1,259.4 441.4,262.1 439.1,264.8 437.3,267.6 435.9,268.9Z" fill="#35674b" fill-rule="evenodd"/><path d="M435.9,268.1L435.6,268.4 431.9,267.9 429.1,267.2 426.6,266.4 424.5,265.4 422.6,264.2 420.9,262.8 420.2,261.9 417.5,239.6 416.7,234.6 416.3,229.1 417.6,187.6 418.2,181.9 420.1,171.9 418.6,167.1 417.7,163.4 416.9,159.1 416.5,154.6 416.4,150.4 416.6,146.1 417.2,142.1 418.0,138.6 418.6,137.4 427.1,133.5 436.4,128.1 444.9,123.9 452.6,121.8 460.1,120.6 467.9,116.3 471.1,114.9 474.1,113.8 478.9,112.8 483.9,112.4 488.6,112.5 493.1,113.1 499.9,115.4 506.9,118.5 508.6,119.6 515.4,124.2 524.4,131.0 537.4,143.9 552.4,155.3 561.9,165.5 568.7,173.4 575.3,182.9 585.1,194.3 589.3,199.9 592.6,204.6 594.0,206.9 594.1,207.1 593.9,207.4 591.4,209.6 587.5,211.9 587.4,212.1 631.6,240.1 639.9,244.4 655.9,253.8 663.4,258.8 665.8,261.1 667.1,262.6 667.0,263.4 666.6,264.1 666.0,264.6 665.1,264.9 660.3,263.4 628.4,245.9 576.9,220.6 557.9,214.8 547.9,213.0 539.1,210.9 532.1,212.8 524.6,213.8 516.1,213.9 507.1,213.2 499.1,212.0 490.6,210.1 482.1,207.7 473.1,204.7 472.9,204.9 470.8,218.6 464.4,225.9 461.4,230.5 456.5,237.1 454.5,241.1 451.0,249.4 448.3,253.4 445.9,256.6 438.7,264.4 436.7,267.4 435.9,268.1Z" fill="#356a4c" fill-rule="evenodd"/><path d="M435.4,267.8L430.9,267.1 426.9,265.8 423.4,263.9 420.8,261.6 418.0,239.4 417.2,235.1 416.9,231.1 416.8,227.1 418.0,188.4 418.6,182.4 420.6,171.6 419.2,167.1 418.2,163.1 417.4,158.9 417.0,154.6 416.9,150.4 417.2,146.1 417.8,142.4 418.7,138.9 419.1,137.8 427.4,134.0 435.1,129.4 443.4,125.2 453.1,122.6 457.1,121.9 461.6,121.4 469.1,117.7 475.1,115.6 479.6,114.7 484.4,114.3 488.4,114.4 492.6,114.8 497.6,115.7 500.9,116.6 506.4,119.0 508.1,120.1 514.9,124.7 523.9,131.4 537.1,144.4 550.3,154.4 551.9,155.7 554.1,157.9 561.4,165.9 568.3,173.9 574.7,183.4 582.4,192.3 586.5,197.6 590.3,203.1 591.2,204.9 589.8,206.4 588.1,207.7 585.9,209.1 583.6,210.2 583.6,210.4 631.1,240.5 641.9,246.1 654.6,253.6 662.8,259.1 665.0,261.4 666.0,262.9 665.4,263.8 664.4,264.3 661.5,263.4 628.6,245.3 576.9,220.0 567.6,217.3 554.1,213.2 538.1,209.8 537.4,209.8 534.1,210.9 530.6,211.7 524.4,212.5 516.9,212.8 508.9,212.3 500.4,211.1 491.4,209.3 482.4,206.8 472.4,203.4 470.0,218.6 464.1,225.4 461.1,230.0 456.1,236.9 454.1,240.9 450.8,248.6 449.6,250.6 445.4,256.4 438.4,263.8 436.1,267.1 435.4,267.8Z" fill="#356d4e" fill-rule="evenodd"/><path d="M435.1,267.2L431.1,266.6 427.1,265.2 423.9,263.4 421.2,261.1 418.5,239.4 417.7,234.6 417.3,230.9 417.3,227.1 418.4,188.4 419.1,182.6 421.1,171.4 419.7,166.9 418.7,163.1 418.0,158.9 417.6,154.6 417.5,150.4 417.7,146.4 418.3,142.6 419.2,139.1 419.7,138.1 427.6,134.4 435.4,129.8 441.9,126.5 448.1,124.6 453.4,123.4 458.4,122.6 463.1,122.2 470.4,119.0 476.1,117.2 480.4,116.4 484.9,116.1 489.6,116.3 494.9,116.9 500.4,118.1 506.1,119.7 514.4,125.1 523.4,131.8 536.6,144.8 549.9,154.8 551.5,156.1 553.6,158.3 566.0,172.1 568.3,175.1 574.2,183.9 579.8,190.4 583.9,195.6 587.9,201.2 588.5,202.4 586.9,204.1 585.1,205.6 583.1,206.9 580.6,208.1 582.6,210.5 630.9,241.3 645.6,248.9 654.1,253.9 662.4,259.6 663.7,261.4 664.3,262.6 664.2,263.1 663.9,263.4 663.6,263.5 662.8,263.4 629.1,244.7 577.1,219.4 567.9,216.9 554.1,212.7 535.9,208.9 529.4,210.5 522.9,211.4 515.6,211.6 507.6,211.1 499.1,209.9 490.4,208.0 481.4,205.5 471.9,202.3 471.7,202.6 471.2,205.1 469.2,218.6 463.7,225.1 460.8,229.6 455.6,236.9 453.7,240.9 450.4,248.4 449.2,250.4 445.1,256.0 442.9,258.5 438.0,263.4 435.6,266.7 435.1,267.2Z" fill="#35704f" fill-rule="evenodd"/><path d="M434.6,266.6L430.6,265.8 427.1,264.6 424.4,263.0 421.5,260.6 418.9,239.1 418.0,234.1 417.7,227.1 418.9,188.4 419.5,182.6 421.6,171.1 420.2,166.9 419.3,163.1 418.5,158.9 418.1,154.9 418.0,150.9 418.3,146.9 418.8,143.4 419.6,139.9 420.1,138.6 427.9,134.9 435.7,130.1 439.9,128.0 447.1,125.7 453.4,124.2 459.1,123.3 464.9,122.9 469.4,121.1 473.1,119.8 476.9,118.8 480.6,118.2 486.9,117.9 493.4,118.5 500.6,119.9 508.6,122.2 510.6,123.3 514.1,125.7 523.1,132.4 536.1,145.1 551.1,156.6 560.4,166.6 567.4,174.9 573.6,184.2 581.3,193.6 585.7,199.6 585.6,200.1 585.1,200.7 583.0,202.9 580.9,204.4 577.9,206.1 582.4,211.1 619.6,235.1 627.2,240.4 629.1,241.9 630.0,242.9 629.9,243.0 629.4,243.0 627.3,242.4 619.2,238.9 577.6,218.9 568.6,216.6 554.1,212.2 534.1,208.0 533.4,208.1 530.1,209.0 526.6,209.7 519.9,210.4 512.1,210.4 503.6,209.6 496.1,208.3 488.1,206.5 479.9,204.1 471.4,201.1 471.1,201.3 470.8,202.9 468.3,218.9 463.4,224.8 460.5,229.4 455.4,236.5 454.5,238.1 450.0,248.1 448.9,250.1 444.8,255.6 442.4,258.3 437.6,262.9 435.1,266.4 434.6,266.6ZM662.1,261.9L640.4,249.6 632.9,245.1 630.0,243.1 630.4,243.1 631.4,243.4 635.4,245.1 652.2,253.4 656.9,256.5 661.6,260.1 662.1,261.1 662.1,261.9Z" fill="#357350" fill-rule="evenodd"/><path d="M434.6,265.9L434.4,266.1 431.9,265.6 427.9,264.3 425.3,262.9 422.0,260.4 420.9,252.9 419.3,239.1 418.4,233.9 418.1,227.1 419.3,188.1 420.0,182.1 421.9,172.0 422.2,170.9 421.2,168.4 419.9,163.9 419.2,159.9 418.7,155.6 418.5,151.6 418.7,147.6 419.2,143.9 420.0,140.6 420.7,138.9 428.1,135.2 436.1,130.4 438.4,129.3 445.6,126.9 451.9,125.3 459.1,124.1 466.6,123.7 472.9,121.5 478.4,120.3 484.1,119.7 490.4,119.9 496.9,120.8 503.9,122.4 512.1,125.1 517.9,129.2 522.6,132.8 535.8,145.6 550.6,156.9 560.0,167.1 566.8,175.1 573.3,184.9 578.6,191.4 582.9,197.1 582.9,197.5 582.1,198.6 580.1,200.7 577.9,202.4 575.1,203.9 581.9,211.5 608.7,229.1 614.6,233.4 616.1,234.6 616.7,235.4 616.4,235.6 615.1,235.4 608.9,232.9 596.9,227.4 578.1,218.4 568.9,216.1 554.4,211.8 531.9,207.1 525.4,208.6 518.4,209.3 510.6,209.2 502.4,208.4 495.1,207.2 487.6,205.4 480.1,203.2 470.6,200.0 467.6,218.9 463.1,224.4 460.3,228.9 455.0,236.4 453.9,238.4 449.6,248.0 448.6,249.6 444.4,255.4 442.1,257.9 437.1,262.6 434.6,265.9Z" fill="#357652" fill-rule="evenodd"/><path d="M434.1,265.4L431.4,264.9 428.4,263.8 426.1,262.6 422.9,260.4 421.9,256.6 419.7,238.9 418.9,234.1 418.6,230.6 418.5,227.1 419.7,187.9 420.3,182.9 421.9,174.2 423.1,170.4 421.9,168.9 421.7,168.4 420.5,164.1 419.6,159.9 419.2,156.4 419.0,152.9 419.4,146.4 420.2,141.9 421.0,139.4 421.3,139.1 428.4,135.6 436.2,130.9 444.6,128.0 452.1,126.0 456.1,125.2 460.1,124.7 463.9,124.5 468.1,124.6 473.1,123.0 477.9,122.0 482.6,121.4 487.4,121.4 493.6,121.9 500.4,123.2 507.9,125.4 515.4,128.1 522.2,133.1 535.6,146.2 550.3,157.4 559.5,167.4 566.4,175.6 572.6,185.1 580.0,194.6 580.1,194.9 579.2,196.4 577.4,198.4 575.1,200.1 572.3,201.6 572.4,201.9 578.0,207.9 581.6,212.4 597.9,223.4 601.9,226.4 603.3,227.9 603.1,228.2 602.1,228.0 597.6,226.4 578.4,217.6 574.9,217.0 570.1,215.9 554.4,211.3 552.4,211.0 550.6,210.5 530.4,206.3 523.4,207.7 516.9,208.2 509.4,208.1 501.4,207.3 494.1,206.0 486.6,204.2 479.1,202.0 470.1,199.0 469.0,205.1 466.7,219.1 462.6,224.3 459.9,228.6 454.6,236.2 453.6,238.0 449.2,247.9 448.3,249.4 444.0,255.1 441.7,257.6 436.7,262.1 434.1,265.4Z" fill="#367953" fill-rule="evenodd"/><path d="M433.6,264.9L431.1,264.3 428.6,263.3 426.8,262.4 423.8,260.4 421.9,253.5 420.1,238.6 419.3,233.9 418.9,227.1 420.1,187.6 420.6,183.1 421.9,176.3 423.9,170.1 421.9,167.4 420.4,161.4 419.5,154.6 419.5,151.1 419.7,147.9 420.5,143.1 421.6,139.5 428.4,136.1 434.9,132.2 441.4,129.8 447.4,127.9 453.1,126.5 458.4,125.6 463.9,125.2 469.6,125.4 474.4,124.2 478.9,123.4 483.4,123.0 487.9,123.1 494.9,123.8 502.4,125.5 511.1,128.2 518.9,131.4 522.6,134.3 535.1,146.4 550.0,157.9 556.6,165.0 564.3,173.9 567.0,177.6 572.1,185.6 577.1,192.1 576.1,194.1 574.5,196.1 572.6,197.7 569.6,199.4 569.6,199.6 577.4,208.1 579.5,210.9 581.1,213.4 587.7,218.1 589.4,219.6 590.0,220.4 590.0,220.6 589.4,220.7 587.4,220.2 578.9,216.7 575.9,216.5 571.9,215.7 564.6,213.9 554.4,210.8 528.9,205.5 528.1,205.4 524.9,206.2 521.4,206.7 515.9,207.2 509.4,207.1 502.4,206.5 494.9,205.2 487.1,203.4 478.9,201.1 469.9,198.0 469.3,199.1 468.9,201.4 465.9,219.4 462.4,223.9 459.6,228.3 454.2,236.1 453.2,237.9 448.9,247.6 447.9,249.2 443.6,254.9 441.3,257.4 436.1,261.9 433.6,264.9Z" fill="#367c54" fill-rule="evenodd"/><path d="M433.4,264.2L431.9,263.9 429.4,263.0 424.7,260.4 421.9,250.4 420.5,238.6 419.6,233.6 419.3,228.1 420.6,186.6 421.9,178.4 424.7,169.6 421.9,165.9 420.8,161.1 420.2,157.4 420.0,153.6 420.0,149.9 420.3,146.4 421.0,143.1 421.9,140.1 423.4,139.1 428.9,136.3 432.9,133.9 438.6,131.5 444.6,129.5 449.9,127.9 454.9,126.8 459.1,126.2 463.1,125.9 467.1,125.9 471.4,126.3 477.6,125.1 483.1,124.6 490.1,124.9 497.6,126.0 505.9,128.2 514.6,131.3 521.9,134.4 534.8,146.9 549.6,158.2 556.2,165.4 563.7,174.1 565.8,176.9 571.4,185.6 574.1,189.4 573.0,191.9 571.5,193.9 569.5,195.6 566.6,197.4 574.4,205.6 576.9,208.6 578.7,211.1 579.6,213.1 579.7,214.4 579.1,215.2 577.9,215.6 575.1,215.6 570.9,214.9 563.9,213.1 554.4,210.4 526.6,204.6 519.9,205.8 513.1,206.2 505.6,205.8 497.4,204.8 490.9,203.5 484.1,201.8 476.9,199.6 469.6,197.0 468.8,198.6 468.5,199.4 465.1,219.6 461.9,223.9 459.4,228.0 453.9,236.0 452.8,237.9 448.5,247.4 447.6,248.9 443.4,254.5 440.9,257.1 435.3,261.9 433.4,264.2Z" fill="#367e56" fill-rule="evenodd"/><path d="M432.9,263.7L429.6,262.5 425.6,260.4 421.9,247.3 420.8,238.4 420.0,233.9 419.7,230.4 419.7,226.6 420.9,186.6 421.9,180.4 425.4,169.4 422.7,165.6 421.8,163.9 421.0,160.1 420.5,156.4 420.4,152.6 420.5,149.1 421.0,145.4 421.9,141.7 424.2,139.6 426.8,137.9 430.4,135.9 434.2,134.1 443.9,130.4 452.4,128.0 456.4,127.3 460.1,126.8 466.4,126.6 473.1,127.2 477.4,126.5 481.1,126.2 484.9,126.1 488.6,126.3 493.1,126.9 497.9,127.8 502.6,129.0 507.9,130.6 516.4,133.8 524.4,137.4 534.4,147.1 549.3,158.6 555.9,165.8 563.4,174.6 566.1,178.4 570.9,186.1 570.2,188.6 568.8,191.1 566.9,193.0 563.9,194.9 563.8,195.1 572.3,204.1 574.8,207.1 576.6,209.6 577.7,211.6 578.0,213.1 577.6,213.9 576.4,214.5 573.6,214.6 569.3,213.9 563.1,212.4 554.6,209.9 525.1,203.8 524.4,203.8 517.9,204.8 511.6,205.1 504.4,204.8 496.6,203.7 490.4,202.5 483.6,200.8 476.6,198.6 469.4,196.1 469.1,196.3 467.9,198.9 464.4,219.9 461.6,223.6 459.1,227.6 453.5,235.9 452.5,237.6 448.1,247.4 447.3,248.6 442.9,254.4 440.4,256.9 434.4,261.9 432.9,263.7Z" fill="#368157" fill-rule="evenodd"/><path d="M432.4,263.0L430.1,262.1 426.6,260.4 424.3,253.1 421.9,244.2 421.2,238.4 420.4,233.9 420.0,229.6 421.1,190.1 421.3,186.4 421.9,182.3 424.0,176.1 426.2,169.1 423.6,165.4 421.9,162.5 421.3,159.1 420.9,155.6 420.8,152.1 421.0,148.9 421.9,143.4 424.6,140.6 428.4,138.0 431.6,136.2 435.4,134.4 444.4,130.9 452.6,128.6 456.4,127.9 460.1,127.4 463.9,127.2 467.4,127.3 470.9,127.6 474.9,128.2 481.6,127.7 488.1,127.9 496.1,129.1 504.6,131.3 510.1,133.2 515.9,135.4 522.0,138.1 526.9,140.6 534.4,147.8 548.9,159.0 555.5,166.1 560.4,171.8 564.6,177.1 567.1,181.1 567.4,181.9 567.3,184.1 566.9,185.9 566.2,187.6 565.2,189.1 564.1,190.3 560.9,192.6 570.6,203.1 574.6,208.1 575.8,210.1 576.2,211.6 576.2,212.4 575.9,212.9 574.9,213.4 572.1,213.5 567.7,212.9 562.4,211.6 554.6,209.4 524.6,203.2 522.1,203.0 516.4,203.9 509.9,204.1 503.4,203.7 496.4,202.8 490.4,201.6 484.1,200.1 476.9,197.9 469.1,195.2 468.9,195.3 467.3,198.6 465.9,206.2 463.7,220.1 461.4,223.3 458.8,227.4 453.1,235.8 452.1,237.6 447.8,247.1 447.0,248.4 442.8,253.9 440.3,256.4 436.4,259.7 433.7,261.6 432.4,263.0Z" fill="#368458" fill-rule="evenodd"/><path d="M432.1,262.2L429.9,261.5 427.5,260.4 424.9,252.1 421.9,241.2 420.7,233.6 420.4,229.4 421.4,190.1 421.7,186.1 422.0,184.1 424.8,175.9 426.9,168.6 423.9,164.4 421.9,160.4 421.3,154.6 421.4,149.1 421.9,145.4 422.4,144.6 424.7,141.9 428.2,139.1 431.1,137.3 434.9,135.4 443.4,131.9 451.6,129.5 455.6,128.7 459.4,128.1 463.1,127.9 466.9,127.9 471.6,128.3 476.9,129.3 482.1,129.1 486.9,129.3 493.1,130.2 499.6,131.6 506.9,133.9 514.9,136.9 522.6,140.4 529.6,144.0 534.3,148.4 548.6,159.4 555.0,166.4 562.3,175.1 563.1,177.4 563.6,180.1 563.5,182.4 563.0,184.6 562.1,186.4 560.6,188.1 559.0,189.4 556.6,190.6 559.9,192.5 561.3,193.6 562.9,195.6 567.6,200.6 571.0,204.6 573.1,207.4 574.2,209.4 574.5,210.9 574.3,211.6 573.9,212.0 572.9,212.4 571.4,212.5 566.9,212.0 551.6,208.3 524.9,202.8 520.6,202.1 515.1,202.9 509.1,203.1 502.6,202.7 495.9,201.8 489.9,200.6 483.4,199.0 477.1,197.2 468.6,194.4 466.6,198.4 462.8,220.6 452.8,235.6 451.8,237.4 447.4,247.1 446.6,248.2 442.4,253.6 439.9,256.1 432.1,262.2Z" fill="#36875a" fill-rule="evenodd"/><path d="M431.9,261.4L431.4,261.5 428.6,260.4 427.6,257.8 424.9,249.1 421.9,238.1 421.1,233.9 420.7,229.6 421.9,187.6 422.6,184.4 425.3,176.4 427.6,168.4 424.2,163.1 423.0,160.6 422.0,158.1 421.6,154.4 421.7,149.6 422.1,147.6 423.6,144.9 425.4,142.6 427.9,140.4 430.5,138.6 433.6,136.8 437.4,135.0 441.6,133.3 445.9,131.7 450.1,130.5 454.1,129.6 457.9,128.9 463.4,128.5 468.9,128.7 473.6,129.3 478.9,130.4 486.1,130.7 493.4,131.9 501.9,134.1 511.3,137.4 520.5,141.4 529.2,145.9 534.1,148.9 546.9,158.6 549.9,161.5 554.3,166.6 556.8,170.4 558.5,173.9 559.4,177.1 559.6,180.1 558.9,182.9 557.5,185.1 555.4,187.0 552.4,188.4 553.3,189.1 559.6,192.9 561.3,194.4 562.4,195.9 568.3,202.4 571.2,206.1 572.2,207.9 572.7,209.1 572.7,210.1 572.2,210.9 571.4,211.3 569.9,211.5 565.1,211.0 554.9,208.5 553.4,208.3 551.6,207.8 524.9,202.3 522.1,202.0 519.4,201.2 514.1,201.9 508.4,202.1 502.1,201.8 495.4,200.9 489.4,199.7 482.9,198.1 476.1,196.1 468.4,193.5 465.9,198.4 464.4,206.4 462.1,220.9 452.4,235.6 451.5,237.4 447.1,246.9 446.4,247.9 442.1,253.3 439.6,255.8 435.6,258.9 431.9,261.4Z" fill="#368a5b" fill-rule="evenodd"/><path d="M431.4,261.0L429.7,260.4 426.6,251.9 422.6,237.9 421.9,236.5 421.3,232.9 421.1,229.1 421.9,198.0 422.4,188.6 423.2,184.6 425.9,176.6 428.3,168.1 425.3,163.4 423.4,159.4 422.4,155.4 422.3,151.6 422.8,148.9 424.0,146.1 425.8,143.6 428.4,141.1 431.1,139.2 434.2,137.4 437.9,135.5 441.9,133.8 446.1,132.3 450.1,131.1 454.1,130.2 457.9,129.5 463.9,129.1 469.9,129.4 475.4,130.2 481.4,131.8 485.9,132.2 490.6,132.9 498.4,134.9 507.3,137.9 516.4,141.6 525.1,145.9 532.4,150.1 539.1,154.9 544.7,159.6 549.4,164.6 552.1,168.4 554.0,171.9 555.1,175.4 555.3,178.4 554.6,180.9 553.1,183.1 550.9,184.8 547.7,186.1 559.4,193.3 560.6,194.4 562.1,196.3 567.1,201.9 569.7,205.4 570.5,206.9 570.9,208.1 570.9,209.1 570.4,209.9 569.4,210.3 567.9,210.5 563.1,209.9 555.1,208.0 553.4,207.8 524.9,201.8 522.1,201.5 518.4,200.2 513.1,200.9 507.4,201.1 501.1,200.8 494.6,199.9 488.6,198.7 482.1,197.1 475.4,195.1 468.1,192.6 465.3,198.1 463.8,206.1 461.3,221.4 458.1,226.5 452.1,235.5 451.1,237.4 446.8,246.6 445.9,247.9 441.9,253.0 439.4,255.4 435.1,258.7 431.4,261.0Z" fill="#368d5c" fill-rule="evenodd"/><path d="M431.4,260.2L430.9,260.3 428.6,254.9 426.1,247.5 423.3,237.6 421.9,234.6 421.4,228.9 421.9,209.2 423.1,188.6 423.9,184.9 426.6,176.6 429.0,167.9 426.0,163.1 424.4,159.4 423.4,155.6 423.3,151.9 423.9,149.1 425.1,146.4 426.9,143.9 429.2,141.6 433.5,138.6 438.9,135.8 445.1,133.3 451.6,131.3 457.4,130.2 463.1,129.7 468.6,129.8 474.1,130.6 478.9,131.7 483.9,133.4 490.4,134.5 497.4,136.4 507.0,139.9 516.9,144.1 525.7,148.6 533.3,153.4 536.6,155.9 540.0,158.6 542.6,161.1 545.1,163.9 547.7,167.4 549.5,170.6 550.5,173.9 550.6,176.6 550.3,177.9 549.8,179.1 548.1,181.0 545.6,182.5 542.4,183.4 558.9,193.6 560.2,194.6 561.7,196.6 565.8,201.4 568.1,204.6 568.9,206.1 569.2,207.4 569.1,208.2 568.6,208.9 567.6,209.3 566.1,209.4 561.3,208.9 555.1,207.5 553.6,207.3 524.9,201.4 522.1,201.0 520.1,200.4 517.6,199.2 512.1,200.0 506.6,200.1 500.6,199.8 494.1,198.9 488.1,197.8 481.9,196.2 475.1,194.2 467.9,191.8 464.6,198.1 463.2,205.4 460.4,222.1 457.9,226.2 451.8,235.4 450.8,237.1 446.4,246.6 445.7,247.6 441.4,252.9 438.9,255.3 434.6,258.4 431.4,260.2Z" fill="#36905e" fill-rule="evenodd"/><path d="M431.9,259.2L431.6,259.2 430.6,257.1 428.4,251.4 426.4,245.4 424.1,237.6 422.3,233.6 421.8,231.1 421.7,227.6 421.9,220.9 423.7,188.9 424.4,185.4 427.2,176.6 429.7,167.4 427.1,163.4 425.4,159.6 424.4,155.9 424.3,152.1 424.8,149.6 425.8,147.1 427.3,144.9 429.4,142.6 431.9,140.6 435.1,138.5 438.9,136.5 442.9,134.8 447.1,133.2 451.1,132.1 455.1,131.2 458.9,130.6 462.6,130.3 466.4,130.3 470.1,130.6 473.9,131.1 479.9,132.7 487.1,135.4 493.4,137.0 500.2,139.4 513.2,144.9 523.5,150.1 531.0,154.9 536.9,159.6 539.5,162.1 541.4,164.4 543.2,166.9 544.4,169.1 545.1,171.4 545.4,173.4 545.1,175.2 544.3,176.9 543.0,178.1 541.3,179.1 539.1,179.8 536.5,180.1 537.1,180.6 559.4,194.6 560.4,195.6 561.4,197.1 564.9,201.4 566.3,203.4 567.2,205.1 567.5,206.1 567.5,206.9 567.1,207.6 566.6,208.0 564.6,208.4 561.4,208.2 555.4,206.9 553.6,206.8 524.9,200.9 522.1,200.5 520.1,199.9 516.6,198.3 511.1,199.0 505.4,199.2 498.9,198.7 492.1,197.7 486.6,196.6 480.6,195.1 467.6,191.0 464.0,197.9 462.3,206.4 459.6,222.6 457.6,226.0 451.4,235.4 450.4,237.1 446.1,246.4 445.4,247.4 441.1,252.6 438.6,254.9 434.4,257.9 431.9,259.2Z" fill="#36935f" fill-rule="evenodd"/><path d="M432.6,258.2L430.6,254.3 428.4,248.6 424.8,237.4 423.8,235.4 423.0,233.4 422.5,231.4 422.2,229.1 422.2,227.1 424.4,188.6 425.0,185.6 427.8,176.9 430.3,167.1 428.0,163.4 426.3,159.6 425.4,156.1 425.3,152.6 425.7,150.1 426.7,147.6 428.1,145.4 430.1,143.1 432.4,141.1 435.4,139.1 438.9,137.2 442.9,135.4 447.1,133.8 451.1,132.6 455.1,131.7 459.1,131.1 463.1,130.9 466.9,130.9 470.6,131.2 474.4,131.8 478.4,132.8 482.6,134.2 486.6,135.9 491.1,138.1 499.1,141.1 510.4,146.4 520.1,151.4 526.6,155.4 532.1,159.6 534.4,161.9 536.1,163.9 537.5,165.9 538.5,167.9 539.0,169.6 539.0,171.4 538.6,172.9 537.6,174.1 536.4,175.0 534.6,175.6 532.4,176.0 529.9,176.0 529.8,176.1 533.4,178.9 558.9,195.0 560.0,196.1 560.9,197.5 563.4,200.6 565.4,203.9 565.7,205.6 565.5,206.4 564.9,206.9 564.1,207.2 562.9,207.3 559.6,207.1 555.6,206.4 553.9,206.3 524.9,200.4 522.4,200.1 520.4,199.5 515.6,197.3 510.1,198.1 504.4,198.2 498.1,197.8 491.4,196.8 485.9,195.6 480.1,194.2 467.4,190.2 463.3,197.6 461.8,205.4 458.7,223.6 451.2,235.1 450.1,237.1 445.7,246.4 445.1,247.1 440.9,252.3 438.4,254.5 433.9,257.6 432.6,258.2Z" fill="#379661" fill-rule="evenodd"/><path d="M433.9,256.9L433.6,257.1 433.4,256.9 432.4,255.2 429.6,249.2 427.6,243.6 425.6,237.1 424.6,235.3 423.8,233.4 423.3,231.4 423.0,229.4 423.0,227.1 425.1,188.9 425.6,185.9 428.4,177.1 431.0,166.9 428.7,163.1 427.2,159.6 426.3,156.1 426.2,152.9 426.6,150.4 427.5,148.1 428.8,145.9 430.7,143.6 433.0,141.6 435.9,139.6 439.4,137.7 443.1,135.9 449.1,133.8 455.4,132.3 461.4,131.5 467.4,131.5 473.4,132.2 479.4,133.7 485.4,136.0 491.4,139.0 498.1,143.0 505.7,147.1 517.1,153.6 521.7,156.6 525.5,159.6 527.3,161.4 528.8,163.1 529.8,164.9 530.3,166.4 530.3,167.9 529.6,169.1 528.4,169.9 526.1,170.4 526.1,170.6 528.3,175.6 533.1,179.3 558.4,195.4 559.7,196.6 560.4,197.9 562.6,200.9 563.6,202.9 563.9,203.9 563.9,204.9 563.5,205.6 562.6,206.1 560.1,206.3 554.1,205.7 524.9,199.9 522.4,199.6 520.4,199.0 514.6,196.3 509.4,197.1 503.6,197.2 497.4,196.8 490.4,195.8 479.4,193.2 467.1,189.4 464.7,193.6 462.7,197.6 461.0,205.9 457.8,224.4 451.9,233.4 449.8,236.9 445.2,246.4 440.4,252.1 437.9,254.4 433.9,256.9Z" fill="#379962" fill-rule="evenodd"/><path d="M434.6,255.9L433.6,254.6 432.4,252.6 430.1,247.6 428.4,243.0 426.4,236.9 425.4,235.1 424.6,233.3 424.1,231.4 423.8,229.1 425.7,188.9 426.4,185.8 429.3,176.1 431.6,166.6 429.4,162.9 428.0,159.6 427.2,156.4 427.1,153.1 427.5,150.6 428.4,148.4 429.7,146.1 431.6,143.9 433.9,141.9 436.6,140.0 439.8,138.1 443.4,136.5 449.4,134.3 455.4,132.8 461.4,132.0 467.1,132.0 472.9,132.7 478.9,134.2 484.6,136.3 490.6,139.2 496.6,142.9 502.6,147.1 508.7,152.1 514.1,157.1 518.3,161.6 521.9,166.1 524.4,170.1 526.6,174.9 526.9,175.1 532.8,179.6 558.1,195.9 559.2,197.1 561.8,201.6 562.2,202.6 562.2,203.6 561.9,204.4 561.2,204.9 559.1,205.3 554.4,205.1 524.9,199.4 522.4,199.1 520.6,198.5 513.6,195.4 509.1,196.1 504.4,196.3 499.1,196.1 493.6,195.5 487.6,194.4 481.1,192.9 474.1,191.0 466.9,188.6 464.2,193.1 462.0,197.4 460.3,205.6 456.9,225.4 451.7,233.1 449.5,236.9 445.0,246.1 440.1,251.9 437.5,254.1 434.6,255.9Z" fill="#379c63" fill-rule="evenodd"/><path d="M436.1,254.5L435.6,254.5 434.1,252.7 432.6,250.3 431.1,247.3 429.1,242.3 427.3,236.9 425.5,233.4 424.9,231.4 424.6,229.1 426.4,189.1 427.0,186.1 429.9,176.4 432.2,166.4 430.1,162.6 428.9,159.6 428.1,156.6 428.0,153.6 428.4,151.1 429.1,148.9 430.2,146.9 431.9,144.8 433.9,142.8 436.4,140.9 439.3,139.1 442.6,137.4 448.4,135.2 454.4,133.6 460.1,132.7 465.9,132.5 471.4,133.0 477.1,134.2 482.9,136.2 488.6,138.9 494.4,142.2 500.4,146.4 506.4,151.1 512.2,156.4 516.7,161.1 520.3,165.6 522.9,169.6 525.1,174.4 525.4,174.6 532.6,180.1 545.9,188.6 557.5,196.4 558.3,197.1 559.0,198.1 560.4,201.4 560.5,202.4 560.3,203.1 559.6,203.7 558.6,204.1 554.6,204.4 522.4,198.6 520.6,198.0 512.9,194.4 508.4,195.1 503.9,195.3 498.9,195.2 493.4,194.6 487.4,193.6 481.1,192.2 474.1,190.3 466.6,187.9 463.9,192.4 461.4,197.1 459.5,206.1 456.1,225.9 449.3,236.6 444.7,245.9 439.9,251.5 436.1,254.5Z" fill="#379f65" fill-rule="evenodd"/><path d="M437.1,253.1L435.9,252.2 434.6,250.8 433.3,248.9 431.9,246.2 430.0,241.9 428.1,236.6 426.3,233.4 425.7,231.4 425.4,229.1 427.1,189.1 427.6,186.3 430.5,176.6 432.9,165.9 430.9,162.6 429.7,159.6 429.0,156.6 428.9,153.6 429.2,151.4 430.0,149.1 431.2,146.9 432.8,144.9 434.9,142.9 437.4,141.0 440.4,139.2 443.6,137.6 449.4,135.4 455.1,133.9 460.9,133.2 466.4,133.1 471.9,133.6 477.4,134.9 482.9,136.8 488.6,139.5 494.1,142.8 499.9,146.8 505.6,151.4 511.0,156.4 515.3,160.9 518.9,165.4 521.6,169.6 523.6,173.9 532.1,180.4 546.7,189.9 557.1,197.1 557.9,197.9 558.3,198.6 558.7,201.1 558.4,202.3 557.6,202.8 556.1,203.4 554.6,203.5 543.5,201.9 524.9,198.4 522.6,198.1 520.9,197.5 511.9,193.4 507.6,194.1 503.1,194.4 498.1,194.2 492.9,193.7 487.1,192.7 480.9,191.4 474.4,189.6 466.4,187.2 463.2,192.4 460.7,197.1 458.8,205.9 455.0,226.9 448.9,236.6 444.5,245.6 439.7,251.1 437.1,253.1Z" fill="#37a266" fill-rule="evenodd"/><path d="M438.9,251.2L437.6,250.9 436.1,249.8 434.8,248.4 433.4,246.3 431.1,241.8 429.0,236.4 427.3,233.6 426.4,230.6 426.1,227.6 427.4,200.4 427.7,190.4 428.1,187.1 430.9,177.6 433.5,165.6 431.3,161.6 430.0,157.9 429.7,154.1 429.9,152.4 430.3,150.6 431.2,148.6 432.2,146.9 433.6,145.1 435.1,143.6 439.4,140.5 444.6,137.8 450.1,135.8 455.9,134.3 461.4,133.7 466.9,133.6 472.4,134.3 477.6,135.5 483.1,137.5 488.6,140.2 493.9,143.4 499.2,147.1 504.7,151.6 509.9,156.4 514.1,160.9 517.5,165.1 519.9,168.9 522.1,173.4 522.4,173.6 531.9,180.9 543.0,188.1 550.6,193.4 556.6,198.1 557.3,199.1 557.5,200.1 557.2,201.1 556.6,201.9 555.6,202.4 550.9,202.2 546.3,201.6 522.6,197.6 520.9,197.0 511.1,192.5 506.6,193.2 502.4,193.4 497.6,193.3 492.4,192.8 486.6,191.9 480.6,190.6 466.1,186.5 462.9,191.6 460.0,196.9 458.1,205.9 454.0,227.9 448.6,236.6 444.1,245.5 441.1,249.1 439.4,250.9 438.9,251.2Z" fill="#3aa469" fill-rule="evenodd"/><path d="M440.4,248.7L438.9,248.7 437.4,248.2 436.0,247.1 434.6,245.5 432.6,242.3 430.0,236.4 428.4,233.8 427.3,230.6 427.0,227.6 428.1,200.4 428.4,190.6 428.8,187.4 431.4,178.1 434.1,165.4 432.1,161.6 430.9,157.9 430.5,154.4 430.7,152.6 431.1,150.9 432.0,148.9 433.0,147.1 434.4,145.4 435.9,143.9 440.0,140.9 445.3,138.1 450.6,136.2 456.1,134.8 461.6,134.2 466.9,134.2 472.1,134.8 477.6,136.1 482.9,138.0 488.4,140.7 493.4,143.8 498.4,147.4 503.6,151.6 508.7,156.4 512.7,160.6 516.1,164.9 518.5,168.6 520.6,172.9 520.8,173.1 531.6,181.3 541.9,188.1 548.6,192.9 552.8,196.4 554.2,197.9 554.9,198.9 555.1,200.1 553.9,200.8 552.4,201.1 547.9,201.0 541.1,200.2 522.4,197.0 510.1,191.4 506.1,192.2 501.9,192.5 497.1,192.4 491.9,191.9 486.4,191.0 480.4,189.8 473.1,187.9 466.1,185.8 465.9,185.8 462.4,191.1 459.3,196.6 457.3,205.6 453.0,228.9 448.2,236.6 443.8,245.4 441.6,247.9 441.1,248.4 440.4,248.7Z" fill="#3da56c" fill-rule="evenodd"/><path d="M440.4,246.2L438.9,246.2 437.6,245.7 436.1,244.6 434.9,243.2 432.9,240.1 431.0,236.1 429.3,233.6 428.6,232.1 428.1,230.4 427.9,227.6 428.9,200.4 429.1,190.4 429.6,187.1 432.3,177.1 434.7,165.1 432.6,161.1 431.6,157.6 431.4,154.1 432.0,150.9 432.7,149.1 433.8,147.4 435.1,145.7 436.7,144.1 440.7,141.1 445.9,138.5 451.1,136.6 456.4,135.3 461.9,134.7 467.1,134.7 472.4,135.4 477.6,136.7 482.9,138.6 488.1,141.3 493.1,144.3 498.0,147.9 502.8,151.9 507.6,156.4 511.5,160.6 514.7,164.6 517.1,168.4 519.2,172.6 531.1,181.7 540.0,187.6 545.9,191.9 550.0,195.4 551.8,197.6 552.0,198.4 551.7,199.1 550.7,199.6 549.4,199.9 544.9,199.8 537.6,198.9 522.4,196.4 509.4,190.4 505.4,191.2 501.1,191.5 496.4,191.4 491.1,191.0 485.4,190.1 479.1,188.7 472.4,187.0 465.9,185.0 465.3,185.6 462.3,190.1 458.6,196.6 456.5,205.6 451.9,230.1 447.9,236.6 444.6,243.0 442.4,245.2 440.4,246.2Z" fill="#40a76f" fill-rule="evenodd"/><path d="M440.4,243.7L439.1,243.7 437.9,243.3 436.6,242.5 435.4,241.2 433.9,239.1 432.1,236.0 430.3,233.6 429.5,231.9 429.0,230.1 428.8,227.9 429.7,200.4 429.8,190.4 430.3,187.4 432.8,177.9 435.3,164.9 433.4,161.1 432.4,157.6 432.2,154.4 432.8,151.1 433.5,149.4 434.5,147.6 435.9,145.9 437.4,144.4 441.4,141.4 446.3,138.9 451.4,137.0 456.6,135.8 461.9,135.2 467.1,135.2 472.4,135.9 477.4,137.2 482.6,139.1 487.6,141.6 492.4,144.6 497.1,148.0 502.0,152.1 506.4,156.4 510.4,160.6 513.5,164.6 515.9,168.4 517.6,172.1 530.9,182.2 538.1,187.1 543.2,190.9 547.0,194.1 548.7,196.4 548.9,197.1 548.6,197.9 547.8,198.4 546.4,198.7 541.9,198.6 534.9,197.8 522.6,195.9 508.6,189.4 504.4,190.2 500.4,190.6 495.6,190.5 490.6,190.1 484.9,189.2 478.6,187.9 471.9,186.2 465.6,184.3 461.7,189.9 457.9,196.4 455.8,205.4 450.6,231.4 448.1,235.6 447.4,236.4 445.9,238.9 444.4,240.9 442.4,242.8 440.4,243.7Z" fill="#43a972" fill-rule="evenodd"/><path d="M440.4,241.2L439.1,241.2 438.1,240.9 436.9,240.1 435.9,239.2 433.5,235.9 432.3,234.6 431.4,233.4 430.5,231.6 430.0,229.9 429.8,227.9 430.5,200.1 430.6,190.4 431.0,187.6 433.4,178.1 435.9,164.6 434.1,160.9 433.2,157.6 433.0,154.4 433.6,151.4 434.3,149.6 435.3,147.9 436.6,146.2 438.1,144.6 441.9,141.8 446.6,139.3 451.6,137.5 456.6,136.3 461.9,135.7 466.9,135.7 472.1,136.4 477.1,137.6 482.1,139.5 487.1,142.0 491.6,144.8 496.2,148.1 500.9,152.1 505.3,156.4 509.0,160.4 512.1,164.4 514.3,167.9 516.3,171.9 530.6,182.8 540.5,189.9 543.9,192.9 545.7,195.1 545.8,196.1 545.3,196.9 543.9,197.4 541.9,197.5 535.9,197.2 523.9,195.6 521.9,195.0 507.6,188.4 503.9,189.2 499.9,189.6 495.4,189.6 490.1,189.2 484.4,188.3 478.1,187.1 471.6,185.5 465.4,183.6 461.0,189.6 457.1,196.1 454.9,205.4 450.0,230.1 449.3,232.1 448.0,234.4 446.1,236.2 443.6,239.3 441.9,240.6 440.4,241.2Z" fill="#46aa75" fill-rule="evenodd"/><path d="M440.4,238.7L438.9,238.6 437.6,238.1 433.4,234.3 432.4,233.0 431.6,231.6 431.1,230.1 430.9,228.6 431.4,189.9 431.7,187.9 434.0,178.9 436.5,164.4 435.1,161.4 434.3,159.1 433.8,156.6 433.8,154.4 434.2,152.1 434.9,150.1 436.0,148.1 437.6,146.1 439.4,144.4 441.8,142.6 444.2,141.1 447.1,139.7 451.9,138.0 456.9,136.8 461.9,136.2 466.9,136.2 471.9,136.9 476.9,138.1 481.9,140.0 486.6,142.4 491.0,145.1 495.4,148.4 499.9,152.1 504.0,156.1 507.6,160.1 510.7,164.1 513.0,167.9 514.6,171.4 537.5,188.6 540.9,191.6 542.6,193.9 542.7,194.9 542.2,195.6 541.1,196.1 539.4,196.3 534.1,196.1 524.1,195.0 522.1,194.4 506.9,187.3 503.4,188.1 499.4,188.6 494.9,188.7 489.9,188.3 484.1,187.5 477.9,186.3 471.4,184.8 465.1,182.9 460.2,189.6 456.3,196.1 454.3,204.1 448.9,229.9 448.4,231.6 447.4,233.4 446.0,234.9 442.4,237.8 440.4,238.7Z" fill="#49ac77" fill-rule="evenodd"/><path d="M440.4,236.2L439.1,236.1 437.1,235.4 435.9,234.8 434.7,233.9 433.6,232.7 432.9,231.5 432.4,230.1 432.1,228.6 432.2,190.1 432.5,188.1 434.6,179.4 437.1,164.1 435.7,161.1 435.0,159.1 434.6,156.9 434.6,154.6 434.9,152.4 435.6,150.4 436.7,148.4 438.1,146.6 439.9,144.8 442.1,143.1 444.6,141.6 447.6,140.1 452.3,138.4 457.1,137.2 462.1,136.7 467.1,136.7 472.1,137.4 476.9,138.7 481.6,140.5 486.3,142.9 490.6,145.6 494.7,148.6 499.1,152.4 503.1,156.4 506.7,160.4 509.5,164.1 511.6,167.6 513.2,171.1 534.8,187.6 538.1,190.6 539.5,192.6 539.7,193.6 539.2,194.4 538.1,194.8 536.9,195.1 532.6,195.1 524.1,194.3 522.4,193.8 506.1,186.2 502.6,187.1 498.6,187.6 494.4,187.7 489.4,187.4 483.6,186.7 477.6,185.6 471.6,184.2 464.9,182.3 459.6,189.4 455.5,195.9 453.6,203.4 447.7,229.9 447.2,231.4 446.1,233.0 444.6,234.4 442.9,235.4 440.4,236.2Z" fill="#4cad7a" fill-rule="evenodd"/><path d="M441.4,234.4L439.9,234.6 438.6,234.4 437.4,234.0 436.1,233.3 435.1,232.4 434.2,231.1 433.7,229.9 433.5,228.4 433.0,190.4 433.3,188.4 435.2,179.9 437.7,163.6 436.6,161.4 435.8,159.1 435.4,156.9 435.3,154.6 435.7,152.6 436.3,150.6 437.4,148.6 438.8,146.9 440.5,145.1 442.6,143.5 444.9,142.1 447.6,140.7 452.4,138.9 457.1,137.7 461.9,137.2 466.9,137.2 471.6,137.9 476.4,139.1 481.1,140.9 485.9,143.3 490.0,145.9 494.0,148.9 498.0,152.4 502.1,156.4 505.5,160.4 508.3,164.1 510.3,167.6 511.7,170.9 518.6,176.3 528.6,183.7 534.3,188.6 535.7,190.1 536.4,191.4 536.6,192.1 536.4,192.9 535.6,193.4 534.4,193.8 531.1,193.9 524.4,193.6 522.6,193.1 505.4,185.1 501.9,186.1 498.1,186.6 493.9,186.8 489.1,186.6 483.6,185.9 477.6,184.9 472.1,183.7 464.6,181.7 459.0,188.9 454.7,195.6 452.5,203.6 446.2,230.1 445.5,231.6 444.4,232.9 442.9,233.9 441.4,234.4Z" fill="#50af7d" fill-rule="evenodd"/><path d="M441.4,232.7L440.4,232.8 439.1,232.8 438.1,232.5 437.1,231.9 435.8,230.4 435.2,228.4 434.6,217.1 433.9,190.6 434.1,188.9 435.9,180.4 437.5,168.1 438.3,163.4 437.2,161.1 436.5,159.1 436.1,156.9 436.1,154.9 436.4,152.9 437.1,150.9 438.0,149.1 439.4,147.2 441.1,145.5 443.1,143.9 445.4,142.4 447.9,141.1 452.4,139.4 457.1,138.3 461.9,137.7 466.6,137.7 471.4,138.3 476.1,139.5 480.9,141.3 485.4,143.6 489.3,146.1 493.3,149.1 497.3,152.6 501.0,156.4 504.2,160.1 506.9,163.9 508.8,167.1 510.5,170.9 517.6,176.5 528.1,184.4 532.0,188.1 533.4,190.1 533.5,190.9 533.4,191.6 532.9,192.0 532.1,192.4 529.6,192.7 524.4,192.7 523.1,192.4 512.4,187.3 504.6,183.9 501.4,184.9 497.6,185.6 493.4,185.8 488.4,185.6 482.6,185.0 476.6,184.0 470.4,182.6 464.6,180.9 462.4,183.4 458.7,188.1 453.8,195.4 452.0,201.6 447.4,219.7 444.6,229.6 444.1,230.6 443.4,231.5 442.4,232.2 441.4,232.7Z" fill="#53b180" fill-rule="evenodd"/><path d="M440.4,230.1L439.1,230.0 438.1,229.1 436.9,223.1 436.0,214.6 434.9,191.6 435.0,189.4 436.7,180.6 438.0,168.4 438.9,163.1 437.8,160.9 437.2,158.9 436.9,156.6 436.9,154.6 437.2,152.6 437.9,150.9 438.8,149.1 440.1,147.4 441.9,145.6 443.8,144.1 448.4,141.5 452.7,139.9 457.4,138.7 461.9,138.2 466.6,138.2 471.4,138.9 475.9,140.0 480.4,141.7 484.9,144.0 488.6,146.4 492.6,149.4 496.2,152.6 499.9,156.4 503.1,160.1 505.7,163.9 507.5,167.1 508.9,170.6 516.1,176.5 527.5,185.1 530.2,188.6 530.5,189.9 530.3,190.4 529.7,190.9 528.2,191.4 524.6,191.8 523.4,191.4 511.1,185.7 503.9,182.7 500.9,183.8 497.1,184.6 492.9,184.9 488.1,184.8 482.4,184.2 476.4,183.3 470.1,181.9 464.4,180.3 457.7,188.1 452.9,195.1 450.8,201.6 446.6,216.4 444.6,222.6 441.9,229.1 441.1,229.8 440.4,230.1Z" fill="#56b283" fill-rule="evenodd"/><path d="M441.4,220.7L440.9,220.8 440.4,220.7 439.6,219.8 438.9,218.0 438.3,215.4 437.4,208.9 435.9,191.6 436.0,189.6 437.4,181.6 438.6,168.6 439.5,162.9 438.4,160.4 437.8,158.4 437.6,156.4 437.7,154.4 438.1,152.4 438.9,150.4 440.0,148.6 441.5,146.9 443.5,145.1 445.6,143.6 447.9,142.4 450.6,141.1 454.9,139.8 459.1,139.0 463.4,138.6 467.9,138.8 472.4,139.6 476.6,140.8 480.9,142.5 485.1,144.8 488.9,147.3 492.5,150.1 496.0,153.4 499.5,157.1 502.3,160.6 504.7,164.1 506.3,167.4 507.5,170.6 514.4,176.5 526.6,186.1 527.3,187.1 527.5,188.4 527.1,189.4 525.9,190.3 524.6,190.4 509.9,184.0 503.4,181.4 500.1,182.7 496.6,183.5 492.4,183.9 487.6,183.9 481.9,183.4 475.9,182.5 469.9,181.2 464.1,179.6 456.9,187.9 451.8,194.9 444.9,215.1 443.1,218.8 442.1,220.1 441.4,220.7Z" fill="#59b486" fill-rule="evenodd"/><path d="M442.1,211.4L441.4,211.2 440.8,210.6 440.1,209.3 439.6,207.7 438.7,202.9 437.1,191.6 437.1,189.9 438.2,181.9 439.2,168.1 440.1,162.6 439.0,160.1 438.5,158.1 438.3,156.1 438.5,154.1 439.0,152.1 439.9,150.1 441.3,148.1 443.0,146.4 445.2,144.6 447.6,143.1 450.2,141.9 453.1,140.8 457.1,139.8 461.4,139.2 465.6,139.2 469.9,139.6 474.1,140.6 478.1,141.9 482.1,143.8 486.1,146.1 489.1,148.2 492.0,150.6 497.4,155.9 500.6,159.9 503.1,163.6 505.0,167.4 506.0,170.6 519.5,182.9 521.4,184.9 522.0,185.9 521.9,186.3 521.4,186.4 518.9,185.9 502.6,180.0 499.8,181.4 496.4,182.4 492.4,182.9 487.6,183.0 482.1,182.7 476.1,181.8 470.4,180.7 463.9,179.0 455.8,187.9 450.6,194.6 445.1,207.7 443.6,210.2 442.9,211.0 442.1,211.4Z" fill="#5cb689" fill-rule="evenodd"/><path d="M443.4,202.9L442.6,202.9 442.1,202.7 441.4,201.9 440.9,200.8 439.9,197.7 438.4,191.4 439.1,182.9 439.8,169.1 440.6,162.4 439.7,159.9 439.3,158.1 439.1,156.1 439.2,154.4 439.7,152.4 440.4,150.6 441.6,148.9 443.1,147.1 444.9,145.6 447.1,144.1 449.6,142.7 452.4,141.6 456.4,140.5 460.4,139.8 464.6,139.6 468.9,140.0 473.1,140.8 477.1,142.1 481.1,143.9 484.9,146.0 488.4,148.5 491.9,151.4 495.2,154.6 498.0,157.9 500.6,161.4 502.6,164.9 504.0,168.1 504.6,170.9 509.7,176.6 510.8,178.1 511.4,179.1 511.4,179.6 511.1,180.0 509.6,180.1 506.9,179.6 502.1,178.4 499.1,180.2 495.9,181.3 491.9,181.9 486.9,182.1 481.6,181.8 475.9,181.1 470.6,180.1 463.9,178.3 463.6,178.4 456.0,186.4 451.5,191.4 449.2,194.4 445.4,201.1 444.4,202.2 443.4,202.9Z" fill="#5fb78c" fill-rule="evenodd"/><path d="M444.4,196.5L443.1,196.4 442.1,195.6 440.6,192.9 440.1,191.4 440.3,170.9 440.6,166.4 441.2,161.9 440.1,158.6 439.8,155.4 440.5,152.4 441.9,149.6 444.1,147.0 447.1,144.7 450.1,143.1 453.4,141.8 456.9,140.9 460.4,140.3 463.9,140.1 467.6,140.3 471.4,140.9 474.9,141.9 478.4,143.2 481.8,144.9 485.1,146.9 488.2,149.1 491.4,151.9 494.4,154.9 497.1,158.1 499.4,161.4 501.1,164.4 502.3,167.1 502.9,169.4 503.1,171.6 504.4,173.6 504.8,174.9 504.8,175.6 504.4,176.1 503.4,176.4 501.4,176.5 500.3,177.6 498.9,178.6 495.6,180.1 492.1,180.8 488.1,181.2 482.4,181.1 476.1,180.5 469.6,179.3 463.6,177.7 453.4,187.6 445.9,195.5 444.4,196.5Z" fill="#62b98f" fill-rule="evenodd"/><path d="M445.4,191.9L444.1,192.0 443.6,191.7 443.1,191.1 442.4,189.5 441.8,186.6 441.2,179.1 441.0,171.9 441.2,166.4 441.9,161.6 440.8,158.4 440.6,155.4 440.9,153.6 441.4,152.1 442.1,150.6 443.1,149.1 445.6,146.6 449.1,144.2 452.1,142.8 455.4,141.8 458.9,141.0 462.4,140.7 465.9,140.7 469.4,141.1 472.9,141.8 476.1,142.9 479.6,144.4 482.9,146.1 485.9,148.1 489.0,150.6 492.2,153.6 494.9,156.6 497.3,159.9 499.1,162.9 500.3,165.4 501.1,167.9 501.5,170.1 501.4,172.1 500.9,174.0 499.9,175.6 498.6,176.9 496.9,178.1 494.1,179.2 490.9,179.9 487.1,180.3 482.9,180.3 478.1,180.0 473.1,179.3 468.1,178.3 463.4,177.0 457.1,182.8 450.9,188.3 447.6,190.7 445.4,191.9Z" fill="#65ba92" fill-rule="evenodd"/><path d="M446.9,188.1L445.4,187.9 444.7,187.4 444.1,186.6 443.3,184.6 442.5,181.4 441.9,176.1 441.6,170.6 441.8,165.9 442.5,161.4 441.5,158.4 441.4,155.4 441.7,153.6 442.2,152.1 442.9,150.6 444.0,149.1 445.4,147.6 446.9,146.4 450.6,144.1 453.6,142.9 456.6,142.0 459.9,141.4 463.4,141.2 466.9,141.3 470.1,141.7 473.6,142.6 476.9,143.7 480.1,145.2 483.3,147.1 486.4,149.3 489.2,151.6 491.9,154.4 494.4,157.4 496.5,160.4 498.2,163.4 499.1,165.6 499.8,167.9 500.0,169.9 499.8,171.9 499.2,173.6 498.1,175.1 496.8,176.4 494.9,177.5 492.4,178.4 489.1,179.1 485.4,179.5 481.4,179.5 476.9,179.1 472.4,178.5 467.9,177.6 463.1,176.4 457.9,181.1 452.9,185.0 449.4,187.3 448.1,187.8 446.9,188.1Z" fill="#68bc95" fill-rule="evenodd"/><path d="M448.1,185.4L447.1,185.3 446.4,185.0 445.1,183.8 444.1,181.6 443.2,178.4 442.6,174.1 442.3,169.4 442.5,165.1 443.1,161.1 442.2,158.1 442.1,155.4 442.4,153.6 443.0,152.1 443.8,150.6 444.9,149.1 446.3,147.6 447.9,146.4 451.6,144.3 454.6,143.1 457.6,142.3 460.9,141.8 464.1,141.7 467.4,141.9 470.6,142.4 473.9,143.2 476.9,144.3 480.1,145.9 483.0,147.6 485.9,149.7 488.7,152.1 491.4,154.9 493.6,157.6 495.4,160.4 496.9,163.1 497.8,165.4 498.3,167.6 498.4,169.6 498.1,171.6 497.5,173.1 496.4,174.6 494.9,175.9 493.1,176.8 490.6,177.7 487.6,178.3 484.1,178.6 480.1,178.6 476.1,178.4 471.9,177.8 462.9,175.8 458.1,179.8 453.9,182.9 450.6,184.7 448.1,185.4Z" fill="#6bbe97" fill-rule="evenodd"/><path d="M449.9,183.1L447.9,183.0 446.4,182.0 445.1,180.2 444.1,177.1 443.4,173.9 443.1,170.4 443.1,165.4 443.7,160.9 443.0,158.1 442.9,155.9 443.1,154.1 443.6,152.6 444.3,151.1 445.4,149.6 446.8,148.1 448.3,146.9 452.2,144.6 454.9,143.6 457.9,142.8 460.9,142.4 464.1,142.2 467.2,142.4 470.4,142.9 473.4,143.6 476.4,144.7 479.4,146.1 482.3,147.9 485.1,149.9 487.7,152.1 490.1,154.6 492.4,157.4 494.2,160.1 495.5,162.6 496.3,164.9 496.8,167.1 496.9,169.1 496.6,170.9 496.0,172.4 494.8,173.9 493.4,175.1 491.6,176.0 489.1,176.9 486.1,177.5 482.6,177.8 478.9,177.8 474.9,177.5 470.6,176.9 466.6,176.1 462.9,175.0 458.4,178.6 455.1,180.9 452.1,182.5 449.9,183.1Z" fill="#6ebf9a" fill-rule="evenodd"/><path d="M451.4,181.2L449.1,181.2 447.4,180.4 446.0,178.6 444.9,176.0 444.1,172.9 443.7,169.4 443.7,164.9 444.4,160.4 443.7,158.1 443.6,156.1 443.8,154.4 444.3,152.9 445.0,151.4 446.0,149.9 447.4,148.5 448.9,147.2 452.6,145.1 455.4,144.0 458.1,143.3 461.1,142.9 464.1,142.7 467.1,142.9 470.1,143.4 473.1,144.1 475.9,145.1 478.9,146.5 481.6,148.1 484.1,149.9 486.7,152.1 488.9,154.4 491.0,156.9 492.8,159.6 494.1,162.1 494.9,164.4 495.4,166.4 495.5,168.4 495.1,170.1 494.5,171.6 493.4,173.1 491.9,174.3 490.1,175.3 487.6,176.1 484.9,176.7 481.6,177.0 477.9,177.0 474.1,176.7 470.1,176.2 466.4,175.4 462.6,174.4 459.4,176.9 456.4,179.0 453.6,180.4 451.4,181.2Z" fill="#71c19d" fill-rule="evenodd"/><path d="M451.4,179.6L449.4,179.4 447.7,178.4 446.4,176.5 445.3,173.9 444.7,171.1 444.4,167.9 444.4,164.1 445.0,160.1 444.5,157.9 444.4,155.9 444.6,154.4 445.1,152.8 445.9,151.4 447.0,149.9 449.7,147.4 453.4,145.4 455.9,144.4 458.6,143.8 461.4,143.4 464.4,143.3 467.1,143.4 470.1,143.9 472.9,144.6 475.6,145.6 478.4,146.9 481.1,148.6 483.6,150.4 485.9,152.4 488.1,154.6 490.1,157.1 491.7,159.6 492.8,161.9 493.6,164.1 494.0,166.1 494.0,167.9 493.6,169.6 492.9,171.1 491.9,172.4 490.4,173.6 488.6,174.5 486.1,175.4 483.4,175.9 480.4,176.2 476.9,176.2 473.4,176.0 469.6,175.5 466.1,174.7 462.4,173.7 459.1,176.2 456.1,178.0 453.6,179.2 451.4,179.6Z" fill="#74c3a0" fill-rule="evenodd"/><path d="M452.1,178.1L450.1,177.9 448.4,176.9 447.0,175.1 446.0,172.6 445.4,170.1 445.1,167.1 445.1,163.4 445.7,159.9 445.3,157.9 445.2,156.1 445.4,154.6 445.8,153.1 446.6,151.6 447.6,150.2 450.4,147.7 453.9,145.8 456.4,144.9 458.9,144.3 461.6,143.9 464.4,143.8 467.1,144.0 469.9,144.4 472.6,145.1 475.3,146.1 477.9,147.3 480.4,148.8 482.6,150.4 484.9,152.4 487.1,154.6 488.9,156.9 490.3,159.1 491.5,161.4 492.2,163.4 492.5,165.4 492.6,167.1 492.2,168.9 491.5,170.4 490.4,171.8 489.0,172.9 487.1,173.8 484.9,174.6 482.1,175.1 479.1,175.4 475.9,175.4 469.1,174.7 462.1,173.0 459.4,175.1 456.6,176.7 454.1,177.8 452.1,178.1Z" fill="#77c4a3" fill-rule="evenodd"/><path d="M453.6,176.7L451.9,176.7 450.4,176.4 449.1,175.6 447.9,174.2 446.9,172.2 446.2,169.9 445.8,167.4 445.7,164.6 445.9,162.1 446.4,159.4 446.0,157.6 446.0,155.9 446.2,154.4 446.8,152.9 448.0,150.9 449.6,149.2 451.7,147.6 454.1,146.3 456.4,145.5 458.9,144.9 461.4,144.5 464.1,144.4 466.9,144.5 469.4,144.9 474.4,146.4 476.9,147.5 479.3,148.9 483.6,152.1 485.6,154.1 487.3,156.1 488.8,158.4 490.0,160.6 490.7,162.6 491.1,164.6 491.2,166.4 490.9,168.1 490.2,169.6 489.2,170.9 487.9,172.0 486.1,172.9 483.9,173.7 481.4,174.3 478.4,174.6 475.4,174.6 472.1,174.4 468.6,174.0 465.4,173.3 462.1,172.3 457.4,175.3 455.4,176.2 453.6,176.7Z" fill="#7ac6a6" fill-rule="evenodd"/><path d="M453.9,175.4L452.1,175.4 450.6,174.9 449.4,174.0 448.4,172.7 447.5,170.9 446.9,168.9 446.5,166.4 446.4,163.9 446.6,161.4 447.1,159.1 446.8,157.1 446.8,155.6 447.7,152.9 448.8,151.1 450.4,149.4 452.4,148.0 454.6,146.8 456.9,146.0 459.1,145.4 461.6,145.0 464.1,144.9 469.1,145.4 474.0,146.9 478.6,149.2 482.8,152.4 486.2,156.1 487.6,158.1 488.7,160.4 489.4,162.4 489.8,164.4 489.8,166.1 489.4,167.6 488.7,169.1 487.6,170.4 486.4,171.4 484.6,172.3 482.4,173.1 479.9,173.6 477.1,173.8 474.1,173.8 467.9,173.2 461.9,171.6 457.4,174.3 455.6,175.0 453.9,175.4Z" fill="#7ec7a9" fill-rule="evenodd"/><path d="M454.4,174.1L452.9,174.1 451.4,173.7 450.1,172.9 449.0,171.6 448.1,169.9 447.5,167.9 447.2,165.6 447.1,163.1 447.8,158.6 447.6,157.1 447.7,155.6 448.0,154.1 448.6,152.9 449.7,151.1 451.2,149.6 453.1,148.3 455.4,147.2 459.6,145.9 464.4,145.5 469.1,146.0 473.6,147.4 478.1,149.6 482.0,152.6 483.7,154.4 485.4,156.4 486.5,158.1 487.5,160.1 488.2,162.1 488.5,163.9 488.4,165.6 488.0,167.1 487.4,168.4 486.4,169.6 484.9,170.8 483.2,171.6 481.1,172.3 478.9,172.8 476.1,173.0 473.4,173.1 467.4,172.4 461.6,170.9 457.6,173.2 455.9,173.8 454.4,174.1Z" fill="#81c9ac" fill-rule="evenodd"/><path d="M455.1,172.9L453.6,172.9 452.1,172.6 450.9,171.8 449.9,170.8 448.9,169.1 448.3,167.4 448.0,165.4 447.9,163.1 448.0,160.9 448.6,158.1 448.5,155.6 449.4,153.1 450.3,151.6 451.8,150.1 453.5,148.9 455.6,147.8 459.6,146.5 464.1,146.1 468.6,146.5 473.1,147.8 477.2,149.9 480.9,152.6 483.9,155.9 485.1,157.6 486.1,159.6 486.8,161.4 487.1,163.1 487.1,164.9 486.7,166.4 486.1,167.6 485.1,168.9 483.9,169.9 482.1,170.8 480.1,171.5 477.9,172.0 475.4,172.3 472.6,172.3 466.9,171.6 461.4,170.1 458.1,172.0 455.1,172.9Z" fill="#84cbaf" fill-rule="evenodd"/><path d="M455.9,171.7L454.4,171.7 452.9,171.4 451.6,170.7 450.6,169.8 449.8,168.4 449.1,166.7 448.7,164.6 448.6,162.6 448.8,160.1 449.4,157.9 449.4,155.6 450.2,153.4 451.2,151.9 452.7,150.4 454.4,149.2 456.4,148.2 460.1,147.1 464.4,146.7 468.6,147.2 472.7,148.4 476.6,150.3 480.0,152.9 482.9,155.9 484.9,159.4 485.5,161.1 485.8,162.9 485.7,164.4 485.4,165.9 484.7,167.1 483.6,168.4 482.4,169.3 480.8,170.1 478.9,170.8 476.6,171.2 471.6,171.5 466.4,170.8 461.1,169.4 458.4,170.9 455.9,171.7Z" fill="#87ccb2" fill-rule="evenodd"/><path d="M473.9,170.6L470.6,170.6 467.4,170.3 464.1,169.6 461.1,168.6 457.9,170.1 455.6,170.5 453.6,170.3 451.9,169.3 450.9,168.1 450.1,166.4 449.6,164.4 449.4,162.1 449.6,159.9 450.2,157.4 450.5,155.1 451.2,153.4 452.3,151.9 454.6,149.9 457.6,148.4 461.1,147.6 464.9,147.4 468.6,147.8 472.4,149.0 475.8,150.6 478.9,152.9 481.6,155.8 483.5,158.9 484.4,161.9 484.4,163.4 484.2,164.6 483.8,165.9 483.1,166.9 482.2,167.9 480.9,168.8 477.9,170.0 473.9,170.6Z" fill="#8aceb4" fill-rule="evenodd"/><path d="M474.6,169.6L471.4,169.9 467.9,169.6 464.2,168.9 460.9,167.8 458.4,168.8 456.4,169.3 454.4,169.1 452.8,168.4 451.7,167.1 450.9,165.6 450.4,163.9 450.3,161.9 450.5,159.4 451.4,155.4 452.0,153.9 452.8,152.6 454.6,150.9 457.4,149.3 460.6,148.4 464.1,148.0 467.6,148.3 471.1,149.2 474.4,150.7 477.3,152.6 479.9,155.1 481.8,157.9 482.9,160.6 483.1,162.1 483.0,163.4 482.7,164.6 482.2,165.6 481.5,166.6 480.4,167.6 477.8,168.9 474.6,169.6Z" fill="#8dd0b7" fill-rule="evenodd"/><path d="M473.1,168.9L470.1,169.0 466.9,168.7 463.6,167.9 460.6,166.8 458.1,167.8 456.4,168.1 454.9,167.9 453.4,167.1 452.4,166.0 451.7,164.6 451.3,162.9 451.2,161.1 451.4,159.1 451.9,157.1 452.8,154.4 453.8,152.9 455.9,150.9 457.9,149.8 461.4,149.0 464.4,148.7 467.6,149.0 470.9,149.9 473.9,151.3 476.6,153.1 479.1,155.6 480.7,158.1 481.6,160.9 481.7,162.1 481.6,163.4 480.6,165.4 479.7,166.4 478.7,167.1 476.1,168.3 473.1,168.9Z" fill="#90d1ba" fill-rule="evenodd"/><path d="M473.1,167.9L470.6,168.1 467.9,168.0 463.9,167.2 460.4,165.9 458.4,166.5 456.9,166.8 455.4,166.5 454.1,165.9 453.1,164.7 452.5,163.4 452.2,161.6 452.2,159.9 452.5,158.1 453.1,156.1 454.0,154.4 455.1,152.6 456.6,151.3 458.6,150.3 462.1,149.6 465.1,149.5 468.0,149.9 470.9,150.7 473.6,152.1 475.9,153.6 478.1,155.9 479.5,158.1 480.2,160.4 480.2,162.6 479.4,164.6 477.9,166.1 475.9,167.2 473.1,167.9Z" fill="#93d3bd" fill-rule="evenodd"/><path d="M470.6,167.1L467.9,167.1 465.1,166.6 462.6,165.9 459.9,164.7 458.1,165.3 456.6,165.3 455.6,165.0 454.6,164.3 453.9,163.2 453.4,161.9 453.2,160.4 453.3,158.9 453.7,157.1 454.4,155.5 455.3,153.9 456.3,152.6 457.9,151.5 459.6,150.9 463.1,150.3 466.4,150.4 469.1,151.0 471.6,152.0 474.0,153.4 475.9,155.0 477.4,156.9 478.5,159.1 478.8,161.1 478.4,163.1 477.4,164.6 475.6,165.9 473.4,166.7 470.6,167.1Z" fill="#96d4c0" fill-rule="evenodd"/><path d="M469.6,166.1L467.4,166.1 464.9,165.6 462.1,164.7 459.6,163.4 458.4,163.7 457.4,163.7 456.4,163.4 455.6,162.9 455.1,162.1 454.7,161.1 454.5,159.9 454.5,158.6 455.3,155.9 457.0,153.4 458.1,152.5 459.6,151.9 463.1,151.3 466.1,151.3 468.6,151.8 470.9,152.6 473.0,153.9 474.8,155.4 476.1,157.1 477.0,159.1 477.2,160.9 476.8,162.6 475.6,164.1 474.1,165.1 472.1,165.8 469.6,166.1Z" fill="#99d6c3" fill-rule="evenodd"/><path d="M470.1,164.9L467.4,165.0 464.6,164.5 461.6,163.4 459.4,161.8 458.1,161.8 457.1,161.4 456.2,160.1 456.1,158.4 456.6,156.4 457.8,154.4 458.6,153.6 459.6,153.2 462.6,152.4 465.1,152.2 467.4,152.5 469.4,153.1 471.1,154.0 472.8,155.1 474.2,156.6 475.1,158.1 475.5,159.9 475.4,161.3 474.7,162.6 473.6,163.6 472.1,164.4 470.1,164.9Z" fill="#9cd8c6" fill-rule="evenodd"/><path d="M468.9,163.6L466.6,163.6 464.4,163.2 462.4,162.4 460.6,161.1 459.4,159.7 458.7,158.1 458.8,156.9 459.6,155.3 460.6,154.5 461.9,153.9 463.4,153.5 465.1,153.4 466.9,153.6 468.6,154.1 470.2,154.9 471.5,155.9 472.7,157.1 473.3,158.4 473.6,159.6 473.4,160.9 472.8,161.9 471.9,162.7 470.4,163.3 468.9,163.6Z" fill="#9fd9c9" fill-rule="evenodd"/><path d="M468.4,161.9L466.9,162.0 465.1,161.8 463.6,161.2 462.4,160.4 461.4,159.4 461.0,158.4 461.0,157.4 461.5,156.4 462.9,155.4 465.1,154.9 467.4,155.3 469.4,156.4 470.7,157.9 471.1,158.9 471.1,159.6 470.8,160.4 470.2,161.1 468.4,161.9Z" fill="#a2dbcc" fill-rule="evenodd"/><ellipse cx="589" cy="224.5" rx="8.5" ry="1.6" transform="rotate(29 589 224.5)" fill="#e6f6ef" fill-opacity="0.85" stroke="#2d4d3c" stroke-width="0.6" stroke-opacity="0.7"/><ellipse cx="589" cy="224.5" rx="4.5" ry="0.6" transform="rotate(29 589 224.5)" fill="none" stroke="#2d4d3c" stroke-width="0.7" stroke-opacity="0.8"/><ellipse cx="605.5" cy="233.3" rx="7.5" ry="2.0" transform="rotate(29 605.5 233.3)" fill="#e6f6ef" fill-opacity="0.85" stroke="#2d4d3c" stroke-width="0.6" stroke-opacity="0.7"/><ellipse cx="605.5" cy="233.3" rx="4.0" ry="0.7" transform="rotate(29 605.5 233.3)" fill="none" stroke="#2d4d3c" stroke-width="0.7" stroke-opacity="0.8"/><ellipse cx="619.5" cy="240.8" rx="7.5" ry="2.2" transform="rotate(29 619.5 240.8)" fill="#e6f6ef" fill-opacity="0.85" stroke="#2d4d3c" stroke-width="0.6" stroke-opacity="0.7"/><ellipse cx="619.5" cy="240.8" rx="4.5" ry="0.9" transform="rotate(29 619.5 240.8)" fill="none" stroke="#2d4d3c" stroke-width="0.7" stroke-opacity="0.8"/><ellipse cx="633.5" cy="248.3" rx="5.5" ry="1.5" transform="rotate(29 633.5 248.3)" fill="#e6f6ef" fill-opacity="0.85" stroke="#2d4d3c" stroke-width="0.6" stroke-opacity="0.7"/><ellipse cx="633.5" cy="248.3" rx="3.0" ry="0.5" transform="rotate(29 633.5 248.3)" fill="none" stroke="#2d4d3c" stroke-width="0.7" stroke-opacity="0.8"/><ellipse cx="645" cy="254.8" rx="5.0" ry="1.3" transform="rotate(29 645 254.8)" fill="#e6f6ef" fill-opacity="0.85" stroke="#2d4d3c" stroke-width="0.6" stroke-opacity="0.7"/><ellipse cx="645" cy="254.8" rx="2.5" ry="0.45" transform="rotate(29 645 254.8)" fill="none" stroke="#2d4d3c" stroke-width="0.7" stroke-opacity="0.8"/><ellipse cx="655" cy="260.6" rx="4.0" ry="1.0" transform="rotate(29 655 260.6)" fill="#e6f6ef" fill-opacity="0.85" stroke="#2d4d3c" stroke-width="0.6" stroke-opacity="0.7"/><ellipse cx="662" cy="264.5" rx="2.0" ry="0.65" transform="rotate(29 662 264.5)" fill="#e6f6ef" fill-opacity="0.85" stroke="#2d4d3c" stroke-width="0.6" stroke-opacity="0.7"/><ellipse cx="489.8" cy="168.1" rx="2.2" ry="0.7" transform="rotate(25 489.8 168.1)" fill="#f4fcf8" fill-opacity="0.75"/><ellipse cx="517.4" cy="186.5" rx="2.8" ry="0.8" transform="rotate(35 517.4 186.5)" fill="#f4fcf8" fill-opacity="0.95"/><ellipse cx="517.4" cy="186.5" rx="2.0" ry="0.7" transform="rotate(-45 517.4 186.5)" fill="#f4fcf8" fill-opacity="0.9"/><ellipse cx="521" cy="189" rx="1" ry="0.7" transform="rotate(0 521 189)" fill="#f4fcf8" fill-opacity="0.8"/><ellipse cx="530.3" cy="197.5" rx="1.4" ry="0.9" transform="rotate(0 530.3 197.5)" fill="#f4fcf8" fill-opacity="0.85"/><circle cx="460.5" cy="155.2" r="1.4" fill="#f2fbf7"/></g>
<line x1="57.60" y1="21.40" x2="57.60" y2="271.70" stroke="#d5d5d5" stroke-width="1.3"/>
<line x1="69.50" y1="284.0" x2="323.50" y2="284.0" stroke="#d5d5d5" stroke-width="1.3"/>
<text x="50.00" y="276.90" text-anchor="end">0.00</text>
<text x="50.00" y="226.84" text-anchor="end">0.05</text>
<text x="50.00" y="176.78" text-anchor="end">0.10</text>
<text x="50.00" y="126.72" text-anchor="end">0.15</text>
<text x="50.00" y="76.66" text-anchor="end">0.20</text>
<text x="50.00" y="26.60" text-anchor="end">0.25</text>
<text x="69.50" y="301.20" text-anchor="middle">0.0</text>
<text x="120.30" y="301.20" text-anchor="middle">0.2</text>
<text x="171.10" y="301.20" text-anchor="middle">0.4</text>
<text x="221.90" y="301.20" text-anchor="middle">0.6</text>
<text x="272.70" y="301.20" text-anchor="middle">0.8</text>
<text x="323.50" y="301.20" text-anchor="middle">1.0</text>
<text x="196.50" y="320.4" text-anchor="middle" font-size="16">p(diseased | image)</text>
<text x="196.50" y="15.0" text-anchor="middle" font-size="17.1">(a) correct</text>
<g transform="translate(11.50,165.2) rotate(-90) scale(0.83,1)"><text x="0" y="0" font-style="italic" font-size="18.3">σ</text></g>
<g transform="translate(12.40,155.6) rotate(-90) scale(1.12,1)"><text x="0" y="0" font-style="italic" font-size="10.9">pred</text></g>
<line x1="408.00" y1="21.40" x2="408.00" y2="271.70" stroke="#d5d5d5" stroke-width="1.3"/>
<line x1="420.10" y1="284.0" x2="673.70" y2="284.0" stroke="#d5d5d5" stroke-width="1.3"/>
<text x="400.40" y="276.90" text-anchor="end">0.00</text>
<text x="400.40" y="226.84" text-anchor="end">0.05</text>
<text x="400.40" y="176.78" text-anchor="end">0.10</text>
<text x="400.40" y="126.72" text-anchor="end">0.15</text>
<text x="400.40" y="76.66" text-anchor="end">0.20</text>
<text x="400.40" y="26.60" text-anchor="end">0.25</text>
<text x="420.10" y="301.20" text-anchor="middle">0.0</text>
<text x="470.82" y="301.20" text-anchor="middle">0.2</text>
<text x="521.54" y="301.20" text-anchor="middle">0.4</text>
<text x="572.26" y="301.20" text-anchor="middle">0.6</text>
<text x="622.98" y="301.20" text-anchor="middle">0.8</text>
<text x="673.70" y="301.20" text-anchor="middle">1.0</text>
<text x="546.90" y="320.4" text-anchor="middle" font-size="16">p(diseased | image)</text>
<text x="546.90" y="15.0" text-anchor="middle" font-size="17.1">(b) error</text>
<g transform="translate(361.90,165.2) rotate(-90) scale(0.83,1)"><text x="0" y="0" font-style="italic" font-size="18.3">σ</text></g>
<g transform="translate(362.80,155.6) rotate(-90) scale(1.12,1)"><text x="0" y="0" font-style="italic" font-size="10.9">pred</text></g>
</svg>
</body></html>
